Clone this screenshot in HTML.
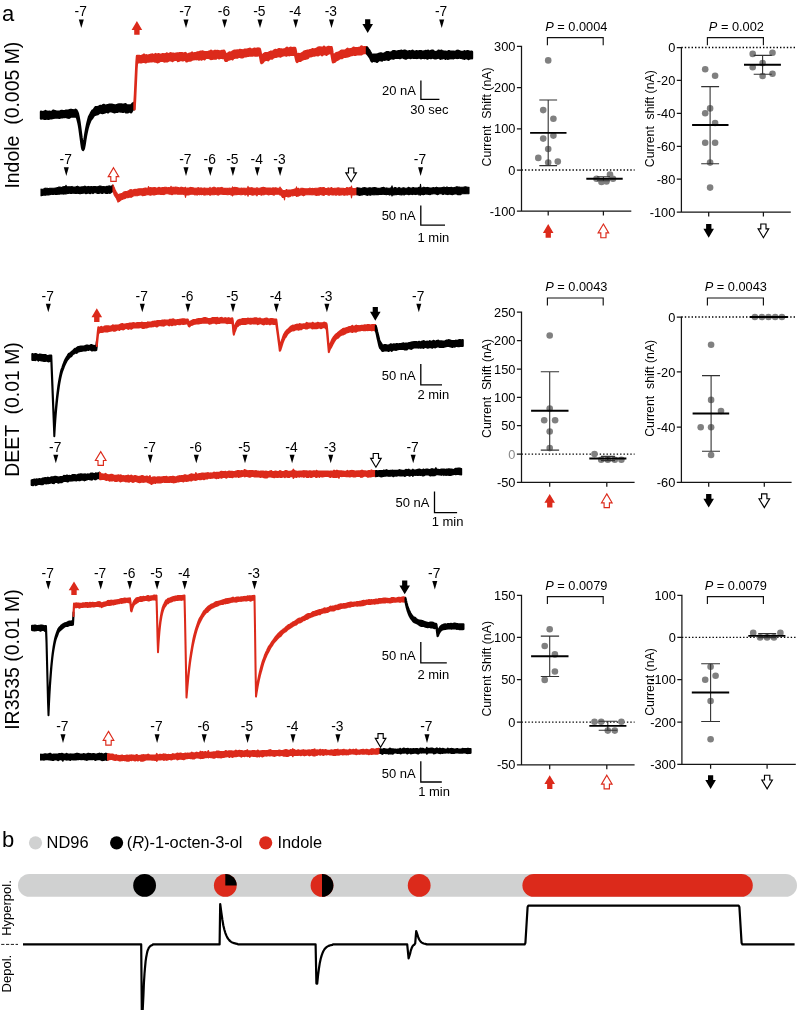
<!DOCTYPE html>
<html lang="en">
<head>
<meta charset="utf-8">
<title>Figure</title>
<style>
html,body{margin:0;padding:0;background:#fff;}
body{width:797px;height:1010px;overflow:hidden;}
svg{display:block;}
</style>
</head>
<body>
<svg width="797" height="1010" viewBox="0 0 797 1010" font-family="'Liberation Sans', Arial, Helvetica, sans-serif" fill="#000">
<rect width="797" height="1010" fill="#fff"/>
<text transform="translate(2.1 21.1) scale(1 1)" font-size="22" text-anchor="start">a</text>
<text transform="translate(1.9 846.9) scale(1 1)" font-size="22" text-anchor="start">b</text>
<text transform="translate(19 188.6) rotate(-90) scale(1 1.04)" font-size="19.45" text-anchor="start" xml:space="preserve">Indole  (0.005 M)</text>
<text transform="translate(19.3 476.8) rotate(-90) scale(1 1.04)" font-size="19.45" text-anchor="start" xml:space="preserve">DEET  (0.01 M)</text>
<text transform="translate(19.3 729.8) rotate(-90) scale(1 1.04)" font-size="19.45" text-anchor="start" xml:space="preserve">IR3535 (0.01 M)</text>
<polygon points="41,111.8 41.5,111.9 42,112 42.5,112.1 43,112.1 43.5,112 44,111.8 44.5,111.5 45,111.3 45.5,111 46,111.3 46.5,111.5 47,111.8 47.5,112.1 48,112 48.5,111.9 49,111.8 49.5,111.8 50,111.9 50.5,112 51,112 51.5,112 52,112 52.5,111.4 53,110.7 53.5,110.8 54,110.9 54.5,111.1 55,111.2 55.5,111.4 56,111.6 56.5,111.8 57,111.8 57.5,111.8 58,111.9 58.5,111.8 59,111.7 59.5,111.6 60,111.5 60.5,111.3 61,111 61.5,111.1 62,111 62.5,111 63,111.2 63.5,111.3 64,111.5 64.5,111.3 65,111.1 65.5,110.9 66,110.7 66.5,110.6 67,110.6 67.5,110.6 68,110.7 68.5,110.6 69,110.4 69.5,110.3 70,110.1 70.5,109.9 71,109.9 71.5,110 72,110.1 72.5,110.2 73,110.3 73.5,110.4 74,110.5 74.5,110.3 75,110.1 75.5,109.8 76,110.1 76.5,110.5 77,111.5 77.5,112.5 78,114.2 78.5,116.4 79,119.1 79.5,122.3 80,126 80.5,129.8 81,133.6 81.5,137.5 82,140.6 82.5,142.6 83,143.5 83.5,143.1 84,141.8 84.5,139.5 85,136.4 85.5,133 86,130.2 86.5,127.6 87,125.1 87.5,122.8 88,120.7 88.5,118.8 89,117.1 89.5,116 90,115 90.5,114.1 91,113 91.5,112.1 92,111.3 92.5,110.5 93,110.3 93.5,110.1 94,109.4 94.5,108.6 95,107.9 95.5,107.3 96,107.2 96.5,107.2 97,107.1 97.5,107.1 98,107.2 98.5,106.8 99,106.5 99.5,106.3 100,106 100.5,106 101,106 101.5,106.1 102,106 102.5,105.7 103,105.3 103.5,104.9 104,105 104.5,105.3 105,105.6 105.5,105.8 106,105.7 106.5,105.5 107,105.4 107.5,105.2 108,105.1 108.5,105 109,104.9 109.5,104.7 110,104.7 110.5,104.7 111,104.7 111.5,104.7 112,104.8 112.5,104.9 113,105 113.5,105.2 114,105.3 114.5,105.4 115,105.4 115.5,105.5 116,105.4 116.5,105.3 117,105.1 117.5,104.9 118,104.7 118.5,104.6 119,104.4 119.5,104.4 120,104.4 120.5,104.4 121,104.5 121.5,104.5 122,104.6 122.5,104.6 123,104.6 123.5,104.7 124,104.7 124.5,104.5 125,104.3 125.5,104.2 126,104.6 126.5,105.1 127,105.6 127.5,105.6 128,105.5 128.5,105.4 129,105.4 129.5,105.5 130,105.5 130.5,105.5 131,105.5 131.5,104.9 132,104.4 132.5,103.8 133,103.4 133.5,103.2 134,102.9 134,109.3 133.5,109.3 133,109.2 132.5,109.8 132,110.8 131.5,111.8 131,112.2 130.5,111.9 130,111.6 129.5,111.6 129,111.5 128.5,111.8 128,112.1 127.5,112.4 127,112.4 126.5,112.4 126,112.4 125.5,111.9 125,111.4 124.5,110.9 124,111.3 123.5,111.6 123,111.9 122.5,111.6 122,111.3 121.5,111.4 121,111.5 120.5,111.5 120,111.3 119.5,111.2 119,111.1 118.5,111.3 118,111.5 117.5,111.8 117,111.7 116.5,111.6 116,111.8 115.5,112 115,112.2 114.5,112.4 114,112.2 113.5,112 113,111.7 112.5,111.6 112,111.4 111.5,111.2 111,111.2 110.5,111.1 110,111.1 109.5,111.2 109,111.2 108.5,111.8 108,112.3 107.5,112.1 107,111.9 106.5,111.7 106,111.4 105.5,111.8 105,112.3 104.5,112.5 104,112.6 103.5,112.8 103,113 102.5,113 102,113 101.5,112.8 101,112.6 100.5,112.4 100,112.2 99.5,112.6 99,113.1 98.5,113.5 98,114 97.5,114.1 97,114.2 96.5,114.4 96,114.5 95.5,114.7 95,114.8 94.5,115 94,115.3 93.5,116 93,116.7 92.5,117.5 92,118.4 91.5,118.8 91,119.3 90.5,120.3 90,121.3 89.5,122.6 89,123.8 88.5,125.2 88,126.9 87.5,128.7 87,130.9 86.5,133.2 86,135.8 85.5,138.7 85,142.1 84.5,145.2 84,147.8 83.5,149.3 83,149.9 82.5,149.1 82,147.1 81.5,143.9 81,140.1 80.5,136.4 80,132.7 79.5,128.9 79,125.8 78.5,123.3 78,121.2 77.5,119.1 77,117.7 76.5,116.8 76,116.4 75.5,116.5 75,116.6 74.5,116.6 74,116.6 73.5,116.6 73,116.6 72.5,116.5 72,116.5 71.5,116.6 71,116.6 70.5,116.7 70,117.1 69.5,117.4 69,117.7 68.5,117.6 68,117.6 67.5,117.4 67,117.2 66.5,117.1 66,117 65.5,116.9 65,116.9 64.5,117 64,117 63.5,117.1 63,117.1 62.5,117.2 62,117.2 61.5,117.3 61,117.3 60.5,117.5 60,117.6 59.5,117.7 59,117.7 58.5,117.6 58,117.6 57.5,117.5 57,117.5 56.5,117.5 56,117.5 55.5,117.5 55,117.4 54.5,117.6 54,117.7 53.5,117.8 53,118 52.5,118 52,118.1 51.5,118.3 51,118.2 50.5,118.2 50,118.1 49.5,118.3 49,118.6 48.5,118.9 48,118.7 47.5,118.6 47,118.5 46.5,118.4 46,118.7 45.5,118.9 45,118.8 44.5,118.7 44,118.6 43.5,118.5 43,118.4 42.5,118.3 42,118.1 41.5,118.4 41,118.6" fill="#000000" stroke="#000000" stroke-width="2.4" stroke-linejoin="round"/>
<polygon points="134.5,102.6 135,93.7 135.5,83.1 136,72.7 136.5,62.2 137,56 137.5,56 138,55.9 138.5,56 139,55.9 139.5,56 140,56.1 140.5,56.1 141,56.1 141.5,56 142,56.1 142.5,55.6 143,55.3 143.5,55 144,54.6 144.5,55 145,55.5 145.5,55.9 146,55.6 146.5,55.3 147,55.6 147.5,55.8 148,55.9 148.5,55.7 149,55.4 149.5,55.2 150,55.1 150.5,54.9 151,54.8 151.5,54.7 152,54.6 152.5,54.4 153,54.8 153.5,55 154,55.4 154.5,55 155,54.5 155.5,54.1 156,54.5 156.5,54.9 157,54.8 157.5,54.6 158,54.4 158.5,54.1 159,54.4 159.5,54.6 160,54.7 160.5,54.9 161,55 161.5,54.7 162,54.5 162.5,54.1 163,54.2 163.5,54.4 164,54.5 164.5,54.4 165,54.3 165.5,54.2 166,54 166.5,53.7 167,53.4 167.5,54 168,54.6 168.5,54.3 169,54 169.5,53.7 170,53.5 170.5,53.3 171,53.4 171.5,53.6 172,53.7 172.5,53.7 173,53.7 173.5,53.8 174,53.9 174.5,53.9 175,54 175.5,53.9 176,53.7 176.5,53.6 177,53.5 177.5,53.5 178,53.5 178.5,53.4 179,53.4 179.5,53.3 180,53.1 180.5,53.1 181,53.1 181.5,53.1 182,53.2 182.5,53.4 183,53.6 183.5,53.8 184,53.6 184.5,53.5 185,53.2 185.5,53 186,53.5 186.5,54.8 187,55 187.5,54.9 188,54.6 188.5,54.2 189,53.9 189.5,53.8 190,53.8 190.5,53.8 191,53.4 191.5,53 192,52.6 192.5,53.2 193,53.7 193.5,53.6 194,53.5 194.5,53.3 195,53.2 195.5,53.2 196,53 196.5,53 197,52.7 197.5,52.4 198,52.4 198.5,52.4 199,52.4 199.5,52.1 200,51.9 200.5,51.8 201,51.7 201.5,51.7 202,51.6 202.5,51.5 203,51.6 203.5,51.8 204,52.1 204.5,52.1 205,52.1 205.5,52.1 206,52.1 206.5,52.2 207,52.3 207.5,52.3 208,52.1 208.5,51.9 209,51.7 209.5,51.6 210,51.4 210.5,51.1 211,50.8 211.5,51.2 212,51.4 212.5,51.7 213,52 213.5,51.6 214,51.3 214.5,50.9 215,50.9 215.5,51 216,51 216.5,51.1 217,51.1 217.5,51 218,51 218.5,51.2 219,51.4 219.5,51.6 220,51.5 220.5,51.6 221,51.4 221.5,51.1 222,50.9 222.5,50.9 223,51 223.5,50.9 224,50.7 224.5,51.6 225,52.7 225.5,54.2 226,54.3 226.5,54.4 227,54.2 227.5,53.9 228,53.6 228.5,53.2 229,52.9 229.5,52.5 230,52.5 230.5,52.6 231,52.6 231.5,52.6 232,52 232.5,51.5 233,51.3 233.5,51 234,50.9 234.5,50.8 235,50.8 235.5,50.7 236,50.7 236.5,50.6 237,50.5 237.5,50.5 238,50.6 238.5,50.7 239,50.4 239.5,50.2 240,49.9 240.5,50.1 241,50.2 241.5,50.3 242,50.3 242.5,50.4 243,50.4 243.5,50.5 244,50.2 244.5,49.8 245,49.8 245.5,49.8 246,49.8 246.5,49.7 247,49.6 247.5,49.5 248,49.4 248.5,49.3 249,49.1 249.5,48.9 250,48.8 250.5,49.1 251,49.4 251.5,49.6 252,49.7 252.5,49.7 253,49.4 253.5,49.1 254,48.9 254.5,48.7 255,48.9 255.5,48.9 256,49 256.5,48.9 257,48.8 257.5,48.6 258,48.5 258.5,48.6 259,48.6 259.5,48.6 260,49.7 260.5,52.1 261,54.7 261.5,56 262,55.6 262.5,55.2 263,54.9 263.5,54.4 264,54 264.5,53.5 265,53.4 265.5,53.2 266,53.1 266.5,53.1 267,53.1 267.5,53.1 268,53.1 268.5,52.9 269,52.7 269.5,52.4 270,52.1 270.5,51.9 271,51.6 271.5,51.8 272,51.9 272.5,51.9 273,51.5 273.5,51.1 274,50.5 274.5,50.3 275,50.1 275.5,49.9 276,50.2 276.5,50.4 277,50.7 277.5,50.2 278,49.8 278.5,49.2 279,49.2 279.5,49.3 280,49.4 280.5,49.4 281,49.5 281.5,49.5 282,49.6 282.5,49.6 283,49.6 283.5,49.6 284,49.4 284.5,49.4 285,49.3 285.5,48.9 286,48.5 286.5,48.1 287,47.8 287.5,48.1 288,48.3 288.5,48.6 289,48.4 289.5,48.4 290,48.1 290.5,47.8 291,47.9 291.5,47.9 292,48 292.5,48.2 293,48.1 293.5,48 294,47.9 294.5,48 295,48 295.5,49.5 296,52 296.5,54.9 297,55.9 297.5,55.8 298,54.8 298.5,53.9 299,54 299.5,54.2 300,54.4 300.5,54.1 301,53.9 301.5,53.6 302,53.3 302.5,53 303,52.7 303.5,52.3 304,51.8 304.5,51.4 305,51.4 305.5,51.3 306,51.2 306.5,51.3 307,50.9 307.5,50.6 308,50.6 308.5,50.6 309,50.6 309.5,50.4 310,50.2 310.5,50.1 311,50.1 311.5,49.8 312,49.5 312.5,49.1 313,49.3 313.5,49.5 314,49.6 314.5,49.5 315,49.4 315.5,49.2 316,49 316.5,48.7 317,48.5 317.5,48.2 318,47.9 318.5,47.6 319,47.5 319.5,47.5 320,47.4 320.5,47.6 321,47.8 321.5,47.8 322,47.9 322.5,47.9 323,47.5 323.5,47.2 324,46.8 324.5,47.2 325,47.5 325.5,47.8 326,47.7 326.5,47.7 327,47.7 327.5,47.4 328,47.2 328.5,46.9 329,47 329.5,47.1 330,47.2 330.5,47.2 331,47.2 331.5,47.1 332,49.5 332.5,52.9 333,55.6 333.5,55.8 334,55.3 334.5,54.9 335,54.4 335.5,53.8 336,53.3 336.5,53.1 337,53 337.5,52.9 338,52.9 338.5,52.6 339,52.4 339.5,52.1 340,51.9 340.5,51.4 341,51 341.5,50.7 342,50.6 342.5,50.6 343,50.7 343.5,50.7 344,50.7 344.5,50.7 345,50.6 345.5,50.4 346,50.2 346.5,49.7 347,49.3 347.5,48.8 348,49.1 348.5,49.5 349,49.8 349.5,49.6 350,49.2 350.5,49.1 351,49.1 351.5,49 352,49.1 352.5,48.6 353,48.2 353.5,47.8 354,47.9 354.5,48 355,48.1 355.5,48.3 356,48.3 356.5,48.4 357,48.3 357.5,48.2 358,48.1 358.5,48 359,48 359.5,48 360,47.9 360.5,47.4 361,46.9 361.5,46.4 362,46.8 362.5,47.2 363,47.4 363.5,47.4 364,47.3 364.5,47.3 365,47.2 365.5,47.2 366,47.3 366.5,47.3 367,47.5 367,53.4 366.5,53.1 366,53 365.5,53 365,52.9 364.5,53 364,53 363.5,53.2 363,53.3 362.5,53.5 362,53.9 361.5,54.2 361,54.3 360.5,54.3 360,54.4 359.5,54.4 359,54.3 358.5,54.3 358,54.3 357.5,54.1 357,54.3 356.5,54.5 356,54.7 355.5,54.9 355,54.8 354.5,54.7 354,54.6 353.5,54.5 353,54.7 352.5,54.9 352,55 351.5,55 351,55.1 350.5,55.3 350,55.5 349.5,55.8 349,55.9 348.5,56.1 348,56.2 347.5,56.4 347,56.5 346.5,56.6 346,56.6 345.5,56.8 345,56.8 344.5,56.7 344,56.7 343.5,57 343,57.4 342.5,57.6 342,58 341.5,58 341,57.9 340.5,57.9 340,58.2 339.5,58.4 339,58.8 338.5,59.1 338,59.4 337.5,59.6 337,59.9 336.5,60.1 336,60.5 335.5,60.8 335,61.3 334.5,61.8 334,61.9 333.5,62.1 333,62.2 332.5,60 332,57.1 331.5,54.1 331,53.3 330.5,53.2 330,52.9 329.5,53.1 329,53.2 328.5,53.3 328,53.7 327.5,54 327,54.3 326.5,54.7 326,54.4 325.5,54.3 325,54.1 324.5,53.8 324,53.9 323.5,54 323,54.4 322.5,54.9 322,55.2 321.5,54.6 321,54.1 320.5,54.2 320,54.3 319.5,54.3 319,54.7 318.5,55 318,55.4 317.5,55.2 317,54.9 316.5,54.7 316,55 315.5,55.2 315,55.4 314.5,55.5 314,55.5 313.5,55.4 313,55.3 312.5,55.6 312,55.9 311.5,56.1 311,56.2 310.5,56.3 310,56.3 309.5,56.4 309,56.4 308.5,57.1 308,57.9 307.5,58.1 307,58.2 306.5,58.4 306,58.5 305.5,58.6 305,58.8 304.5,58.9 304,58.9 303.5,59.1 303,59.2 302.5,59.3 302,59.7 301.5,60 301,60.4 300.5,60.7 300,60.8 299.5,60.8 299,60.8 298.5,61 298,61.2 297.5,61.6 297,61.9 296.5,61.1 296,58.9 295.5,56.7 295,55 294.5,54.8 294,54.6 293.5,54.7 293,54.7 292.5,54.7 292,54.7 291.5,54.7 291,54.8 290.5,54.8 290,54.9 289.5,55.1 289,55.2 288.5,55 288,54.8 287.5,54.6 287,55.1 286.5,55.6 286,55.4 285.5,55.3 285,55.1 284.5,55 284,55.1 283.5,55.2 283,55.4 282.5,55.5 282,55.7 281.5,56 281,56.2 280.5,56.6 280,56.3 279.5,56.1 279,55.8 278.5,56 278,56.2 277.5,56.3 277,56.4 276.5,56.6 276,56.8 275.5,56.9 275,56.9 274.5,57 274,57.1 273.5,57.2 273,57.7 272.5,58.1 272,58.6 271.5,58.5 271,58.3 270.5,58.5 270,58.7 269.5,58.9 269,59.4 268.5,59.8 268,60.2 267.5,60 267,59.8 266.5,59.6 266,59.8 265.5,60 265,60.2 264.5,60.4 264,60.6 263.5,61.3 263,61.9 262.5,62.5 262,62.8 261.5,63.1 261,61.8 260.5,58.9 260,56.1 259.5,54.7 259,55 258.5,55.2 258,55.3 257.5,55.5 257,55.6 256.5,55.6 256,55.5 255.5,55.5 255,55.5 254.5,55.4 254,55.3 253.5,55.3 253,55.4 252.5,55.5 252,55.5 251.5,55.5 251,55.5 250.5,55.5 250,55.5 249.5,55.5 249,55.6 248.5,55.7 248,55.8 247.5,55.8 247,56 246.5,56.1 246,56.2 245.5,56.1 245,56.2 244.5,56.2 244,56.5 243.5,56.8 243,57.1 242.5,57.2 242,57.3 241.5,57.3 241,57.2 240.5,56.9 240,56.8 239.5,56.8 239,56.8 238.5,57 238,57.2 237.5,57.5 237,57.5 236.5,57.5 236,57.6 235.5,57.5 235,57.6 234.5,57.7 234,57.8 233.5,57.9 233,58.5 232.5,59.2 232,58.8 231.5,58.4 231,58.7 230.5,58.9 230,59.1 229.5,59.4 229,59.5 228.5,59.5 228,59.6 227.5,60.1 227,60.7 226.5,60.7 226,60.8 225.5,60.9 225,59.7 224.5,58.4 224,57.1 223.5,57.1 223,57.6 222.5,58 222,57.9 221.5,57.9 221,57.8 220.5,57.7 220,57.8 219.5,58.1 219,58.3 218.5,57.9 218,57.5 217.5,57.2 217,57.7 216.5,58.1 216,58.5 215.5,58.5 215,58.5 214.5,58.5 214,58.5 213.5,58.4 213,58.5 212.5,58.7 212,58.8 211.5,58.9 211,59 210.5,58.7 210,58.4 209.5,58.2 209,57.8 208.5,57.8 208,57.8 207.5,57.8 207,57.9 206.5,57.9 206,57.9 205.5,58 205,58.7 204.5,59.3 204,58.9 203.5,58.6 203,58.3 202.5,58.7 202,59.2 201.5,59.6 201,59.1 200.5,58.6 200,59 199.5,59.2 199,59.6 198.5,59.3 198,59 197.5,58.7 197,59 196.5,59.2 196,59 195.5,58.9 195,59 194.5,59.1 194,59.2 193.5,59.2 193,59.3 192.5,59.3 192,59.6 191.5,59.9 191,60.3 190.5,60.5 190,60.5 189.5,60.4 189,60.5 188.5,60.5 188,60.7 187.5,61 187,61.3 186.5,61.4 186,60.4 185.5,59.6 185,59.4 184.5,59.6 184,59.9 183.5,60.2 183,60.4 182.5,60.3 182,60.1 181.5,60 181,59.8 180.5,60 180,60.1 179.5,60.3 179,60.6 178.5,60.8 178,61 177.5,60.3 177,59.6 176.5,59.7 176,59.7 175.5,59.8 175,59.8 174.5,59.9 174,60.1 173.5,60.2 173,60.6 172.5,61 172,60.7 171.5,60.4 171,60.1 170.5,60.1 170,60.2 169.5,60.2 169,60.2 168.5,60.6 168,60.8 167.5,61.1 167,61.4 166.5,61.3 166,61.2 165.5,61.1 165,61.4 164.5,61.5 164,61.3 163.5,60.9 163,60.5 162.5,60.7 162,60.8 161.5,60.8 161,60.9 160.5,60.8 160,60.8 159.5,61.3 159,61.6 158.5,61.9 158,62.1 157.5,62.2 157,61.9 156.5,61.6 156,61.3 155.5,61.4 155,61.5 154.5,61.4 154,61.2 153.5,61 153,61.1 152.5,61.1 152,61.2 151.5,61.3 151,61.3 150.5,61.3 150,61.3 149.5,61.4 149,61.5 148.5,61.6 148,61.6 147.5,61.6 147,61.6 146.5,61.8 146,62.1 145.5,62.4 145,62 144.5,61.6 144,61.7 143.5,61.7 143,61.7 142.5,61.9 142,62.1 141.5,62.2 141,62.4 140.5,62.3 140,62.2 139.5,62 139,61.9 138.5,62.3 138,62.5 137.5,62.4 137,62.2 136.5,68.3 136,79.2 135.5,90 135,101 134.5,109.4" fill="#dc2a1b" stroke="#dc2a1b" stroke-width="2.4" stroke-linejoin="round"/>
<polygon points="367,47.5 367.5,48.2 368,49 368.5,49.5 369,50.1 369.5,50.8 370,51.8 370.5,52.7 371,53.6 371.5,54.4 372,55.2 372.5,55.1 373,54.9 373.5,54.8 374,54.7 374.5,54.7 375,54.7 375.5,54.8 376,54.8 376.5,54.8 377,54.9 377.5,54.6 378,54.3 378.5,54 379,53.8 379.5,53.6 380,53.6 380.5,53.5 381,53.4 381.5,53.7 382,53.8 382.5,54 383,53.9 383.5,53.9 384,53.8 384.5,53.7 385,53.3 385.5,52.9 386,52.6 386.5,52.4 387,52.1 387.5,52.1 388,52.1 388.5,52.1 389,52.5 389.5,53 390,52.9 390.5,52.7 391,52.7 391.5,52.3 392,52 392.5,51.6 393,51.2 393.5,51.2 394,51.3 394.5,51.3 395,51.4 395.5,51.5 396,51.6 396.5,51.7 397,51.7 397.5,51.7 398,51.4 398.5,51.1 399,51.2 399.5,51.2 400,51 400.5,51 401,50.9 401.5,50.8 402,51.2 402.5,51.5 403,51.3 403.5,51 404,50.7 404.5,50.8 405,50.8 405.5,50.9 406,51.1 406.5,51.3 407,51.5 407.5,51.7 408,51.6 408.5,51.5 409,51.4 409.5,51.3 410,51.4 410.5,51.5 411,51.7 411.5,51.4 412,51.1 412.5,50.8 413,51.1 413.5,51.5 414,51.8 414.5,51.8 415,51.7 415.5,51.6 416,51.4 416.5,51.3 417,51.2 417.5,51.5 418,51.8 418.5,51.5 419,51.3 419.5,51.2 420,51.2 420.5,51.2 421,51.1 421.5,51.3 422,51.5 422.5,51.7 423,51.7 423.5,51.6 424,51.5 424.5,51.5 425,51.3 425.5,51.1 426,50.9 426.5,51.3 427,51.7 427.5,51.1 428,50.7 428.5,51.2 429,51.8 429.5,51.5 430,51.4 430.5,51.3 431,51 431.5,50.9 432,50.7 432.5,50.7 433,50.7 433.5,51.1 434,51.6 434.5,52 435,52.1 435.5,52.1 436,52 436.5,52 437,52 437.5,51.5 438,51.2 438.5,50.7 439,50.9 439.5,51 440,51.3 440.5,51.1 441,50.9 441.5,50.7 442,51.1 442.5,51.3 443,51.6 443.5,51.9 444,51.8 444.5,51.8 445,51.7 445.5,51.8 446,51.9 446.5,52 447,52 447.5,51.8 448,51.6 448.5,51.3 449,51.2 449.5,51.4 450,51.6 450.5,51.7 451,51.7 451.5,51.7 452,51.7 452.5,51.6 453,51.6 453.5,51.7 454,51.8 454.5,51.9 455,52 455.5,52 456,51.5 456.5,51 457,51 457.5,50.9 458,50.8 458.5,51 459,51.1 459.5,51.3 460,51.6 460.5,52 461,51.9 461.5,51.9 462,51.9 462.5,52 463,52 463.5,52 464,51.7 464.5,51.3 465,51.6 465.5,52 466,51.7 466.5,51.5 467,51.2 467.5,51.3 468,51.3 468.5,51.4 469,51.6 469.5,51.7 470,52 470.5,51.9 471,51.8 471.5,51.7 472,51.9 472,58.2 471.5,57.9 471,58.1 470.5,58.2 470,58.3 469.5,58.4 469,58.7 468.5,59 468,58.7 467.5,58.5 467,58.3 466.5,58 466,58 465.5,58.2 465,58.4 464.5,58.7 464,58.6 463.5,58.4 463,58.3 462.5,58.2 462,58 461.5,57.9 461,57.7 460.5,57.7 460,57.6 459.5,57.6 459,57.6 458.5,57.7 458,57.7 457.5,57.9 457,58 456.5,57.8 456,57.7 455.5,57.5 455,57.7 454.5,57.7 454,57.9 453.5,58.2 453,58.1 452.5,58.1 452,58.2 451.5,58.1 451,58.1 450.5,58.1 450,58.2 449.5,58.2 449,58.3 448.5,58.5 448,58.8 447.5,58.3 447,57.9 446.5,58.1 446,58.4 445.5,58.7 445,58.3 444.5,58 444,57.5 443.5,57.8 443,58.1 442.5,58.2 442,58.4 441.5,58.4 441,58.5 440.5,58.7 440,58.3 439.5,57.9 439,57.5 438.5,57.6 438,57.7 437.5,57.7 437,57.9 436.5,58.1 436,58.2 435.5,58.2 435,58.2 434.5,58.2 434,58 433.5,57.9 433,57.7 432.5,57.5 432,57.7 431.5,57.9 431,58.1 430.5,58 430,57.7 429.5,57.5 429,57.7 428.5,57.9 428,58.2 427.5,58.6 427,58.4 426.5,58 426,57.7 425.5,57.9 425,57.9 424.5,58.1 424,57.9 423.5,57.8 423,57.7 422.5,57.5 422,57.7 421.5,58 421,58.3 420.5,58 420,57.6 419.5,57.5 419,57.5 418.5,57.5 418,57.7 417.5,57.8 417,58 416.5,57.9 416,57.7 415.5,57.7 415,57.7 414.5,57.6 414,57.8 413.5,57.9 413,57.7 412.5,57.5 412,57.4 411.5,57.7 411,57.9 410.5,58.1 410,57.9 409.5,57.7 409,57.4 408.5,57.6 408,57.7 407.5,57.9 407,57.9 406.5,58.2 406,58.6 405.5,58.5 405,58.3 404.5,58.1 404,58 403.5,57.8 403,57.5 402.5,57.2 402,57.3 401.5,57.3 401,57.6 400.5,57.8 400,58.1 399.5,58 399,57.9 398.5,57.8 398,57.6 397.5,57.7 397,57.8 396.5,57.8 396,57.8 395.5,57.9 395,57.9 394.5,58 394,58.3 393.5,58.6 393,58.5 392.5,58.4 392,58.3 391.5,58.3 391,58.3 390.5,58.3 390,58.7 389.5,59.1 389,59.5 388.5,59.9 388,59.6 387.5,59.4 387,59.2 386.5,59 386,59.2 385.5,59.5 385,59.7 384.5,59.7 384,59.5 383.5,59.4 383,59.7 382.5,60.1 382,60.5 381.5,60.4 381,60.2 380.5,60.1 380,60.1 379.5,60.1 379,60.1 378.5,60.5 378,61 377.5,61.3 377,61.8 376.5,61.1 376,60.5 375.5,60.9 375,61.2 374.5,61 374,60.7 373.5,60.5 373,60.8 372.5,61.1 372,61.4 371.5,60.9 371,59.7 370.5,58.4 370,57.6 369.5,56.8 369,56 368.5,55.4 368,54.8 367.5,54.2 367,53.4" fill="#000000" stroke="#000000" stroke-width="2.4" stroke-linejoin="round"/>
<text transform="translate(80.7 16.3) scale(1 1)" font-size="13.8" text-anchor="middle">-7</text>
<polygon points="78.8,19.4 83.8,19.4 81.3,28" fill="#000"/>
<text transform="translate(185.4 16.3) scale(1 1)" font-size="13.8" text-anchor="middle">-7</text>
<polygon points="183.5,19.4 188.5,19.4 186,28" fill="#000"/>
<text transform="translate(224 16.3) scale(1 1)" font-size="13.8" text-anchor="middle">-6</text>
<polygon points="222.1,19.4 227.1,19.4 224.6,28" fill="#000"/>
<text transform="translate(259.4 16.3) scale(1 1)" font-size="13.8" text-anchor="middle">-5</text>
<polygon points="257.5,19.4 262.5,19.4 260,28" fill="#000"/>
<text transform="translate(295.1 16.3) scale(1 1)" font-size="13.8" text-anchor="middle">-4</text>
<polygon points="293.2,19.4 298.2,19.4 295.7,28" fill="#000"/>
<text transform="translate(330.9 16.3) scale(1 1)" font-size="13.8" text-anchor="middle">-3</text>
<polygon points="329,19.4 334,19.4 331.5,28" fill="#000"/>
<text transform="translate(441.1 16.3) scale(1 1)" font-size="13.8" text-anchor="middle">-7</text>
<polygon points="439.2,19.4 444.2,19.4 441.7,28" fill="#000"/>
<polygon points="136.9,21.1 142.2,30 139.6,30 139.6,34.8 134.2,34.8 134.2,30 131.6,30" fill="#dc2a1b"/>
<polygon points="367.7,33 373,24.1 370.3,24.1 370.3,19.3 365.1,19.3 365.1,24.1 362.4,24.1" fill="#000000"/>
<path d="M420.9 80.5V99.3H439.4" fill="none" stroke="#000" stroke-width="1.3"/>
<text transform="translate(415.9 94.7) scale(1 1.04)" font-size="13" text-anchor="end">20 nA</text>
<text transform="translate(410.2 114.3) scale(1 1.04)" font-size="13" text-anchor="start">30 sec</text>
<polygon points="41,189.1 41.5,189.2 42,189.3 42.5,189.4 43,189.3 43.5,189.2 44,188.8 44.5,188.4 45,188.1 45.5,188.2 46,188.4 46.5,188.3 47,188.3 47.5,188.3 48,188.5 48.5,188.7 49,188.5 49.5,188.3 50,188.3 50.5,188.3 51,188.4 51.5,188.2 52,188.2 52.5,188.2 53,188.2 53.5,188.2 54,188.3 54.5,188.2 55,188.1 55.5,188.1 56,188 56.5,187.9 57,187.8 57.5,187.6 58,187.4 58.5,187.1 59,187 59.5,187 60,187.1 60.5,187.3 61,187.4 61.5,187.5 62,187.3 62.5,187 63,186.8 63.5,186.7 64,186.6 64.5,186.5 65,186.6 65.5,186.7 66,185.2 66.5,186.7 67,186.8 67.5,186.8 68,186.8 68.5,186.8 69,186.8 69.5,186.8 70,186.7 70.5,186.7 71,186.7 71.5,186.6 72,186.4 72.5,186.7 73,186.9 73.5,187.1 74,187.1 74.5,187.1 75,187.2 75.5,187.1 76,186.8 76.5,186.6 77,186.4 77.5,186.1 78,186.4 78.5,186.8 79,187.1 79.5,187 80,187 80.5,187 81,187 81.5,186.9 82,186.9 82.5,186.8 83,186.7 83.5,186.7 84,186.4 84.5,186.2 85,186.1 85.5,186.5 86,186.9 86.5,186.9 87,186.9 87.5,186.8 88,186.6 88.5,186.4 89,186.6 89.5,186.7 90,186.7 90.5,186.7 91,186.6 91.5,186.6 92,186.7 92.5,186.8 93,186.7 93.5,186.6 94,186.5 94.5,186.5 95,186.5 95.5,186.6 96,186.7 96.5,186.7 97,186.8 97.5,186.7 98,186.6 98.5,186.4 99,186.2 99.5,186 100,186.1 100.5,186.1 101,186.2 101.5,186.2 102,186.4 102.5,186.6 103,186.7 103.5,186.6 104,186.5 104.5,186.7 105,186.9 105.5,186.7 106,186.6 106.5,186.4 107,186.4 107.5,186.4 108,186.5 108.5,186.2 109,185.8 109.5,186 110,186.1 110.5,186.2 111,186.4 111.5,186.2 112,185.7 112.5,185.2 112.5,191.8 112,192 111.5,192.4 111,192.7 110.5,193.1 110,193.4 109.5,193.2 109,192.9 108.5,193.1 108,193.2 107.5,193.4 107,193.4 106.5,193.5 106,193.5 105.5,193.3 105,193.1 104.5,192.9 104,192.6 103.5,192.9 103,193.2 102.5,193.5 102,193.4 101.5,193.2 101,193.1 100.5,192.9 100,192.7 99.5,193 99,193.5 98.5,193.5 98,193.5 97.5,193.4 97,193.3 96.5,193 96,192.8 95.5,192.7 95,192.6 94.5,192.6 94,192.9 93.5,193.2 93,193.6 92.5,193.2 92,192.8 91.5,193.1 91,193.3 90.5,193.6 90,193.6 89.5,193.5 89,193.4 88.5,193.1 88,192.9 87.5,193.2 87,193.4 86.5,193.6 86,193.6 85.5,193.6 85,193.2 84.5,192.8 84,193 83.5,193.1 83,193.2 82.5,193.3 82,193.4 81.5,193.4 81,193.5 80.5,193.7 80,193.8 79.5,193.6 79,193.5 78.5,193.4 78,193.4 77.5,193.3 77,193.3 76.5,193.4 76,193.5 75.5,193.5 75,193.4 74.5,193.3 74,193.3 73.5,193.3 73,193.2 72.5,193.1 72,193.2 71.5,193.5 71,193.5 70.5,193.4 70,193.3 69.5,193.3 69,193.3 68.5,193.4 68,193.5 67.5,193.5 67,193.6 66.5,193.7 66,193.9 65.5,194 65,193.9 64.5,193.9 64,194 63.5,194.1 63,194 62.5,194 62,194 61.5,193.9 61,193.9 60.5,194 60,194 59.5,194.2 59,194.3 58.5,194.2 58,194.3 57.5,194.2 57,194.4 56.5,194.4 56,194.5 55.5,194.4 55,194.2 54.5,194.1 54,194.3 53.5,194.4 53,194.6 52.5,194.4 52,194.3 51.5,194.3 51,194.4 50.5,194.5 50,194.6 49.5,194.8 49,194.9 48.5,194.9 48,194.9 47.5,194.9 47,194.8 46.5,194.9 46,195.1 45.5,195.2 45,195.2 44.5,195.1 44,195.1 43.5,195 43,195.2 42.5,195.4 42,195.5 41.5,195.7 41,195.8" fill="#000000" stroke="#000000" stroke-width="1.1" stroke-linejoin="round"/>
<polygon points="113,184.7 113.5,185.6 114,187.3 114.5,188.3 115,189.4 115.5,190.4 116,191.5 116.5,192.3 117,193.1 117.5,194 118,194.8 118.5,194.5 119,194.2 119.5,194.1 120,194 120.5,193.9 121,193.8 121.5,193.6 122,193.5 122.5,193.1 123,192.7 123.5,192.3 124,191.9 124.5,191.8 125,191.7 125.5,191.6 126,191.6 126.5,191.5 127,191.5 127.5,191.3 128,191.1 128.5,190.9 129,190.5 129.5,190.1 130,189.8 130.5,189.7 131,189.6 131.5,189.8 132,190 132.5,190.3 133,190 133.5,189.8 134,189.6 134.5,189.4 135,189.4 135.5,189.4 136,189.5 136.5,189.4 137,189.2 137.5,189.1 138,189 138.5,188.9 139,188.9 139.5,188.8 140,188.7 140.5,188.7 141,188.8 141.5,188.7 142,188.8 142.5,188.8 143,188.8 143.5,188.6 144,188.3 144.5,188.2 145,188.1 145.5,188 146,188.1 146.5,188.3 147,188.4 147.5,188.3 148,188.2 148.5,186.5 149,188 149.5,187.9 150,187.7 150.5,187.6 151,187.7 151.5,187.7 152,187.8 152.5,187.9 153,187.8 153.5,187.7 154,187.5 154.5,187.6 155,187.6 155.5,187.7 156,187.9 156.5,188.2 157,188.1 157.5,188 158,187.7 158.5,187.5 159,187.3 159.5,187.6 160,187.8 160.5,188 161,187.9 161.5,187.8 162,187.7 162.5,187.5 163,187.5 163.5,187.5 164,187.5 164.5,187.4 165,187.3 165.5,187.2 166,187.3 166.5,187.4 167,187.6 167.5,187.7 168,187.7 168.5,187.6 169,187.5 169.5,187.7 170,187.8 170.5,187.6 171,186.2 171.5,187.4 172,187.3 172.5,187.3 173,187.4 173.5,187.4 174,187.4 174.5,187.3 175,187.3 175.5,187.1 176,187.1 176.5,187.3 177,187.3 177.5,187.4 178,187.5 178.5,187.6 179,187.8 179.5,187.9 180,187.7 180.5,187.4 181,187.1 181.5,187.2 182,187.4 182.5,187.5 183,187.7 183.5,187.7 184,187.7 184.5,187.7 185,187.9 185.5,187.2 186,188.2 186.5,188.2 187,188.1 187.5,188.1 188,188.1 188.5,188.1 189,187.9 189.5,187.7 190,187.6 190.5,187.4 191,187.5 191.5,187.5 192,187.6 192.5,187.7 193,187.8 193.5,187.9 194,188.1 194.5,188.3 195,188.3 195.5,188.2 196,188.1 196.5,188.3 197,188.4 197.5,188 198,187.6 198.5,187.8 199,188 199.5,188.1 200,188.2 200.5,188 201,187.9 201.5,188 202,188.2 202.5,188.3 203,188.4 203.5,188.2 204,187.9 204.5,188 205,188.1 205.5,188.2 206,188.2 206.5,188.3 207,188.3 207.5,188.3 208,188.4 208.5,188.4 209,188.3 209.5,188.3 210,187.3 210.5,188.2 211,188.2 211.5,188.1 212,187.9 212.5,187.7 213,187.4 213.5,187.2 214,187.3 214.5,187.2 215,187.5 215.5,187.7 216,188 216.5,188.2 217,188 217.5,187.8 218,187.7 218.5,187.8 219,187.9 219.5,187.9 220,188 220.5,187.8 221,187.6 221.5,187.5 222,187.4 222.5,187.8 223,188.1 223.5,188.3 224,188.4 224.5,188.4 225,188.4 225.5,188.4 226,188.3 226.5,188.2 227,188.2 227.5,188.4 228,188.4 228.5,188.3 229,188.2 229.5,188.1 230,188.2 230.5,188.3 231,188.4 231.5,188.4 232,188.4 232.5,186.8 233,188 233.5,187.8 234,187.6 234.5,187.4 235,187.4 235.5,187.5 236,187.5 236.5,187.6 237,187.7 237.5,187.8 238,187.9 238.5,188.1 239,188.2 239.5,188.3 240,188.3 240.5,188.2 241,188.2 241.5,188.1 242,188.3 242.5,188.4 243,188.3 243.5,188.2 244,188.1 244.5,188.2 245,188.2 245.5,188.2 246,188.2 246.5,188.3 247,188.4 247.5,188.2 248,186.3 248.5,187.9 249,187.9 249.5,187.9 250,187.9 250.5,188 251,187.8 251.5,187.7 252,187.6 252.5,187.9 253,188.1 253.5,188.4 254,188.3 254.5,188.3 255,188.3 255.5,188.2 256,188.2 256.5,188.2 257,187.6 257.5,188.2 258,188.2 258.5,188.3 259,188.3 259.5,188.2 260,188.2 260.5,188 261,187.9 261.5,187.7 262,187.5 262.5,187.5 263,187.4 263.5,187.4 264,187.5 264.5,187.6 265,187.8 265.5,187.9 266,188 266.5,188 267,188 267.5,188 268,188 268.5,188.1 269,188.1 269.5,188 270,188 270.5,188 271,188.2 271.5,188.4 272,188.1 272.5,187.9 273,187.9 273.5,187.9 274,188 274.5,188 275,187.9 275.5,187.8 276,187.7 276.5,188 277,188.2 277.5,188.4 278,188.3 278.5,188.3 279,188.3 279.5,188.2 280,187.1 280.5,187.9 281,188.4 281.5,189 282,189.7 282.5,190.3 283,190.5 283.5,190.6 284,190.6 284.5,190.6 285,190.6 285.5,190.2 286,189.9 286.5,189.5 287,189.8 287.5,190 288,190.2 288.5,190.1 289,190.1 289.5,190.1 290,190 290.5,190 291,190 291.5,189.9 292,189.7 292.5,189.7 293,189.6 293.5,189.5 294,189.3 294.5,189.1 295,188.9 295.5,188.7 296,188.7 296.5,186.9 297,188.7 297.5,188.6 298,188.5 298.5,188.3 299,188.7 299.5,188.9 300,189.3 300.5,188.8 301,188.2 301.5,188.3 302,188.4 302.5,188.4 303,188.4 303.5,188.5 304,188.6 304.5,188.7 305,188.8 305.5,188.7 306,188.7 306.5,188.8 307,188.9 307.5,188.8 308,188.7 308.5,188.7 309,188.4 309.5,188.1 310,188.2 310.5,188.3 311,188.5 311.5,188.5 312,188.5 312.5,188.4 313,188.5 313.5,188.7 314,188.6 314.5,188.5 315,188.3 315.5,188.3 316,188.3 316.5,188.3 317,188.3 317.5,188.3 318,188.3 318.5,188.1 319,187.9 319.5,187.8 320,187.7 320.5,187.6 321,187.7 321.5,187.7 322,187.8 322.5,187.7 323,187.6 323.5,187.6 324,187.5 324.5,187.9 325,188.3 325.5,188.6 326,188.6 326.5,188.5 327,188.5 327.5,188.2 328,187.9 328.5,187.9 329,188.1 329.5,188.2 330,188.3 330.5,188 331,187.8 331.5,187.5 332,188 332.5,188.5 333,188.5 333.5,188.5 334,188.4 334.5,188.3 335,188.3 335.5,188.3 336,188.2 336.5,188.2 337,188.1 337.5,188 338,187.8 338.5,187.9 339,188 339.5,188.1 340,188.2 340.5,188.2 341,188.2 341.5,188.2 342,188.2 342.5,188.2 343,188.3 343.5,188.4 344,188.5 344.5,188.5 345,188.5 345.5,188.5 346,188.2 346.5,187.8 347,187.5 347.5,187.7 348,187.9 348.5,188.1 349,187.8 349.5,187.7 350,187.4 350.5,187.7 351,187.9 351.5,186 352,188.4 352.5,188.4 353,188.5 353.5,188.6 354,188.5 354.5,188.6 355,188.5 355.5,188.5 356,188.3 356.5,188.1 357,187.9 357,194.7 356.5,194.6 356,194.7 355.5,194.6 355,194.7 354.5,194.9 354,195 353.5,195 353,194.9 352.5,194.8 352,194.9 351.5,197.9 351,194.9 350.5,194.8 350,194.6 349.5,194.6 349,194.4 348.5,194.7 348,194.8 347.5,195.1 347,195 346.5,194.9 346,194.8 345.5,194.9 345,195.1 344.5,195.2 344,195.3 343.5,195 343,194.7 342.5,194.5 342,194.7 341.5,194.9 341,195 340.5,195 340,195.1 339.5,195.1 339,195.2 338.5,194.9 338,194.7 337.5,194.5 337,194.8 336.5,195.1 336,195.4 335.5,195.1 335,194.8 334.5,194.8 334,194.9 333.5,194.9 333,195 332.5,195 332,195 331.5,194.8 331,194.6 330.5,194.4 330,194.8 329.5,195.1 329,195.4 328.5,195.1 328,194.9 327.5,194.7 327,194.4 326.5,194.4 326,194.5 325.5,194.4 325,194.4 324.5,194.9 324,195.5 323.5,195.3 323,195.2 322.5,195 322,195 321.5,194.8 321,194.6 320.5,194.4 320,194.7 319.5,195 319,195.3 318.5,195.1 318,195 317.5,195.2 317,195.3 316.5,195.5 316,195.3 315.5,195.1 315,195 314.5,194.8 314,194.7 313.5,194.6 313,194.6 312.5,194.7 312,194.9 311.5,194.8 311,194.7 310.5,194.6 310,194.6 309.5,194.6 309,194.7 308.5,194.7 308,194.7 307.5,194.7 307,194.8 306.5,194.8 306,194.8 305.5,194.7 305,195 304.5,195.3 304,195.6 303.5,195.9 303,195.5 302.5,195.3 302,195 301.5,195 301,195 300.5,195 300,195.3 299.5,195.5 299,195.7 298.5,196 298,196.1 297.5,196.1 297,196.1 296.5,196.5 296,195.7 295.5,195.5 295,195.4 294.5,195.4 294,195.5 293.5,195.7 293,195.8 292.5,195.9 292,195.8 291.5,195.8 291,195.8 290.5,196.2 290,196.7 289.5,196.7 289,196.8 288.5,197 288,196.9 287.5,196.7 287,196.5 286.5,196.4 286,196.4 285.5,196.4 285,196.7 284.5,200 284,197.4 283.5,197.4 283,197.4 282.5,197.5 282,196.7 281.5,195.9 281,195.1 280.5,194.3 280,195.2 279.5,194.3 279,194.3 278.5,194.3 278,194.3 277.5,194.3 277,194.3 276.5,194.3 276,194.3 275.5,194.3 275,194.3 274.5,194.8 274,195.3 273.5,195 273,194.8 272.5,194.6 272,194.5 271.5,194.4 271,194.4 270.5,194.3 270,194.5 269.5,194.6 269,194.7 268.5,194.9 268,194.7 267.5,194.5 267,194.3 266.5,194.3 266,194.3 265.5,194.3 265,194.3 264.5,194.6 264,194.9 263.5,194.7 263,194.5 262.5,194.8 262,194.9 261.5,195.2 261,194.9 260.5,194.7 260,194.6 259.5,194.4 259,194.4 258.5,194.5 258,194.5 257.5,194.7 257,195.9 256.5,194.8 256,194.9 255.5,194.8 255,194.7 254.5,194.6 254,194.7 253.5,195 253,195.1 252.5,195.1 252,195 251.5,194.9 251,194.7 250.5,194.5 250,194.3 249.5,194.4 249,194.5 248.5,194.6 248,196.3 247.5,194.3 247,194.2 246.5,194.5 246,194.8 245.5,195.1 245,194.9 244.5,194.7 244,194.4 243.5,194.3 243,194.2 242.5,194.5 242,194.6 241.5,194.7 241,194.7 240.5,194.7 240,194.6 239.5,194.4 239,194.3 238.5,194.4 238,194.6 237.5,194.5 237,194.5 236.5,194.6 236,194.6 235.5,194.7 235,194.8 234.5,194.8 234,194.9 233.5,194.9 233,195 232.5,195.9 232,195.1 231.5,195.1 231,194.9 230.5,194.7 230,194.5 229.5,194.3 229,194.4 228.5,194.6 228,194.7 227.5,194.7 227,194.6 226.5,194.5 226,194.5 225.5,194.5 225,194.4 224.5,194.5 224,194.5 223.5,194.5 223,194.4 222.5,194.2 222,194.2 221.5,194.1 221,194.1 220.5,194.1 220,194.1 219.5,194.4 219,194.8 218.5,195.1 218,195 217.5,195 217,194.9 216.5,194.6 216,194.2 215.5,194.4 215,194.5 214.5,194.7 214,194.8 213.5,194.7 213,194.7 212.5,194.7 212,194.6 211.5,194.7 211,194.8 210.5,194.9 210,195.5 209.5,194.3 209,194.4 208.5,194.5 208,194.6 207.5,194.7 207,194.7 206.5,194.8 206,194.8 205.5,194.9 205,195 204.5,195 204,195.1 203.5,194.7 203,194.3 202.5,194.4 202,194.6 201.5,194.8 201,194.5 200.5,194.3 200,194.6 199.5,194.9 199,194.6 198.5,194.3 198,194.6 197.5,194.9 197,195.2 196.5,194.7 196,194.2 195.5,194.7 195,195 194.5,194.7 194,194.4 193.5,194.3 193,194.3 192.5,194.2 192,194.2 191.5,194.2 191,194.2 190.5,194.2 190,194.4 189.5,194.7 189,194.8 188.5,194.9 188,194.9 187.5,194.9 187,194.9 186.5,194.9 186,194.9 185.5,197.5 185,194.8 184.5,194.7 184,194.6 183.5,194.4 183,194.1 182.5,194.2 182,194.2 181.5,194.2 181,194.3 180.5,194.3 180,194.3 179.5,194.3 179,194.3 178.5,194.3 178,194.3 177.5,194.3 177,194.1 176.5,193.9 176,193.9 175.5,194 175,194.1 174.5,194 174,194 173.5,193.9 173,194.2 172.5,194.5 172,194.8 171.5,194.5 171,194.3 170.5,194.3 170,194.2 169.5,194.1 169,194 168.5,193.9 168,193.8 167.5,193.8 167,193.8 166.5,193.8 166,193.8 165.5,193.9 165,194.1 164.5,194.3 164,194.6 163.5,194.5 163,194.4 162.5,194.3 162,194.4 161.5,194.4 161,194.5 160.5,194.4 160,194.3 159.5,194.2 159,194.1 158.5,194.2 158,194.2 157.5,194.2 157,194.3 156.5,194.5 156,194.5 155.5,194.6 155,194.8 154.5,195 154,195 153.5,195 153,194.8 152.5,194.6 152,194.8 151.5,194.9 151,195.1 150.5,195.1 150,195.1 149.5,195 149,194.8 148.5,194.6 148,194.5 147.5,194.6 147,194.7 146.5,194.8 146,195.1 145.5,195.2 145,195.3 144.5,195.4 144,195.4 143.5,195.5 143,195.6 142.5,195.7 142,195.4 141.5,195 141,195 140.5,194.9 140,194.9 139.5,195.1 139,195.2 138.5,195.3 138,195.5 137.5,195.7 137,195.8 136.5,195.8 136,195.7 135.5,195.6 135,195.7 134.5,195.8 134,195.8 133.5,195.8 133,196.2 132.5,196.5 132,196.9 131.5,197.3 131,197.2 130.5,197.2 130,197.1 129.5,197.2 129,197.3 128.5,197.5 128,197.7 127.5,197.7 127,197.6 126.5,197.6 126,197.9 125.5,198.2 125,198.5 124.5,198.6 124,198.7 123.5,198.9 123,199.1 122.5,199.4 122,199.6 121.5,199.8 121,200 120.5,200.4 120,200.8 119.5,201.2 119,201.5 118.5,201.8 118,202.1 117.5,200.9 117,199.8 116.5,198.5 116,197.7 115.5,196.9 115,196.3 114.5,195.5 114,194.4 113.5,192.4 113,191.4" fill="#dc2a1b" stroke="#dc2a1b" stroke-width="1.1" stroke-linejoin="round"/>
<polygon points="357,187.9 357.5,187.9 358,187.9 358.5,188 359,188 359.5,188.1 360,188.2 360.5,188.3 361,188.4 361.5,188.5 362,188.3 362.5,188 363,187.8 363.5,187.8 364,187.7 364.5,187.5 365,187.7 365.5,187.8 366,188 366.5,188.1 367,188.3 367.5,188.2 368,188.1 368.5,188 369,187.9 369.5,187.8 370,187.8 370.5,187.9 371,188 371.5,188 372,188 372.5,187.9 373,187.8 373.5,187.7 374,187.6 374.5,187.6 375,187.6 375.5,187.7 376,187.8 376.5,188 377,188.1 377.5,188.2 378,188.3 378.5,188.4 379,188.4 379.5,188.3 380,188.2 380.5,188.1 381,187.9 381.5,187.8 382,187.8 382.5,187.6 383,187.5 383.5,187.3 384,187.5 384.5,187.8 385,188 385.5,188.2 386,188.1 386.5,188 387,187.9 387.5,188.2 388,188.3 388.5,188.3 389,188.3 389.5,188.3 390,188.3 390.5,188.1 391,187.8 391.5,187.5 392,185.8 392.5,187.7 393,188 393.5,188.4 394,188.1 394.5,187.7 395,187.4 395.5,187.6 396,187.8 396.5,188.1 397,188.4 397.5,188.2 398,187.9 398.5,187.7 399,187.4 399.5,187.7 400,188 400.5,188.3 401,188.3 401.5,188.3 402,188.2 402.5,188 403,187.7 403.5,187.7 404,187.7 404.5,188 405,188.2 405.5,188.3 406,188.2 406.5,188.3 407,188.2 407.5,187.9 408,187.6 408.5,187.3 409,187.6 409.5,187.8 410,188 410.5,188 411,188.1 411.5,188.2 412,187.9 412.5,187.7 413,187.4 413.5,187.6 414,187.8 414.5,188 415,188 415.5,188 416,187.9 416.5,188 417,188 417.5,188.1 418,187.8 418.5,187.6 419,187.3 419.5,187.7 420,188 420.5,184.4 421,188 421.5,188 422,188 422.5,187.7 423,187.5 423.5,187.2 424,187.3 424.5,187.5 425,187.6 425.5,187.7 426,187.7 426.5,187.6 427,187.4 427.5,187.5 428,187.5 428.5,187.7 429,187.8 429.5,188 430,188 430.5,188 431,188.1 431.5,188.1 432,187.9 432.5,187.8 433,187.7 433.5,187.5 434,187.7 434.5,188 435,187.9 435.5,187.6 436,187.4 436.5,187.1 437,187.4 437.5,187.6 438,187.9 438.5,187.9 439,187.9 439.5,187.9 440,187.8 440.5,187.8 441,187.9 441.5,187.7 442,187.6 442.5,187.5 443,187.4 443.5,187.2 444,187 444.5,187.3 445,187.5 445.5,187.6 446,187.4 446.5,187.1 447,186.9 447.5,187.3 448,187.6 448.5,187.6 449,187.6 449.5,187.6 450,187.6 450.5,187.5 451,187.4 451.5,187.4 452,187.5 452.5,187.7 453,187.8 453.5,187.7 454,187.6 454.5,187.5 455,187.4 455.5,187.2 456,187 456.5,186.8 457,186.8 457.5,186.9 458,187 458.5,187.1 459,187.1 459.5,187.1 460,187.2 460.5,187.2 461,187.3 461.5,187.3 462,187.3 462.5,187.3 463,187.3 463.5,187.3 464,187.1 464.5,187 465,186.8 465.5,186.7 466,186.9 466.5,187 467,187.1 467.5,187.2 468,187.3 468.5,187.5 469,187.3 469,193.6 468.5,193.7 468,193.8 467.5,193.7 467,193.7 466.5,193.7 466,193.6 465.5,193.6 465,193.5 464.5,193.6 464,193.6 463.5,193.7 463,193.8 462.5,193.7 462,193.6 461.5,194 461,194.3 460.5,194.7 460,194.7 459.5,194.6 459,194.6 458.5,194.6 458,194.6 457.5,194.6 457,194.3 456.5,194.1 456,193.9 455.5,193.9 455,194 454.5,194 454,194.2 453.5,194.3 453,194.5 452.5,194.7 452,194.6 451.5,194.5 451,194.4 450.5,194.3 450,194.2 449.5,194.1 449,194 448.5,194.3 448,194.6 447.5,194.5 447,194.4 446.5,194.3 446,194.2 445.5,194.1 445,194 444.5,193.8 444,194.1 443.5,194.4 443,194.6 442.5,194.3 442,194 441.5,193.7 441,193.7 440.5,193.7 440,193.7 439.5,193.8 439,194 438.5,194.3 438,194.5 437.5,194.7 437,194.4 436.5,194.2 436,194 435.5,193.9 435,193.9 434.5,193.8 434,193.8 433.5,193.8 433,193.9 432.5,193.9 432,193.9 431.5,193.9 431,194.2 430.5,194.4 430,194.7 429.5,194.6 429,194.4 428.5,194.4 428,194.3 427.5,194.2 427,194.1 426.5,194.1 426,194 425.5,193.9 425,194.2 424.5,194.4 424,194.6 423.5,194.6 423,194.6 422.5,194.5 422,194.4 421.5,194.3 421,194.2 420.5,195.3 420,194.6 419.5,194.9 419,195 418.5,194.6 418,194.1 417.5,194.1 417,194.2 416.5,194.2 416,194.4 415.5,194.6 415,194.4 414.5,194.2 414,194 413.5,194.1 413,194.4 412.5,194.6 412,194.5 411.5,194.3 411,194.2 410.5,194 410,194.4 409.5,194.6 409,194.8 408.5,194.6 408,194.5 407.5,194.3 407,194.2 406.5,194.2 406,194.2 405.5,194.2 405,194.5 404.5,194.9 404,194.9 403.5,194.8 403,194.7 402.5,194.8 402,194.8 401.5,194.9 401,194.9 400.5,194.8 400,194.7 399.5,194.6 399,194.5 398.5,194.4 398,194.3 397.5,194.4 397,194.5 396.5,194.6 396,194.6 395.5,194.7 395,194.6 394.5,194.7 394,194.9 393.5,195 393,195 392.5,194.8 392,196 391.5,194.3 391,194.5 390.5,194.7 390,194.8 389.5,195.1 389,194.7 388.5,194.4 388,194.2 387.5,194.4 387,194.5 386.5,194.7 386,194.6 385.5,194.5 385,194.5 384.5,194.4 384,194.4 383.5,194.3 383,194.3 382.5,194.2 382,194.4 381.5,194.4 381,194.4 380.5,194.5 380,194.5 379.5,194.5 379,194.5 378.5,194.6 378,194.6 377.5,194.5 377,194.6 376.5,194.6 376,194.6 375.5,194.7 375,194.7 374.5,194.8 374,194.9 373.5,194.8 373,194.7 372.5,194.6 372,194.5 371.5,194.8 371,195 370.5,195.2 370,195.1 369.5,195 369,194.9 368.5,194.8 368,195.1 367.5,195.4 367,195.2 366.5,195.1 366,194.9 365.5,194.8 365,194.6 364.5,194.5 364,194.4 363.5,194.6 363,194.8 362.5,195 362,195 361.5,195 361,195.1 360.5,195.2 360,195.3 359.5,195.4 359,195.2 358.5,195.1 358,194.9 357.5,194.7 357,194.7" fill="#000000" stroke="#000000" stroke-width="1.1" stroke-linejoin="round"/>
<text transform="translate(65.7 164.2) scale(1 1)" font-size="13.8" text-anchor="middle">-7</text>
<polygon points="63.8,167.3 68.8,167.3 66.3,175.9" fill="#000"/>
<text transform="translate(185.4 164.2) scale(1 1)" font-size="13.8" text-anchor="middle">-7</text>
<polygon points="183.5,167.3 188.5,167.3 186,175.9" fill="#000"/>
<text transform="translate(209.7 164.2) scale(1 1)" font-size="13.8" text-anchor="middle">-6</text>
<polygon points="207.8,167.3 212.8,167.3 210.3,175.9" fill="#000"/>
<text transform="translate(232.3 164.2) scale(1 1)" font-size="13.8" text-anchor="middle">-5</text>
<polygon points="230.4,167.3 235.4,167.3 232.9,175.9" fill="#000"/>
<text transform="translate(256.7 164.2) scale(1 1)" font-size="13.8" text-anchor="middle">-4</text>
<polygon points="254.8,167.3 259.8,167.3 257.3,175.9" fill="#000"/>
<text transform="translate(279.5 164.2) scale(1 1)" font-size="13.8" text-anchor="middle">-3</text>
<polygon points="277.6,167.3 282.6,167.3 280.1,175.9" fill="#000"/>
<text transform="translate(420 164.2) scale(1 1)" font-size="13.8" text-anchor="middle">-7</text>
<polygon points="418.1,167.3 423.1,167.3 420.6,175.9" fill="#000"/>
<polygon points="113.5,167.7 118.8,176.6 116.2,176.6 116.2,181.4 110.8,181.4 110.8,176.6 108.2,176.6" fill="#fff" stroke="#dc2a1b" stroke-width="1.15" stroke-linejoin="miter"/>
<polygon points="351.1,181.7 356.4,172.8 353.8,172.8 353.8,168 348.5,168 348.5,172.8 345.8,172.8" fill="#fff" stroke="#000000" stroke-width="1.15" stroke-linejoin="miter"/>
<path d="M420.8 205.4V225.2H445" fill="none" stroke="#000" stroke-width="1.3"/>
<text transform="translate(415.6 219.5) scale(1 1.04)" font-size="13" text-anchor="end">50 nA</text>
<text transform="translate(417.5 241.5) scale(1 1.04)" font-size="13" text-anchor="start">1 min</text>
<path d="M521.5 170H634.6" stroke="#000" stroke-width="1.3" stroke-dasharray="1.4 2" fill="none"/>
<circle cx="548.2" cy="60.4" r="3.3" fill="#808080"/>
<circle cx="543.2" cy="110.1" r="3.3" fill="#808080"/>
<circle cx="553.4" cy="118.8" r="3.3" fill="#808080"/>
<circle cx="543.2" cy="138.6" r="3.3" fill="#808080"/>
<circle cx="553.4" cy="135.6" r="3.3" fill="#808080"/>
<circle cx="548.2" cy="149" r="3.3" fill="#808080"/>
<circle cx="538.3" cy="157.9" r="3.3" fill="#808080"/>
<circle cx="548.2" cy="162.6" r="3.3" fill="#808080"/>
<circle cx="557.8" cy="161.6" r="3.3" fill="#808080"/>
<circle cx="596.5" cy="178.7" r="3.3" fill="#808080"/>
<circle cx="601.5" cy="181.9" r="3.3" fill="#808080"/>
<circle cx="606.5" cy="181.4" r="3.3" fill="#808080"/>
<circle cx="610" cy="174.5" r="3.3" fill="#808080"/>
<circle cx="613" cy="178.7" r="3.3" fill="#808080"/>
<path d="M539.3 100H557.1M539.3 165.6H557.1M548.2 100V165.6" stroke="#333" stroke-width="1.1" fill="none"/>
<path d="M530.1 132.9H566.5" stroke="#000" stroke-width="1.9" fill="none"/>
<path d="M597 176.8H610M597 180.7H610M603.4 176.8V180.7" stroke="#333" stroke-width="1.1" fill="none"/>
<path d="M586.3 178.7H622.7" stroke="#000" stroke-width="1.9" fill="none"/>
<path d="M521.5 45.8V211.1H631.3M516.9 46.3H521.5M516.9 87.6H521.5M516.9 128.8H521.5M516.9 170H521.5M516.9 211.1H521.5M548.2 211.1V215.5M603.4 211.1V215.5" stroke="#151515" stroke-width="1.25" fill="none"/>
<text transform="translate(515.4 50.9) scale(1 1.04)" font-size="12.8" text-anchor="end">300</text>
<text transform="translate(515.4 92.2) scale(1 1.04)" font-size="12.8" text-anchor="end">200</text>
<text transform="translate(515.4 133.4) scale(1 1.04)" font-size="12.8" text-anchor="end">100</text>
<text transform="translate(515.4 174.6) scale(1 1.04)" font-size="12.8" text-anchor="end">0</text>
<text transform="translate(515.4 215.7) scale(1 1.04)" font-size="12.8" text-anchor="end">-100</text>
<text transform="translate(490.6 117) rotate(-90) scale(1 1.04)" font-size="12.3" text-anchor="middle" xml:space="preserve">Current  Shift (nA)</text>
<text transform="translate(545.2 31.1) scale(1 1.04)" font-size="12.8"><tspan font-style="italic">P</tspan> = 0.0004</text>
<path d="M547.4 45.2V37.6H603.2V45.2" stroke="#111" stroke-width="1.15" fill="none"/>
<polygon points="548.2,224 553.5,232.9 550.9,232.9 550.9,237.7 545.6,237.7 545.6,232.9 542.9,232.9" fill="#dc2a1b"/>
<polygon points="603.4,224 608.7,232.9 606,232.9 606,237.7 600.8,237.7 600.8,232.9 598.1,232.9" fill="#fff" stroke="#dc2a1b" stroke-width="1.15" stroke-linejoin="miter"/>
<path d="M681.4 47.5H797" stroke="#000" stroke-width="1.3" stroke-dasharray="1.4 2" fill="none"/>
<circle cx="705.2" cy="69.3" r="3.3" fill="#808080"/>
<circle cx="715.1" cy="75.7" r="3.3" fill="#808080"/>
<circle cx="710.1" cy="108.4" r="3.3" fill="#808080"/>
<circle cx="705.2" cy="113.3" r="3.3" fill="#808080"/>
<circle cx="715.1" cy="123" r="3.3" fill="#808080"/>
<circle cx="705.2" cy="142.8" r="3.3" fill="#808080"/>
<circle cx="715.1" cy="142.8" r="3.3" fill="#808080"/>
<circle cx="710.1" cy="162.6" r="3.3" fill="#808080"/>
<circle cx="710.1" cy="187.6" r="3.3" fill="#808080"/>
<circle cx="752.7" cy="53.9" r="3.3" fill="#808080"/>
<circle cx="772.5" cy="52.7" r="3.3" fill="#808080"/>
<circle cx="762.6" cy="63.1" r="3.3" fill="#808080"/>
<circle cx="752.7" cy="67.3" r="3.3" fill="#808080"/>
<circle cx="772.5" cy="73.7" r="3.3" fill="#808080"/>
<circle cx="762.6" cy="76" r="3.3" fill="#808080"/>
<path d="M701.2 86.6H719.1M701.2 163.8H719.1M710.1 86.6V163.8" stroke="#333" stroke-width="1.1" fill="none"/>
<path d="M692.1 125H728.5" stroke="#000" stroke-width="1.9" fill="none"/>
<path d="M753.7 55.4H771.8M753.7 74.2H771.8M762.6 55.4V74.2" stroke="#333" stroke-width="1.1" fill="none"/>
<path d="M744 64.8H780.9" stroke="#000" stroke-width="1.9" fill="none"/>
<path d="M681.4 47V212.1H790.8M676.8 47.5H681.4M676.8 80.4H681.4M676.8 113.3H681.4M676.8 146.3H681.4M676.8 179.2H681.4M676.8 212.1H681.4M708.7 212.1V216.5M763.4 212.1V216.5" stroke="#151515" stroke-width="1.25" fill="none"/>
<text transform="translate(675.3 52.1) scale(1 1.04)" font-size="12.8" text-anchor="end">0</text>
<text transform="translate(675.3 85) scale(1 1.04)" font-size="12.8" text-anchor="end">-20</text>
<text transform="translate(675.3 117.9) scale(1 1.04)" font-size="12.8" text-anchor="end">-40</text>
<text transform="translate(675.3 150.9) scale(1 1.04)" font-size="12.8" text-anchor="end">-60</text>
<text transform="translate(675.3 183.8) scale(1 1.04)" font-size="12.8" text-anchor="end">-80</text>
<text transform="translate(675.3 216.7) scale(1 1.04)" font-size="12.8" text-anchor="end">-100</text>
<text transform="translate(654.2 118.7) rotate(-90) scale(1 1.04)" font-size="12.3" text-anchor="middle" xml:space="preserve">Current  shift (nA)</text>
<text transform="translate(708.8 31.1) scale(1 1.04)" font-size="12.8"><tspan font-style="italic">P</tspan> = 0.002</text>
<path d="M707.4 45.2V37.6H763.4V45.2" stroke="#111" stroke-width="1.15" fill="none"/>
<polygon points="708.7,237.7 714,228.8 711.4,228.8 711.4,224 706.1,224 706.1,228.8 703.4,228.8" fill="#000000"/>
<polygon points="763.4,237.7 768.7,228.8 766,228.8 766,224 760.8,224 760.8,228.8 758.1,228.8" fill="#fff" stroke="#000000" stroke-width="1.15" stroke-linejoin="miter"/>
<polygon points="32.3,354 32.8,354.1 33.3,354.3 33.8,354.4 34.3,354.5 34.8,354.2 35.3,353.9 35.8,354 36.3,354.2 36.8,354.4 37.3,354.7 37.8,354.9 38.3,354.9 38.8,354.8 39.3,354.6 39.8,354.5 40.3,354.6 40.8,354.7 41.3,354.8 41.8,354.8 42.3,354.9 42.8,355 43.3,355 43.8,355 44.3,355 44.8,355.1 45.3,355.1 45.8,355.1 46.3,355.5 46.8,355.8 47.3,355.9 47.8,356 48.3,356 48.8,355.8 49.3,355.7 49.8,355.5 50.3,355.5 50.8,355.5 51.3,355.5 51.8,368.4 52.3,380.8 52.8,393.6 53.3,406.3 53.8,418.6 54.3,430.9 54.8,422.6 55.3,415.6 55.8,409.3 56.3,403.7 56.8,398.6 57.3,394.1 57.8,390 58.3,386.2 58.8,382.9 59.3,379.9 59.8,377.2 60.3,374.7 60.8,372.3 61.3,370.2 61.8,368.9 62.3,367.6 62.8,366.1 63.3,364.6 63.8,363.3 64.3,362 64.8,360.8 65.3,359.8 65.8,358.8 66.3,357.9 66.8,357.1 67.3,356.3 67.8,355.4 68.3,354.6 68.8,353.9 69.3,353.6 69.8,353.3 70.3,353 70.8,352.6 71.3,352.2 71.8,351.8 72.3,351.4 72.8,351 73.3,350.6 73.8,350 74.3,349.4 74.8,348.8 75.3,348.9 75.8,349 76.3,348.4 76.8,347.8 77.3,347.5 77.8,347.2 78.3,347 78.8,346.9 79.3,346.8 79.8,346.8 80.3,346.7 80.8,346.5 81.3,346.5 81.8,346.5 82.3,346.5 82.8,346.6 83.3,346.6 83.8,346.5 84.3,346.4 84.8,346.2 85.3,346 85.8,345.8 86.3,345.6 86.8,345.5 87.3,345.5 87.8,345.6 88.3,345.8 88.8,345.8 89.3,345.8 89.8,345.8 90.3,345.5 90.8,345.2 91.3,344.9 91.8,345.2 92.3,345.5 92.8,345.7 93.3,345.8 93.8,345.8 94.3,345.9 94.8,345.9 95.3,345.8 95.8,345.7 96.3,345.7 96.8,341.7 96.8,346.1 96.3,350.1 95.8,350.2 95.3,350.3 94.8,350.4 94.3,350.2 93.8,350.2 93.3,350.1 92.8,350.3 92.3,350.4 91.8,350.5 91.3,350.1 90.8,349.8 90.3,349.4 89.8,349.2 89.3,349.2 88.8,349.7 88.3,350.1 87.8,349.8 87.3,349.6 86.8,349.4 86.3,350 85.8,350.6 85.3,350.6 84.8,350.4 84.3,350.3 83.8,350.4 83.3,350.5 82.8,350.6 82.3,350.8 81.8,350.8 81.3,350.9 80.8,350.9 80.3,351.1 79.8,351.2 79.3,351.3 78.8,351.4 78.3,351.4 77.8,351.9 77.3,352.4 76.8,352.9 76.3,352.8 75.8,352.7 75.3,352.6 74.8,352.9 74.3,353.3 73.8,353.6 73.3,353.9 72.8,354.2 72.3,354.6 71.8,355.4 71.3,356.3 70.8,356.4 70.3,356.7 69.8,356.9 69.3,357.5 68.8,358.2 68.3,358.8 67.8,359.3 67.3,359.8 66.8,360.6 66.3,361.5 65.8,362.6 65.3,363.5 64.8,364.5 64.3,365.7 63.8,367 63.3,368.3 62.8,369.6 62.3,371 61.8,372.5 61.3,374.3 60.8,376.3 60.3,378.5 59.8,381.1 59.3,383.9 58.8,387.1 58.3,390.5 57.8,394.3 57.3,398.5 56.8,403.1 56.3,408.2 55.8,413.9 55.3,420.4 54.8,427.7 54.3,436.2 53.8,423.7 53.3,411.2 52.8,398.7 52.3,386 51.8,373.4 51.3,360.7 50.8,360.8 50.3,361 49.8,361.1 49.3,361.2 48.8,361.3 48.3,361.4 47.8,361.1 47.3,360.8 46.8,360.5 46.3,360.7 45.8,360.8 45.3,360.9 44.8,361.1 44.3,360.9 43.8,360.9 43.3,360.8 42.8,360.7 42.3,360.6 41.8,360.5 41.3,360.5 40.8,360.3 40.3,360 39.8,359.9 39.3,359.8 38.8,360.2 38.3,360.6 37.8,360.1 37.3,359.6 36.8,359.6 36.3,359.6 35.8,359.9 35.3,360.2 34.8,360.1 34.3,360 33.8,360 33.3,360 32.8,360 32.3,360" fill="#000000" stroke="#000000" stroke-width="2.0" stroke-linejoin="round"/>
<polygon points="96.8,341.7 97.3,336.6 97.8,331.5 98.3,327.3 98.8,327.5 99.3,327.7 99.8,327.8 100.3,327.9 100.8,327.3 101.3,326.8 101.8,327.1 102.3,327.4 102.8,327.6 103.3,327.4 103.8,327.1 104.3,326.7 104.8,326.4 105.3,326.4 105.8,326.3 106.3,326.2 106.8,326.2 107.3,326.2 107.8,326.3 108.3,326.3 108.8,326.5 109.3,326.7 109.8,326.6 110.3,326.5 110.8,326.5 111.3,326.5 111.8,326.1 112.3,325.7 112.8,325.3 113.3,325.4 113.8,325.6 114.3,325.7 114.8,325.7 115.3,325.6 115.8,325.4 116.3,325.4 116.8,325.4 117.3,325.4 117.8,325.4 118.3,325.4 118.8,325.3 119.3,325.1 119.8,324.9 120.3,324.7 120.8,324.5 121.3,324.3 121.8,324 122.3,323.9 122.8,324.2 123.3,324.4 123.8,324.5 124.3,324.5 124.8,324.5 125.3,324.4 125.8,324.3 126.3,324.2 126.8,324.1 127.3,324.1 127.8,324.1 128.3,324.1 128.8,323.8 129.3,323.6 129.8,323.6 130.3,323.6 130.8,323.5 131.3,323.6 131.8,323.4 132.3,323.3 132.8,323.2 133.3,323.1 133.8,323.2 134.3,323.3 134.8,323.5 135.3,323.6 135.8,323.4 136.3,323.3 136.8,323.1 137.3,323.1 137.8,323 138.3,323 138.8,323 139.3,323.2 139.8,323.1 140.3,323 140.8,322.9 141.3,322.8 141.8,322.6 142.3,322.7 142.8,323.1 143.3,323.1 143.8,323 144.3,323 144.8,322.9 145.3,322.9 145.8,323 146.3,323 146.8,323.1 147.3,322.7 147.8,322.3 148.3,322.4 148.8,322.4 149.3,322.5 149.8,322.5 150.3,322.5 150.8,322.5 151.3,322.4 151.8,322.2 152.3,322 152.8,321.8 153.3,321.8 153.8,321.7 154.3,321.6 154.8,321.4 155.3,321.4 155.8,321.4 156.3,321.4 156.8,321.2 157.3,321 157.8,320.9 158.3,320.9 158.8,320.9 159.3,320.9 159.8,321 160.3,321 160.8,321.1 161.3,320.9 161.8,320.7 162.3,320.5 162.8,320.6 163.3,320.5 163.8,320.5 164.3,320.4 164.8,320.3 165.3,320.4 165.8,320.4 166.3,320.5 166.8,320.5 167.3,320.5 167.8,320.5 168.3,320.6 168.8,320.3 169.3,320 169.8,319.7 170.3,319.7 170.8,319.7 171.3,319.8 171.8,319.7 172.3,319.6 172.8,319.5 173.3,319.3 173.8,319.6 174.3,320 174.8,320.3 175.3,320.3 175.8,320.3 176.3,320.2 176.8,320.2 177.3,320.1 177.8,320.1 178.3,320 178.8,319.9 179.3,319.8 179.8,319.8 180.3,319.7 180.8,319.6 181.3,319.5 181.8,319.4 182.3,319.2 182.8,319.2 183.3,319.3 183.8,319.3 184.3,319.3 184.8,319.4 185.3,319.6 185.8,319.7 186.3,319.7 186.8,319.6 187.3,319.6 187.8,319.6 188.3,320.8 188.8,321.9 189.3,322.1 189.8,321.8 190.3,321.5 190.8,321.4 191.3,321.1 191.8,320.8 192.3,320.5 192.8,320.3 193.3,320 193.8,320.1 194.3,320.1 194.8,320 195.3,320 195.8,319.9 196.3,319.7 196.8,319.5 197.3,319.3 197.8,319.2 198.3,319.1 198.8,319.1 199.3,319 199.8,318.9 200.3,319 200.8,319.1 201.3,319.2 201.8,319 202.3,318.8 202.8,318.6 203.3,318.3 203.8,318.1 204.3,317.9 204.8,318 205.3,318 205.8,318.1 206.3,318.3 206.8,318.6 207.3,318.6 207.8,318.8 208.3,318.9 208.8,319 209.3,318.9 209.8,318.9 210.3,318.9 210.8,318.9 211.3,318.6 211.8,318.4 212.3,318 212.8,318 213.3,318 213.8,317.9 214.3,317.9 214.8,317.9 215.3,318 215.8,317.9 216.3,317.9 216.8,317.9 217.3,317.8 217.8,318.1 218.3,318.4 218.8,318.6 219.3,318.9 219.8,318.4 220.3,317.9 220.8,317.9 221.3,317.9 221.8,317.8 222.3,318.2 222.8,318.6 223.3,319 223.8,318.8 224.3,318.5 224.8,318.3 225.3,318.1 225.8,318.3 226.3,318.5 226.8,318.8 227.3,319 227.8,318.6 228.3,318.1 228.8,318.3 229.3,318.5 229.8,318.6 230.3,318.8 230.8,318.7 231.3,318.6 231.8,318.5 232.3,318.3 232.8,320.7 233.3,326.9 233.8,329.9 234.3,328.1 234.8,326.6 235.3,325.2 235.8,324 236.3,323 236.8,322.1 237.3,321.4 237.8,320.7 238.3,320.4 238.8,320.1 239.3,319.9 239.8,319.8 240.3,319.7 240.8,319.7 241.3,319.7 241.8,319.4 242.3,319.1 242.8,319 243.3,319 243.8,319 244.3,318.9 244.8,318.9 245.3,318.9 245.8,319 246.3,319.1 246.8,319.2 247.3,318.9 247.8,318.5 248.3,318.7 248.8,318.8 249.3,319 249.8,318.9 250.3,318.8 250.8,318.7 251.3,318.8 251.8,318.9 252.3,319 252.8,318.8 253.3,318.7 253.8,318.6 254.3,318.4 254.8,318.2 255.3,318.3 255.8,318.3 256.3,318.3 256.8,318.5 257.3,318.7 257.8,318.9 258.3,319 258.8,318.8 259.3,318.6 259.8,318.4 260.3,318.7 260.8,319 261.3,319.3 261.8,319.4 262.3,319.3 262.8,319.4 263.3,319.4 263.8,319.2 264.3,319.1 264.8,319 265.3,318.8 265.8,318.7 266.3,318.5 266.8,318.6 267.3,318.7 267.8,319 268.3,319.4 268.8,319.7 269.3,319.5 269.8,319.3 270.3,319.1 270.8,318.9 271.3,319 271.8,319 272.3,319.1 272.8,319.2 273.3,319.2 273.8,319.3 274.3,319.4 274.8,319.5 275.3,319.5 275.8,319.5 276.3,319.6 276.8,323.5 277.3,327.5 277.8,331.4 278.3,335.2 278.8,339 279.3,342.9 279.8,346.7 280.3,345.8 280.8,343.8 281.3,342 281.8,340.7 282.3,339.5 282.8,337.9 283.3,336.4 283.8,335 284.3,334.1 284.8,333.2 285.3,332.4 285.8,331.7 286.3,331.1 286.8,330.5 287.3,330 287.8,329.6 288.3,329.2 288.8,328.6 289.3,328.1 289.8,327.6 290.3,327.1 290.8,326.7 291.3,326.4 291.8,326.1 292.3,325.8 292.8,325.5 293.3,325.7 293.8,326 294.3,325.7 294.8,325.4 295.3,325.2 295.8,325 296.3,324.9 296.8,324.7 297.3,324.5 297.8,324.8 298.3,325.1 298.8,324.6 299.3,324.1 299.8,324.2 300.3,324.2 300.8,324.4 301.3,324.5 301.8,324.6 302.3,324.5 302.8,324.4 303.3,324.3 303.8,324.3 304.3,324.4 304.8,324.2 305.3,324.2 305.8,323.8 306.3,323.3 306.8,322.9 307.3,323.3 307.8,323.6 308.3,323.5 308.8,323.4 309.3,323.4 309.8,323.5 310.3,323.5 310.8,323.5 311.3,323.6 311.8,323.3 312.3,323 312.8,322.8 313.3,323.3 313.8,323.7 314.3,323.7 314.8,323.6 315.3,323.5 315.8,323.4 316.3,323.5 316.8,323.3 317.3,323 317.8,322.8 318.3,323 318.8,323.2 319.3,323.4 319.8,323.3 320.3,323.3 320.8,323.3 321.3,323.3 321.8,323.3 322.3,323.4 322.8,323.2 323.3,322.9 323.8,322.7 324.3,322.6 324.8,322.8 325.3,323.1 325.8,323.2 326.3,323.2 326.8,325.1 327.3,330.3 327.8,336.2 328.3,342.1 328.8,347.9 329.3,346.6 329.8,345.3 330.3,344.2 330.8,343 331.3,341.7 331.8,340.5 332.3,339.3 332.8,338.5 333.3,337.7 333.8,337 334.3,336.4 334.8,335.8 335.3,335.2 335.8,334.6 336.3,334.2 336.8,333.8 337.3,333.5 337.8,333 338.3,332.5 338.8,332.2 339.3,331.8 339.8,331.4 340.3,331 340.8,330.6 341.3,330.2 341.8,329.8 342.3,329.5 342.8,329.1 343.3,328.7 343.8,328.8 344.3,328.8 344.8,328.6 345.3,328.4 345.8,328.3 346.3,328.1 346.8,327.9 347.3,327.8 347.8,327.6 348.3,327.4 348.8,327.1 349.3,326.9 349.8,326.9 350.3,327 350.8,327 351.3,326.6 351.8,326.2 352.3,325.8 352.8,326.3 353.3,326.7 353.8,326.7 354.3,326.6 354.8,326.6 355.3,326.3 355.8,325.9 356.3,325.6 356.8,325.8 357.3,325.9 357.8,326.1 358.3,326.1 358.8,326.2 359.3,326.2 359.8,326.1 360.3,326.1 360.8,325.9 361.3,325.8 361.8,325.7 362.3,325.7 362.8,325.7 363.3,325.8 363.8,325.6 364.3,325.5 364.8,325.3 365.3,325.3 365.8,325.4 366.3,325.5 366.8,325.3 367.3,325.1 367.8,325 368.3,324.9 368.8,325 369.3,325.1 369.8,325.3 370.3,325.5 370.8,325.4 371.3,325.2 371.8,325.1 372.3,324.9 372.8,325 373.3,325.1 373.8,325.2 374.3,325 374.8,324.9 375.3,325 375.3,330.5 374.8,330.3 374.3,330.2 373.8,330.1 373.3,330 372.8,330.1 372.3,330.2 371.8,330.4 371.3,330.1 370.8,329.9 370.3,329.9 369.8,329.9 369.3,329.9 368.8,330 368.3,330.1 367.8,330.2 367.3,330.1 366.8,330.1 366.3,330.1 365.8,330.2 365.3,330.2 364.8,330.2 364.3,330.3 363.8,330.2 363.3,330.2 362.8,330.1 362.3,330.1 361.8,330 361.3,330.1 360.8,330.2 360.3,330.4 359.8,330.4 359.3,330.5 358.8,330.5 358.3,330.5 357.8,330.7 357.3,330.9 356.8,331.2 356.3,331.5 355.8,331.7 355.3,331.6 354.8,331.5 354.3,331.3 353.8,331.2 353.3,331.4 352.8,331.8 352.3,332.1 351.8,331.9 351.3,331.6 350.8,331.4 350.3,331.3 349.8,331.3 349.3,331.7 348.8,332 348.3,332.1 347.8,332.2 347.3,332.3 346.8,332.4 346.3,332.5 345.8,332.9 345.3,333.3 344.8,333.7 344.3,333.9 343.8,334.1 343.3,334.3 342.8,334.6 342.3,334.6 341.8,334.7 341.3,334.8 340.8,335.1 340.3,335.5 339.8,335.8 339.3,336.1 338.8,336.8 338.3,337.5 337.8,337.7 337.3,337.9 336.8,338.3 336.3,338.6 335.8,339.1 335.3,339.6 334.8,340.4 334.3,341.2 333.8,342 333.3,342.9 332.8,343.8 332.3,344.8 331.8,345.8 331.3,346.9 330.8,347.6 330.3,348.4 329.8,349.3 329.3,350.6 328.8,352.1 328.3,346.6 327.8,341.1 327.3,335.7 326.8,330.2 326.3,328.1 325.8,328.3 325.3,327.7 324.8,327.2 324.3,327.3 323.8,327.2 323.3,327.2 322.8,327.4 322.3,327.6 321.8,327.8 321.3,328 320.8,328.2 320.3,327.9 319.8,327.6 319.3,327.4 318.8,327.5 318.3,327.7 317.8,327.8 317.3,328 316.8,328.2 316.3,328.3 315.8,328.2 315.3,328.2 314.8,328.2 314.3,328.2 313.8,328.1 313.3,328.2 312.8,328.3 312.3,328.4 311.8,328 311.3,327.5 310.8,327.5 310.3,327.5 309.8,327.5 309.3,327.5 308.8,327.7 308.3,327.9 307.8,328.2 307.3,328.5 306.8,328.6 306.3,328.6 305.8,328.5 305.3,328.3 304.8,328.1 304.3,328.1 303.8,328.1 303.3,328.1 302.8,328.1 302.3,328.5 301.8,328.8 301.3,329.2 300.8,329.3 300.3,329.3 299.8,329.3 299.3,329.4 298.8,329.6 298.3,329.8 297.8,329.4 297.3,329.1 296.8,329.2 296.3,329.4 295.8,329.5 295.3,329.6 294.8,329.8 294.3,330.1 293.8,330.4 293.3,330.3 292.8,330.3 292.3,330.4 291.8,330.6 291.3,330.9 290.8,331.2 290.3,331.5 289.8,331.9 289.3,332.2 288.8,332.6 288.3,333.1 287.8,333.6 287.3,334.1 286.8,334.9 286.3,335.8 285.8,336.7 285.3,337.2 284.8,337.8 284.3,338.8 283.8,339.9 283.3,341.1 282.8,342.3 282.3,343.9 281.8,345.5 281.3,347.2 280.8,348.6 280.3,350.2 279.8,350.8 279.3,346.7 278.8,342.8 278.3,339 277.8,335.2 277.3,331.6 276.8,328 276.3,324.4 275.8,324.2 275.3,324.1 274.8,324.1 274.3,324 273.8,324 273.3,323.9 272.8,323.8 272.3,323.6 271.8,323.5 271.3,323.7 270.8,323.9 270.3,324.1 269.8,324.4 269.3,323.9 268.8,323.3 268.3,323.5 267.8,323.7 267.3,323.9 266.8,324.1 266.3,323.9 265.8,323.7 265.3,323.5 264.8,323.9 264.3,324.1 263.8,324.4 263.3,324.3 262.8,324.1 262.3,324 261.8,323.7 261.3,323.2 260.8,323.2 260.3,323.3 259.8,323.3 259.3,323.6 258.8,323.7 258.3,323.9 257.8,324.2 257.3,323.8 256.8,323.6 256.3,323.2 255.8,323.3 255.3,323.4 254.8,323.4 254.3,323.4 253.8,323.4 253.3,323.4 252.8,323.3 252.3,323.3 251.8,323.4 251.3,323.6 250.8,323.8 250.3,323.7 249.8,323.5 249.3,323.3 248.8,323.1 248.3,323 247.8,323.2 247.3,323.4 246.8,323.5 246.3,323.7 245.8,323.8 245.3,324 244.8,323.9 244.3,323.9 243.8,323.9 243.3,323.9 242.8,323.9 242.3,323.9 241.8,323.9 241.3,324 240.8,324 240.3,324.3 239.8,324.8 239.3,324.7 238.8,324.8 238.3,325.4 237.8,326.1 237.3,326.2 236.8,326.4 236.3,327.6 235.8,328.8 235.3,330.4 234.8,331.5 234.3,332.9 233.8,334.7 233.3,331.7 232.8,325.3 232.3,322.8 231.8,322.9 231.3,323 230.8,322.9 230.3,322.9 229.8,322.9 229.3,323 228.8,323 228.3,323.1 227.8,323.1 227.3,323.2 226.8,323 226.3,322.8 225.8,322.7 225.3,322.6 224.8,322.6 224.3,322.6 223.8,322.6 223.3,322.6 222.8,322.6 222.3,322.6 221.8,322.6 221.3,322.6 220.8,322.6 220.3,322.5 219.8,322.8 219.3,323 218.8,323 218.3,323 217.8,322.9 217.3,323.1 216.8,323.3 216.3,323.5 215.8,323.2 215.3,323 214.8,322.7 214.3,322.5 213.8,322.6 213.3,322.7 212.8,322.8 212.3,322.8 211.8,323 211.3,323.2 210.8,323.3 210.3,323.5 209.8,323.5 209.3,323.7 208.8,323.3 208.3,322.8 207.8,322.8 207.3,322.8 206.8,322.8 206.3,322.8 205.8,322.8 205.3,322.8 204.8,322.8 204.3,322.7 203.8,322.7 203.3,322.7 202.8,322.7 202.3,322.7 201.8,322.8 201.3,322.9 200.8,323 200.3,323.1 199.8,323.2 199.3,323.3 198.8,323.4 198.3,323.4 197.8,323.5 197.3,323.5 196.8,323.6 196.3,323.6 195.8,323.6 195.3,323.7 194.8,323.7 194.3,323.9 193.8,324.1 193.3,324.2 192.8,324.5 192.3,324.7 191.8,324.8 191.3,324.9 190.8,325 190.3,325.4 189.8,326 189.3,326.5 188.8,326.2 188.3,324.9 187.8,323.7 187.3,323.5 186.8,323.6 186.3,323.6 185.8,323.6 185.3,323.7 184.8,323.7 184.3,323.8 183.8,324 183.3,324.1 182.8,323.9 182.3,323.8 181.8,323.7 181.3,323.5 180.8,323.9 180.3,324.2 179.8,324.2 179.3,324.1 178.8,324.2 178.3,324.1 177.8,324.1 177.3,324 176.8,324 176.3,324.3 175.8,324.5 175.3,324.7 174.8,324.7 174.3,324.6 173.8,324.6 173.3,324.7 172.8,324.9 172.3,325.1 171.8,325.3 171.3,324.9 170.8,324.6 170.3,324.2 169.8,324.8 169.3,325.4 168.8,325.2 168.3,324.9 167.8,324.6 167.3,324.6 166.8,324.6 166.3,324.6 165.8,324.6 165.3,324.9 164.8,325.1 164.3,325.4 163.8,325.7 163.3,325.6 162.8,325.5 162.3,325.4 161.8,325.4 161.3,325.3 160.8,325.2 160.3,325.2 159.8,325.3 159.3,325.2 158.8,325.2 158.3,325.6 157.8,325.9 157.3,326.2 156.8,326.6 156.3,326.4 155.8,326.1 155.3,325.9 154.8,325.7 154.3,325.9 153.8,326 153.3,326.2 152.8,326.3 152.3,326.3 151.8,326.4 151.3,326.4 150.8,326.5 150.3,326.5 149.8,326.6 149.3,326.6 148.8,326.7 148.3,326.8 147.8,327 147.3,327.2 146.8,327.5 146.3,327.5 145.8,327.6 145.3,327.6 144.8,327.6 144.3,327.8 143.8,328 143.3,328.1 142.8,328 142.3,327.5 141.8,327.3 141.3,327.4 140.8,327.2 140.3,326.9 139.8,327.1 139.3,327.3 138.8,327.6 138.3,327.5 137.8,327.5 137.3,327.5 136.8,327.4 136.3,327.4 135.8,327.5 135.3,327.6 134.8,327.5 134.3,327.5 133.8,327.5 133.3,327.5 132.8,327.8 132.3,328.2 131.8,328.5 131.3,328.8 130.8,328.5 130.3,328.3 129.8,328 129.3,328.3 128.8,328.7 128.3,329 127.8,328.7 127.3,328.4 126.8,328.1 126.3,328.1 125.8,328.1 125.3,328.2 124.8,328.5 124.3,328.8 123.8,329.1 123.3,329.4 122.8,329.3 122.3,329.2 121.8,329 121.3,329 120.8,329.1 120.3,329.2 119.8,329.5 119.3,330 118.8,329.6 118.3,329.2 117.8,329.4 117.3,329.6 116.8,329.8 116.3,330 115.8,330.3 115.3,330.5 114.8,330.7 114.3,330.7 113.8,330.8 113.3,330.5 112.8,330.3 112.3,330.1 111.8,330.2 111.3,330.5 110.8,330.7 110.3,330.7 109.8,330.8 109.3,330.9 108.8,331.1 108.3,331.2 107.8,331.4 107.3,331.5 106.8,331.5 106.3,331.6 105.8,331.5 105.3,331.3 104.8,331.1 104.3,331.3 103.8,331.6 103.3,331.7 102.8,331.8 102.3,331.9 101.8,332 101.3,331.9 100.8,331.8 100.3,331.8 99.8,332.1 99.3,332.5 98.8,332.9 98.3,332.7 97.8,336.6 97.3,341.3 96.8,346.1" fill="#dc2a1b" stroke="#dc2a1b" stroke-width="2.0" stroke-linejoin="round"/>
<polygon points="375.8,325.7 376.3,327.2 376.8,329.5 377.3,331.8 377.8,333.8 378.3,335.8 378.8,337.8 379.3,339.7 379.8,341.2 380.3,342 380.8,342.8 381.3,343.6 381.8,344.5 382.3,345.4 382.8,345.6 383.3,345.5 383.8,345.3 384.3,345.1 384.8,345.1 385.3,345.1 385.8,345.1 386.3,345.2 386.8,345.3 387.3,345.4 387.8,345.4 388.3,345.4 388.8,345.3 389.3,345.2 389.8,344.9 390.3,344.5 390.8,344.2 391.3,344.4 391.8,344.7 392.3,344.8 392.8,344.9 393.3,344.5 393.8,344.2 394.3,344.3 394.8,344.6 395.3,344.7 395.8,344.4 396.3,344.1 396.8,344.1 397.3,344.1 397.8,344.2 398.3,344.2 398.8,344.2 399.3,344.1 399.8,344.2 400.3,344.1 400.8,344.1 401.3,344 401.8,343.8 402.3,343.7 402.8,343.4 403.3,343.3 403.8,343.5 404.3,343.7 404.8,343.8 405.3,343.6 405.8,343.4 406.3,343.4 406.8,343.4 407.3,343.4 407.8,343.4 408.3,343.3 408.8,343.1 409.3,343 409.8,342.9 410.3,342.8 410.8,342.7 411.3,342.6 411.8,342.5 412.3,342.3 412.8,342.3 413.3,342.2 413.8,342.1 414.3,342.1 414.8,342 415.3,342 415.8,341.9 416.3,341.9 416.8,342.1 417.3,342.4 417.8,342.6 418.3,342.1 418.8,341.7 419.3,341.8 419.8,341.9 420.3,342.1 420.8,342.3 421.3,342 421.8,341.7 422.3,341.5 422.8,341.4 423.3,341.2 423.8,341.1 424.3,341.4 424.8,341.7 425.3,342.1 425.8,341.9 426.3,341.8 426.8,341.7 427.3,341.5 427.8,341.9 428.3,342.1 428.8,341.7 429.3,341.4 429.8,341 430.3,341.3 430.8,341.6 431.3,342 431.8,341.7 432.3,341.4 432.8,341.2 433.3,341 433.8,340.8 434.3,341.1 434.8,341.4 435.3,341.7 435.8,341.4 436.3,341.2 436.8,340.9 437.3,340.8 437.8,340.8 438.3,340.6 438.8,340.9 439.3,341.1 439.8,341.3 440.3,341.2 440.8,341.2 441.3,341.3 441.8,341.3 442.3,341.5 442.8,341.6 443.3,341.6 443.8,341.6 444.3,341.5 444.8,341.5 445.3,341.2 445.8,340.9 446.3,340.6 446.8,340.5 447.3,340.5 447.8,340.4 448.3,340.2 448.8,340.1 449.3,340.2 449.8,340.4 450.3,340.5 450.8,340.7 451.3,340.9 451.8,341.1 452.3,341.1 452.8,341.1 453.3,341 453.8,341.1 454.3,341.1 454.8,341.2 455.3,340.9 455.8,340.6 456.3,340.7 456.8,340.8 457.3,340.9 457.8,340.7 458.3,340.4 458.8,340.2 459.3,340.1 459.8,340.1 460.3,340.1 460.8,340.2 461.3,340.2 461.8,340.2 462.3,340.1 462.8,340.1 462.8,346 462.3,345.9 461.8,345.9 461.3,345.8 460.8,345.9 460.3,346 459.8,346.1 459.3,346.2 458.8,346.2 458.3,346.2 457.8,346.2 457.3,346.1 456.8,346.1 456.3,346.1 455.8,346.1 455.3,346.4 454.8,346.7 454.3,346.6 453.8,346.3 453.3,346.5 452.8,346.8 452.3,347 451.8,346.8 451.3,346.6 450.8,346.5 450.3,346.4 449.8,346.3 449.3,346.1 448.8,346.1 448.3,346 447.8,346.1 447.3,346.1 446.8,346.1 446.3,346.2 445.8,346.3 445.3,346.4 444.8,346.6 444.3,346.7 443.8,346.9 443.3,347 442.8,347.1 442.3,347 441.8,346.8 441.3,346.9 440.8,346.9 440.3,346.9 439.8,347 439.3,346.8 438.8,346.6 438.3,346.4 437.8,346.5 437.3,346.5 436.8,346.5 436.3,346.9 435.8,347.2 435.3,347.5 434.8,347.3 434.3,347.1 433.8,346.9 433.3,347.2 432.8,347.5 432.3,347.8 431.8,347.6 431.3,347.4 430.8,347.2 430.3,347.1 429.8,347 429.3,347.2 428.8,347.3 428.3,347.6 427.8,347.8 427.3,347.5 426.8,347.4 426.3,347.2 425.8,347 425.3,347.1 424.8,347 424.3,347.3 423.8,347.6 423.3,348 422.8,347.7 422.3,347.4 421.8,347.5 421.3,347.6 420.8,347.8 420.3,347.7 419.8,347.6 419.3,347.5 418.8,347.6 418.3,347.7 417.8,347.6 417.3,347.6 416.8,347.5 416.3,347.4 415.8,347.4 415.3,347.5 414.8,347.5 414.3,347.5 413.8,347.6 413.3,347.8 412.8,347.9 412.3,348.2 411.8,348.6 411.3,348.9 410.8,348.8 410.3,348.6 409.8,348.4 409.3,348.3 408.8,348.2 408.3,348.1 407.8,348.5 407.3,349 406.8,349.4 406.3,349.5 405.8,349.5 405.3,349.6 404.8,349.6 404.3,349.3 403.8,348.9 403.3,349 402.8,349.1 402.3,349.1 401.8,349 401.3,349 400.8,348.9 400.3,348.9 399.8,349 399.3,348.9 398.8,349.1 398.3,349.2 397.8,349.3 397.3,349.4 396.8,349.6 396.3,349.9 395.8,349.9 395.3,349.8 394.8,349.8 394.3,349.6 393.8,349.7 393.3,349.7 392.8,349.6 392.3,350.3 391.8,350.9 391.3,350.5 390.8,350.2 390.3,349.9 389.8,350.3 389.3,350.7 388.8,351 388.3,350.9 387.8,350.7 387.3,350.6 386.8,350.5 386.3,350.5 385.8,350.5 385.3,350.5 384.8,350.5 384.3,350.6 383.8,350.7 383.3,350.8 382.8,351 382.3,350.8 381.8,350.1 381.3,349.4 380.8,348.9 380.3,348.4 379.8,347.5 379.3,346 378.8,343.7 378.3,341.5 377.8,339.4 377.3,337.2 376.8,334.9 376.3,332.6 375.8,331" fill="#000000" stroke="#000000" stroke-width="2.0" stroke-linejoin="round"/>
<text transform="translate(47.7 300.6) scale(1 1)" font-size="13.8" text-anchor="middle">-7</text>
<polygon points="45.8,303.7 50.8,303.7 48.3,312.3" fill="#000"/>
<text transform="translate(141.7 300.6) scale(1 1)" font-size="13.8" text-anchor="middle">-7</text>
<polygon points="139.8,303.7 144.8,303.7 142.3,312.3" fill="#000"/>
<text transform="translate(187.3 300.6) scale(1 1)" font-size="13.8" text-anchor="middle">-6</text>
<polygon points="185.4,303.7 190.4,303.7 187.9,312.3" fill="#000"/>
<text transform="translate(232.4 300.6) scale(1 1)" font-size="13.8" text-anchor="middle">-5</text>
<polygon points="230.5,303.7 235.5,303.7 233,312.3" fill="#000"/>
<text transform="translate(275.8 300.6) scale(1 1)" font-size="13.8" text-anchor="middle">-4</text>
<polygon points="273.9,303.7 278.9,303.7 276.4,312.3" fill="#000"/>
<text transform="translate(326.3 300.6) scale(1 1)" font-size="13.8" text-anchor="middle">-3</text>
<polygon points="324.4,303.7 329.4,303.7 326.9,312.3" fill="#000"/>
<text transform="translate(418.2 300.6) scale(1 1)" font-size="13.8" text-anchor="middle">-7</text>
<polygon points="416.3,303.7 421.3,303.7 418.8,312.3" fill="#000"/>
<polygon points="96.8,308.3 102.1,317.2 99.5,317.2 99.5,322 94.1,322 94.1,317.2 91.5,317.2" fill="#dc2a1b"/>
<polygon points="375.3,320.7 380.6,311.8 377.9,311.8 377.9,307 372.7,307 372.7,311.8 370,311.8" fill="#000000"/>
<path d="M420.8 364.1V384.8H442" fill="none" stroke="#000" stroke-width="1.3"/>
<text transform="translate(415.7 380) scale(1 1.04)" font-size="13" text-anchor="end">50 nA</text>
<text transform="translate(417.4 398.8) scale(1 1.04)" font-size="13" text-anchor="start">2 min</text>
<polygon points="31.4,480.3 31.9,480.1 32.4,479.8 32.9,479.7 33.4,479.6 33.9,479.5 34.4,479.3 34.9,479.3 35.4,479.5 35.9,479.6 36.4,479.3 36.9,479 37.4,479.3 37.9,479.5 38.4,479.3 38.9,479 39.4,478.7 39.9,478.9 40.4,479.1 40.9,479.4 41.4,479 41.9,478.7 42.4,478.3 42.9,478.2 43.4,478.2 43.9,478.1 44.4,478 44.9,477.9 45.4,477.9 45.9,477.9 46.4,478 46.9,478 47.4,477.7 47.9,477.4 48.4,477.6 48.9,477.7 49.4,477.9 49.9,478.1 50.4,477.7 50.9,477.3 51.4,477 51.9,477 52.4,477.1 52.9,477.1 53.4,477 53.9,476.9 54.4,476.8 54.9,476.6 55.4,476.5 55.9,476.6 56.4,476.7 56.9,476.9 57.4,477 57.9,477.1 58.4,477.3 58.9,477.2 59.4,477.1 59.9,477 60.4,476.9 60.9,476.8 61.4,476.7 61.9,476.7 62.4,476.7 62.9,476.7 63.4,476.1 63.9,475.6 64.4,475.8 64.9,476 65.4,475.8 65.9,475.7 66.4,475.5 66.9,475.3 67.4,475.4 67.9,475.6 68.4,475.7 68.9,475.7 69.4,475.6 69.9,475.7 70.4,475.8 70.9,475.9 71.4,475.6 71.9,475.2 72.4,474.9 72.9,474.9 73.4,474.8 73.9,474.7 74.4,474.7 74.9,474.8 75.4,475 75.9,475.3 76.4,475.6 76.9,475.2 77.4,474.9 77.9,474.6 78.4,474.5 78.9,474.3 79.4,474.2 79.9,474.2 80.4,474.1 80.9,474 81.4,474.1 81.9,474.2 82.4,474.3 82.9,474.3 83.4,474.3 83.9,474.2 84.4,474.2 84.9,474.1 85.4,474.3 85.9,474.4 86.4,474.6 86.9,474.4 87.4,474.3 87.9,474.1 88.4,474.2 88.9,474.3 89.4,474.4 89.9,474 90.4,473.6 90.9,473.3 91.4,473.4 91.9,473.5 92.4,473.4 92.9,473.4 93.4,473.6 93.9,473.7 94.4,473.9 94.9,473.7 95.4,473.3 95.9,473.1 96.4,473.2 96.9,473.3 97.4,473.4 97.9,473.1 98.4,472.9 98.9,472.7 99.4,472.4 99.4,478.8 98.9,478.5 98.4,478.1 97.9,478.3 97.4,478.5 96.9,478.7 96.4,479 95.9,479.4 95.4,479.6 94.9,479.4 94.4,479.2 93.9,478.9 93.4,478.6 92.9,479 92.4,479.4 91.9,479.9 91.4,479.8 90.9,479.7 90.4,479.5 89.9,479.5 89.4,479.4 88.9,479.3 88.4,479.2 87.9,479.3 87.4,479.5 86.9,479.6 86.4,479.8 85.9,480 85.4,480.2 84.9,480.3 84.4,480.6 83.9,480.3 83.4,480.1 82.9,479.9 82.4,480 81.9,480 81.4,480 80.9,479.9 80.4,480.2 79.9,480.4 79.4,480.6 78.9,480.4 78.4,480.2 77.9,480 77.4,480.2 76.9,480.4 76.4,480.7 75.9,480.6 75.4,480.5 74.9,480.5 74.4,480.4 73.9,480.4 73.4,480.5 72.9,480.6 72.4,480.6 71.9,480.7 71.4,480.8 70.9,480.9 70.4,480.8 69.9,480.7 69.4,480.7 68.9,481.1 68.4,481.4 67.9,481.7 67.4,481.6 66.9,481.5 66.4,481.3 65.9,481.3 65.4,481.2 64.9,481.1 64.4,481.2 63.9,481.3 63.4,481.3 62.9,481.7 62.4,482 61.9,482.4 61.4,482.4 60.9,482.4 60.4,482.4 59.9,482.3 59.4,482.5 58.9,482.8 58.4,483 57.9,482.7 57.4,482.4 56.9,482.1 56.4,482.1 55.9,482.2 55.4,482.3 54.9,482.4 54.4,482.9 53.9,483.5 53.4,483.3 52.9,483.2 52.4,483.1 51.9,482.8 51.4,482.6 50.9,482.7 50.4,482.9 49.9,483 49.4,483.2 48.9,483.3 48.4,483.5 47.9,483.5 47.4,483.5 46.9,483.5 46.4,483.6 45.9,483.6 45.4,483.5 44.9,483.5 44.4,483.5 43.9,483.5 43.4,483.9 42.9,484.5 42.4,484.5 41.9,484.5 41.4,484.5 40.9,484.4 40.4,484.3 39.9,484.2 39.4,484.1 38.9,484.2 38.4,484.3 37.9,484.4 37.4,484.5 36.9,484.9 36.4,485.1 35.9,485.4 35.4,484.9 34.9,484.5 34.4,484.7 33.9,484.9 33.4,485.2 32.9,485.5 32.4,485.3 31.9,485.2 31.4,485.1" fill="#000000" stroke="#000000" stroke-width="1.6" stroke-linejoin="round"/>
<polygon points="99.9,472.6 100.4,473 100.9,473.5 101.4,473.9 101.9,474.1 102.4,474.1 102.9,474.2 103.4,474.3 103.9,474.4 104.4,474.6 104.9,474.1 105.4,473.6 105.9,474 106.4,474.2 106.9,474.6 107.4,474.9 107.9,474.9 108.4,475 108.9,475 109.4,475 109.9,474.9 110.4,474.7 110.9,474.6 111.4,474.5 111.9,474.5 112.4,474.7 112.9,475 113.4,475.1 113.9,475.4 114.4,475.6 114.9,475.5 115.4,475.6 115.9,475.5 116.4,475.6 116.9,475.4 117.4,475.3 117.9,475.2 118.4,475.1 118.9,475.3 119.4,475.4 119.9,475.6 120.4,475.3 120.9,475.1 121.4,475.4 121.9,475.7 122.4,476 122.9,476 123.4,475.9 123.9,476 124.4,476 124.9,476.1 125.4,476 125.9,475.9 126.4,475.8 126.9,475.7 127.4,475.6 127.9,475.5 128.4,475.4 128.9,475.8 129.4,476.2 129.9,476 130.4,475.7 130.9,475.5 131.4,475.4 131.9,475.7 132.4,476 132.9,476.2 133.4,476.6 133.9,476.3 134.4,476 134.9,475.7 135.4,475.8 135.9,475.9 136.4,476.1 136.9,476.2 137.4,476.4 137.9,476.6 138.4,476.8 138.9,476.7 139.4,476.6 139.9,476.5 140.4,476.4 140.9,476.2 141.4,476 141.9,475.8 142.4,475.9 142.9,476 143.4,476.1 143.9,476.4 144.4,476.8 144.9,476.7 145.4,476.7 145.9,476.5 146.4,476.4 146.9,476.2 147.4,476.4 147.9,476.8 148.4,477.1 148.9,477.1 149.4,477.1 149.9,475.7 150.4,477.8 150.9,478.3 151.4,478.1 151.9,477.6 152.4,477.4 152.9,477.3 153.4,477.2 153.9,477.1 154.4,477.1 154.9,477.2 155.4,477.3 155.9,477.4 156.4,477.5 156.9,477.6 157.4,477.3 157.9,477 158.4,477 158.9,477.2 159.4,477.1 159.9,477.1 160.4,477.2 160.9,477.2 161.4,477.2 161.9,477.1 162.4,477 162.9,477 163.4,476.9 163.9,476.8 164.4,476.9 164.9,476.9 165.4,476.9 165.9,476.7 166.4,476.5 166.9,476.8 167.4,477.1 167.9,477.2 168.4,477.2 168.9,477.1 169.4,477 169.9,476.9 170.4,476.9 170.9,476.9 171.4,476.8 171.9,476.7 172.4,476.6 172.9,476.5 173.4,476.6 173.9,476.7 174.4,476.9 174.9,477 175.4,477.2 175.9,477.1 176.4,476.9 176.9,476.7 177.4,476.5 177.9,476.3 178.4,476.2 178.9,476.1 179.4,476 179.9,475.9 180.4,476 180.9,476 181.4,475.9 181.9,475.8 182.4,475.8 182.9,475.7 183.4,475.6 183.9,475.4 184.4,475.1 184.9,475 185.4,475.1 185.9,475.3 186.4,475.4 186.9,475.6 187.4,475.5 187.9,475.5 188.4,475.4 188.9,475.4 189.4,475 189.9,474.7 190.4,474.4 190.9,474.2 191.4,474 191.9,474.2 192.4,474.3 192.9,474.4 193.4,474.5 193.9,474.7 194.4,474.8 194.9,474.5 195.4,474.2 195.9,472.9 196.4,474 196.9,474.2 197.4,474.4 197.9,474.2 198.4,474.1 198.9,473.9 199.4,473.8 199.9,473.7 200.4,473.7 200.9,473.6 201.4,473.5 201.9,473.3 202.4,473.3 202.9,473.3 203.4,473.4 203.9,473.5 204.4,473.5 204.9,473.4 205.4,473.3 205.9,473.2 206.4,473.2 206.9,473.1 207.4,473 207.9,472.9 208.4,473 208.9,473.2 209.4,473.2 209.9,473.2 210.4,473.2 210.9,473.1 211.4,473.2 211.9,473.2 212.4,473.2 212.9,472.9 213.4,472.7 213.9,472.4 214.4,472.5 214.9,472.6 215.4,472.7 215.9,472.7 216.4,472.6 216.9,472.6 217.4,472.6 217.9,472.5 218.4,472.5 218.9,472.5 219.4,472.5 219.9,472.2 220.4,471.9 220.9,471.5 221.4,471.5 221.9,471.6 222.4,471.7 222.9,471.8 223.4,471.8 223.9,471.8 224.4,471.9 224.9,471.8 225.4,471.6 225.9,471.8 226.4,472 226.9,472.2 227.4,472 227.9,471.7 228.4,471.5 228.9,471.4 229.4,471.4 229.9,471.5 230.4,471.5 230.9,471.5 231.4,471.5 231.9,471.5 232.4,471.6 232.9,471.7 233.4,471.7 233.9,471.7 234.4,471.7 234.9,471.7 235.4,471.5 235.9,471.3 236.4,471.2 236.9,471 237.4,470.9 237.9,470.8 238.4,470.7 238.9,470.8 239.4,471.1 239.9,471.3 240.4,471.1 240.9,471 241.4,470.8 241.9,470.9 242.4,470.9 242.9,471.1 243.4,471 243.9,470.9 244.4,469.8 244.9,469.7 245.4,470.6 245.9,470.5 246.4,470.6 246.9,470.6 247.4,471 247.9,471.2 248.4,471.1 248.9,470.8 249.4,470.9 249.9,470.8 250.4,470.9 250.9,470.9 251.4,470.9 251.9,470.9 252.4,470.9 252.9,470.9 253.4,471 253.9,471.1 254.4,471.1 254.9,471.1 255.4,471 255.9,470.8 256.4,471 256.9,471.3 257.4,471.3 257.9,471.4 258.4,471.4 258.9,471.5 259.4,471.6 259.9,471.5 260.4,471.4 260.9,471.2 261.4,471.2 261.9,471.3 262.4,471.3 262.9,471.3 263.4,471.4 263.9,471.5 264.4,471.6 264.9,471.5 265.4,471.5 265.9,471.3 266.4,471.5 266.9,471.6 267.4,471.8 267.9,471.9 268.4,471.8 268.9,471.7 269.4,471.5 269.9,471.3 270.4,471.1 270.9,471 271.4,470.9 271.9,471.4 272.4,471.8 272.9,471.8 273.4,471.8 273.9,471.7 274.4,471.6 274.9,471.5 275.4,471.3 275.9,471.4 276.4,471.5 276.9,471.6 277.4,471.7 277.9,471.7 278.4,471.9 278.9,471.5 279.4,471.2 279.9,470.8 280.4,471 280.9,471.2 281.4,471.4 281.9,471.7 282.4,471.7 282.9,471.8 283.4,471.7 283.9,471.7 284.4,471.4 284.9,471.1 285.4,470.8 285.9,470.8 286.4,470.9 286.9,471 287.4,471.3 287.9,471.6 288.4,471.6 288.9,471.6 289.4,471.5 289.9,471.5 290.4,471.5 290.9,471.4 291.4,471.2 291.9,471 292.4,470.7 292.9,470.6 293.4,469.4 293.9,470.7 294.4,470.7 294.9,470.9 295.4,471.1 295.9,471.2 296.4,471.4 296.9,471.5 297.4,471.5 297.9,471.5 298.4,471.5 298.9,471.4 299.4,471.5 299.9,471.4 300.4,471.4 300.9,471.3 301.4,471.3 301.9,471.2 302.4,471.2 302.9,471 303.4,471 303.9,470.9 304.4,471 304.9,471.1 305.4,471.1 305.9,471.1 306.4,471.1 306.9,471.1 307.4,471.2 307.9,471.3 308.4,471.3 308.9,471.2 309.4,471.1 309.9,471.1 310.4,471.1 310.9,471.2 311.4,471.2 311.9,471.3 312.4,471.3 312.9,471.4 313.4,471.1 313.9,471 314.4,471.1 314.9,471.3 315.4,471.4 315.9,471 316.4,470.5 316.9,470.8 317.4,471.1 317.9,471.4 318.4,471.4 318.9,471.4 319.4,471.4 319.9,471.4 320.4,471.3 320.9,471.3 321.4,471.3 321.9,471.3 322.4,471.3 322.9,471.3 323.4,471.3 323.9,471.3 324.4,471.3 324.9,471.3 325.4,471.3 325.9,471.2 326.4,471.2 326.9,471.2 327.4,471.3 327.9,471.3 328.4,471.4 328.9,471.5 329.4,471.5 329.9,471.4 330.4,471.4 330.9,471.3 331.4,471.2 331.9,471.3 332.4,471.4 332.9,471.5 333.4,471 333.9,470.4 334.4,470.6 334.9,470.8 335.4,471.1 335.9,470.9 336.4,470.7 336.9,470.4 337.4,470.7 337.9,471 338.4,471.2 338.9,470.9 339.4,471.1 339.9,471.1 340.4,471 340.9,471.1 341.4,471.1 341.9,471.1 342.4,471.2 342.9,471.3 343.4,471.4 343.9,471.4 344.4,471.5 344.9,471.5 345.4,471.5 345.9,471.6 346.4,471.3 346.9,470.9 347.4,470.6 347.9,471 348.4,471.4 348.9,471.2 349.4,471.1 349.9,471 350.4,470.8 350.9,470.8 351.4,470.7 351.9,470.6 352.4,470.7 352.9,470.8 353.4,470.9 353.9,471 354.4,471.1 354.9,471.2 355.4,471.3 355.9,471.4 356.4,471.3 356.9,471.1 357.4,471.2 357.9,471.1 358.4,471.1 358.9,471.1 359.4,471.1 359.9,471.1 360.4,471 360.9,470.8 361.4,470.7 361.9,470.4 362.4,470.6 362.9,470.8 363.4,471 363.9,471 364.4,471.1 364.9,471.1 365.4,471.1 365.9,471.2 366.4,471.2 366.9,471.2 367.4,471.3 367.9,471.1 368.4,470.9 368.9,470.8 369.4,470.7 369.9,470.9 370.4,471.2 370.9,470.7 371.4,470.1 371.9,470.5 372.4,470.8 372.9,470.8 373.4,470.7 373.9,470.8 374.4,470.8 374.9,470.8 375.4,470.8 375.9,470.9 375.9,476.4 375.4,476.5 374.9,476.2 374.4,475.9 373.9,476 373.4,476.1 372.9,476.2 372.4,476.3 371.9,476.4 371.4,476.5 370.9,476.6 370.4,476.6 369.9,476.7 369.4,476.8 368.9,476.8 368.4,476.9 367.9,477 367.4,476.7 366.9,476.4 366.4,476.1 365.9,476 365.4,475.9 364.9,475.9 364.4,475.9 363.9,475.9 363.4,476.3 362.9,476.6 362.4,477 361.9,476.9 361.4,477 360.9,477.1 360.4,476.7 359.9,476.3 359.4,476 358.9,476.2 358.4,476.3 357.9,476.3 357.4,476.2 356.9,476.2 356.4,476.3 355.9,476.5 355.4,476.6 354.9,476.6 354.4,476.6 353.9,476.7 353.4,476.8 352.9,476.5 352.4,476.3 351.9,476 351.4,476.2 350.9,476.4 350.4,476.6 349.9,476.7 349.4,476.6 348.9,476.5 348.4,476.4 347.9,476.4 347.4,476.5 346.9,476.4 346.4,476.4 345.9,476.4 345.4,476.3 344.9,476.3 344.4,476.2 343.9,476.1 343.4,476.2 342.9,476.3 342.4,476.3 341.9,476.4 341.4,476.2 340.9,476 340.4,476.1 339.9,476.3 339.4,476.4 338.9,478.1 338.4,476.6 337.9,476.8 337.4,477 336.9,477.1 336.4,477.1 335.9,477.2 335.4,477.2 334.9,477.1 334.4,477.1 333.9,477.2 333.4,477.3 332.9,477 332.4,476.7 331.9,476.4 331.4,476.6 330.9,476.9 330.4,477.2 329.9,477 329.4,476.7 328.9,476.5 328.4,476.3 327.9,476.2 327.4,476.1 326.9,476 326.4,476.1 325.9,476.1 325.4,476.1 324.9,476.1 324.4,476.3 323.9,476.5 323.4,476.5 322.9,476.6 322.4,476.6 321.9,476.7 321.4,476.4 320.9,476.2 320.4,476 319.9,476.6 319.4,477.1 318.9,476.8 318.4,476.6 317.9,476.3 317.4,476.7 316.9,477.1 316.4,477.1 315.9,477.1 315.4,476.7 314.9,476.4 314.4,476.1 313.9,476.3 313.4,476.4 312.9,476.6 312.4,476.8 311.9,477 311.4,477.1 310.9,477.2 310.4,477 309.9,476.8 309.4,476.6 308.9,476.9 308.4,477.2 307.9,477.2 307.4,477.3 306.9,477.3 306.4,476.9 305.9,476.4 305.4,476.1 304.9,476.5 304.4,476.8 303.9,477.1 303.4,476.8 302.9,476.4 302.4,476.5 301.9,476.6 301.4,476.6 300.9,476.4 300.4,476.2 299.9,476.6 299.4,477 298.9,476.7 298.4,476.5 297.9,476.3 297.4,476.6 296.9,477 296.4,477.3 295.9,477.1 295.4,476.9 294.9,476.7 294.4,476.9 293.9,477.2 293.4,478.2 292.9,476.8 292.4,476.6 291.9,476.4 291.4,476.4 290.9,476.4 290.4,476.4 289.9,476.7 289.4,477.2 288.9,477.2 288.4,477.2 287.9,477.2 287.4,477 286.9,476.9 286.4,476.6 285.9,476.4 285.4,477 284.9,477.5 284.4,477.1 283.9,476.8 283.4,476.4 282.9,476.7 282.4,476.9 281.9,477.1 281.4,477.3 280.9,477.2 280.4,477.1 279.9,477 279.4,476.9 278.9,476.9 278.4,477.1 277.9,477.1 277.4,477.3 276.9,477.2 276.4,477 275.9,476.9 275.4,477.1 274.9,477.3 274.4,477.5 273.9,477.4 273.4,477.3 272.9,477.2 272.4,477 271.9,477 271.4,476.9 270.9,476.8 270.4,476.6 269.9,476.5 269.4,476.6 268.9,476.8 268.4,476.8 267.9,477.1 267.4,477.5 266.9,477.8 266.4,477.8 265.9,477.8 265.4,477.8 264.9,477.7 264.4,477.5 263.9,477.4 263.4,477.2 262.9,477 262.4,476.9 261.9,476.8 261.4,476.9 260.9,477.1 260.4,477.3 259.9,477.1 259.4,476.7 258.9,476.8 258.4,476.8 257.9,476.8 257.4,476.7 256.9,476.6 256.4,476.5 255.9,476.6 255.4,476.7 254.9,476.7 254.4,476.7 253.9,476.5 253.4,476.3 252.9,476.2 252.4,476.1 251.9,476 251.4,476.3 250.9,476.6 250.4,476.7 249.9,477 249.4,476.9 248.9,476.7 248.4,476.6 247.9,476.4 247.4,476.2 246.9,476 246.4,476.1 245.9,476.3 245.4,476.2 244.9,476.6 244.4,476.5 243.9,475.8 243.4,475.9 242.9,476 242.4,476.2 241.9,476.3 241.4,476.5 240.9,476.6 240.4,476.7 239.9,476.8 239.4,476.9 238.9,477 238.4,477.2 237.9,476.7 237.4,476.2 236.9,476.5 236.4,476.7 235.9,476.9 235.4,476.8 234.9,476.7 234.4,476.7 233.9,476.6 233.4,476.9 232.9,477.2 232.4,477.5 231.9,477.2 231.4,477 230.9,477.1 230.4,477.2 229.9,477.2 229.4,477.3 228.9,477.1 228.4,476.9 227.9,476.7 227.4,477.2 226.9,477.6 226.4,478 225.9,477.7 225.4,477.3 224.9,477.1 224.4,477.1 223.9,477.2 223.4,477.2 222.9,477.3 222.4,477.5 221.9,477.7 221.4,477.9 220.9,477.7 220.4,477.5 219.9,477.3 219.4,477.6 218.9,478 218.4,478.3 217.9,478.1 217.4,477.9 216.9,478.2 216.4,478.5 215.9,478.3 215.4,478.1 214.9,477.9 214.4,477.6 213.9,477.6 213.4,477.6 212.9,477.7 212.4,477.9 211.9,478 211.4,478 210.9,478.1 210.4,478.3 209.9,478.1 209.4,478 208.9,477.9 208.4,478.1 207.9,478.4 207.4,478.7 206.9,478.6 206.4,478.6 205.9,478.7 205.4,478.8 204.9,479 204.4,479.2 203.9,479.4 203.4,479.2 202.9,479.1 202.4,478.9 201.9,479.1 201.4,479.3 200.9,479.5 200.4,479.4 199.9,479.4 199.4,479.4 198.9,479.3 198.4,479.3 197.9,479.2 197.4,479.5 196.9,479.6 196.4,479.8 195.9,480.3 195.4,480 194.9,480 194.4,479.9 193.9,479.7 193.4,479.8 192.9,479.9 192.4,480 191.9,480.4 191.4,480.8 190.9,480.6 190.4,480.5 189.9,480.4 189.4,480.3 188.9,480.6 188.4,480.7 187.9,481 187.4,481 186.9,481.1 186.4,481.2 185.9,481.1 185.4,480.9 184.9,480.9 184.4,481.1 183.9,481.4 183.4,481.7 182.9,481.5 182.4,481.2 181.9,481 181.4,481.2 180.9,481.2 180.4,481.2 179.9,481.2 179.4,481.4 178.9,481.6 178.4,481.6 177.9,481.6 177.4,481.7 176.9,481.7 176.4,481.9 175.9,482.2 175.4,482.3 174.9,482.4 174.4,482.5 173.9,482.5 173.4,482.6 172.9,482.4 172.4,482.1 171.9,482.1 171.4,482.1 170.9,482 170.4,482 169.9,482.1 169.4,482.2 168.9,482.2 168.4,482.1 167.9,482 167.4,482.1 166.9,482.1 166.4,482.1 165.9,482.1 165.4,482.1 164.9,482.2 164.4,482.1 163.9,482 163.4,482 162.9,482 162.4,482.2 161.9,482.3 161.4,482.5 160.9,482.6 160.4,482.7 159.9,482.7 159.4,482.7 158.9,482.7 158.4,482.6 157.9,482.6 157.4,482.6 156.9,482.5 156.4,482.5 155.9,482.9 155.4,483.2 154.9,483 154.4,482.8 153.9,482.7 153.4,483 152.9,483.5 152.4,483.6 151.9,483.9 151.4,484.2 150.9,483.8 150.4,482.6 149.9,483.2 149.4,482.5 148.9,482.8 148.4,482.6 147.9,482.4 147.4,482.1 146.9,481.8 146.4,481.8 145.9,481.8 145.4,481.8 144.9,481.8 144.4,481.9 143.9,481.9 143.4,482.1 142.9,482.1 142.4,481.9 141.9,481.6 141.4,481.9 140.9,482.2 140.4,482.3 139.9,482.4 139.4,482.5 138.9,482.3 138.4,482.1 137.9,482 137.4,481.7 136.9,481.6 136.4,481.4 135.9,481.3 135.4,481.3 134.9,481.2 134.4,481.5 133.9,481.8 133.4,482 132.9,482.2 132.4,481.9 131.9,481.6 131.4,481.5 130.9,481.3 130.4,481.1 129.9,481.4 129.4,481.7 128.9,482 128.4,481.8 127.9,481.7 127.4,481.5 126.9,481.5 126.4,481.5 125.9,481.6 125.4,481.4 124.9,481.2 124.4,481 123.9,480.9 123.4,480.9 122.9,480.9 122.4,481 121.9,481.1 121.4,481.3 120.9,481.5 120.4,481.7 119.9,481.4 119.4,481 118.9,480.5 118.4,480.7 117.9,480.8 117.4,481 116.9,481.1 116.4,481.1 115.9,481.1 115.4,481.1 114.9,481.1 114.4,480.6 113.9,480.2 113.4,480.3 112.9,480.5 112.4,480.6 111.9,480.6 111.4,480.6 110.9,480.6 110.4,480.6 109.9,480.8 109.4,480.9 108.9,480.5 108.4,480.1 107.9,479.7 107.4,479.9 106.9,480.1 106.4,480.2 105.9,480 105.4,479.7 104.9,479.5 104.4,479.2 103.9,479.2 103.4,479.2 102.9,479.1 102.4,479 101.9,479 101.4,479.3 100.9,479.5 100.4,479.4 99.9,479.4" fill="#dc2a1b" stroke="#dc2a1b" stroke-width="1.6" stroke-linejoin="round"/>
<polygon points="375.9,470.9 376.4,470.9 376.9,470.9 377.4,471 377.9,471.1 378.4,471 378.9,470.9 379.4,470.9 379.9,470.9 380.4,470.8 380.9,470.8 381.4,470.8 381.9,470.9 382.4,471 382.9,470.7 383.4,470.5 383.9,470.2 384.4,470.5 384.9,470.9 385.4,470.6 385.9,470.2 386.4,469.9 386.9,470.1 387.4,470.4 387.9,470.6 388.4,470.8 388.9,470.8 389.4,470.7 389.9,470.6 390.4,470.6 390.9,470.6 391.4,470.5 391.9,470.5 392.4,470.4 392.9,470.5 393.4,470.5 393.9,470.6 394.4,470.5 394.9,470.5 395.4,470.5 395.9,470.5 396.4,470.5 396.9,470.6 397.4,470.6 397.9,470.7 398.4,470.4 398.9,470.1 399.4,469.9 399.9,470 400.4,470.2 400.9,470.3 401.4,470.4 401.9,470.6 402.4,470.6 402.9,470.6 403.4,470.6 403.9,470.7 404.4,470.7 404.9,470.3 405.4,470 405.9,469.6 406.4,469.8 406.9,469.9 407.4,470.1 407.9,469.8 408.4,469.6 408.9,469.4 409.4,470 409.9,470.5 410.4,470.4 410.9,470.3 411.4,470.3 411.9,470.3 412.4,470.4 412.9,469.4 413.4,470.1 413.9,470.1 414.4,470.2 414.9,470.3 415.4,470.4 415.9,470.2 416.4,470 416.9,469.9 417.4,469.8 417.9,469.6 418.4,469.5 418.9,469.4 419.4,469.4 419.9,469.4 420.4,469.6 420.9,469.7 421.4,469.9 421.9,470.1 422.4,469.9 422.9,469.6 423.4,469.3 423.9,469.6 424.4,469.8 424.9,470.1 425.4,469.7 425.9,469.3 426.4,469.2 426.9,469.2 427.4,469.3 427.9,469.4 428.4,469.6 428.9,469.8 429.4,470.1 429.9,469.8 430.4,469.5 430.9,469.4 431.4,469.1 431.9,468.9 432.4,469 432.9,469.2 433.4,469.2 433.9,469.3 434.4,469.4 434.9,469.5 435.4,469.5 435.9,467.9 436.4,469.3 436.9,469.4 437.4,469.5 437.9,469.6 438.4,469.6 438.9,469.7 439.4,469.8 439.9,469.8 440.4,469.6 440.9,469.4 441.4,469.2 441.9,469.2 442.4,469.3 442.9,469.2 443.4,469.3 443.9,469.3 444.4,469.4 444.9,469.5 445.4,469.5 445.9,469.5 446.4,469.4 446.9,469.4 447.4,469.3 447.9,469.2 448.4,469.1 448.9,469 449.4,469.1 449.9,469.2 450.4,469.4 450.9,469.3 451.4,469.2 451.9,469.2 452.4,469.5 452.9,469.7 453.4,469.7 453.9,469.6 454.4,469.3 454.9,468.9 455.4,468.6 455.9,468.6 456.4,468.6 456.9,468.5 457.4,468.5 457.9,468.4 458.4,468.4 458.9,468.4 459.4,468.4 459.9,468.4 460.4,468.5 460.9,468.7 461.4,468.8 461.4,474.8 460.9,474.6 460.4,474.5 459.9,474.5 459.4,474.5 458.9,474.3 458.4,474.3 457.9,474.1 457.4,474.1 456.9,474.2 456.4,474.3 455.9,474.5 455.4,474.4 454.9,474.3 454.4,474.3 453.9,474.3 453.4,474.4 452.9,474.5 452.4,474.6 451.9,474.8 451.4,475 450.9,475.1 450.4,475.2 449.9,475.2 449.4,475.1 448.9,475.1 448.4,475 447.9,475 447.4,474.8 446.9,474.7 446.4,475 445.9,475.3 445.4,474.8 444.9,474.3 444.4,474.8 443.9,475.3 443.4,474.7 442.9,474.2 442.4,474.5 441.9,474.8 441.4,475.1 440.9,474.9 440.4,474.8 439.9,474.7 439.4,474.6 438.9,474.6 438.4,474.5 437.9,474.5 437.4,474.5 436.9,474.5 436.4,474.4 435.9,474.8 435.4,475 434.9,475.5 434.4,475.5 433.9,475.5 433.4,475.5 432.9,475.6 432.4,475.4 431.9,475.3 431.4,475.4 430.9,475.6 430.4,475.7 429.9,475.5 429.4,475.2 428.9,474.9 428.4,474.6 427.9,474.7 427.4,474.6 426.9,474.6 426.4,474.6 425.9,474.7 425.4,474.7 424.9,474.9 424.4,475.2 423.9,475.5 423.4,475.6 422.9,475.8 422.4,475.5 421.9,475.2 421.4,474.8 420.9,475 420.4,475.2 419.9,475.1 419.4,475 418.9,475 418.4,475.1 417.9,475.1 417.4,475.2 416.9,475.1 416.4,475 415.9,475 415.4,475.1 414.9,475 414.4,475 413.9,475.2 413.4,475.4 412.9,476.2 412.4,475.4 411.9,475.3 411.4,475.2 410.9,475.1 410.4,475.5 409.9,475.9 409.4,475.7 408.9,475.5 408.4,475.4 407.9,475.1 407.4,475.2 406.9,475.2 406.4,475.2 405.9,475.6 405.4,475.9 404.9,476.2 404.4,476 403.9,475.7 403.4,475.4 402.9,475.5 402.4,475.6 401.9,475.8 401.4,475.8 400.9,475.8 400.4,475.8 399.9,475.7 399.4,475.5 398.9,475.5 398.4,475.4 397.9,475.5 397.4,475.7 396.9,475.8 396.4,475.9 395.9,475.9 395.4,475.8 394.9,475.6 394.4,475.9 393.9,476.2 393.4,476.5 392.9,476.2 392.4,475.9 391.9,475.6 391.4,475.8 390.9,475.9 390.4,476 389.9,476 389.4,476 388.9,476.1 388.4,475.9 387.9,475.9 387.4,475.8 386.9,475.7 386.4,475.8 385.9,475.9 385.4,475.9 384.9,476 384.4,476 383.9,476.1 383.4,476.1 382.9,476.2 382.4,476.4 381.9,476.5 381.4,476.6 380.9,476.6 380.4,476.4 379.9,476.2 379.4,476 378.9,475.8 378.4,475.9 377.9,476.1 377.4,476.1 376.9,476.2 376.4,476.3 375.9,476.4" fill="#000000" stroke="#000000" stroke-width="1.6" stroke-linejoin="round"/>
<text transform="translate(55.2 451.6) scale(1 1)" font-size="13.8" text-anchor="middle">-7</text>
<polygon points="53.3,454.7 58.3,454.7 55.8,463.3" fill="#000"/>
<text transform="translate(149.7 451.6) scale(1 1)" font-size="13.8" text-anchor="middle">-7</text>
<polygon points="147.8,454.7 152.8,454.7 150.3,463.3" fill="#000"/>
<text transform="translate(195.7 451.6) scale(1 1)" font-size="13.8" text-anchor="middle">-6</text>
<polygon points="193.8,454.7 198.8,454.7 196.3,463.3" fill="#000"/>
<text transform="translate(244.4 451.6) scale(1 1)" font-size="13.8" text-anchor="middle">-5</text>
<polygon points="242.5,454.7 247.5,454.7 245,463.3" fill="#000"/>
<text transform="translate(291.5 451.6) scale(1 1)" font-size="13.8" text-anchor="middle">-4</text>
<polygon points="289.6,454.7 294.6,454.7 292.1,463.3" fill="#000"/>
<text transform="translate(330.1 451.6) scale(1 1)" font-size="13.8" text-anchor="middle">-3</text>
<polygon points="328.2,454.7 333.2,454.7 330.7,463.3" fill="#000"/>
<text transform="translate(412.6 451.6) scale(1 1)" font-size="13.8" text-anchor="middle">-7</text>
<polygon points="410.7,454.7 415.7,454.7 413.2,463.3" fill="#000"/>
<polygon points="100.7,451.6 106,460.5 103.4,460.5 103.4,465.3 98,465.3 98,460.5 95.4,460.5" fill="#fff" stroke="#dc2a1b" stroke-width="1.15" stroke-linejoin="miter"/>
<polygon points="375.9,467.2 381.2,458.3 378.5,458.3 378.5,453.5 373.2,453.5 373.2,458.3 370.6,458.3" fill="#fff" stroke="#000000" stroke-width="1.15" stroke-linejoin="miter"/>
<path d="M434.5 491.6V512.6H457.1" fill="none" stroke="#000" stroke-width="1.3"/>
<text transform="translate(429.4 506.9) scale(1 1.04)" font-size="13" text-anchor="end">50 nA</text>
<text transform="translate(431.7 526) scale(1 1.04)" font-size="13" text-anchor="start">1 min</text>
<path d="M521.5 454.1H634.6" stroke="#000" stroke-width="1.3" stroke-dasharray="1.4 2" fill="none"/>
<circle cx="549.7" cy="335.5" r="3.3" fill="#808080"/>
<circle cx="549.7" cy="408.5" r="3.3" fill="#808080"/>
<circle cx="544.2" cy="420.2" r="3.3" fill="#808080"/>
<circle cx="555.1" cy="420.2" r="3.3" fill="#808080"/>
<circle cx="549.7" cy="431.5" r="3.3" fill="#808080"/>
<circle cx="549.7" cy="448.1" r="3.3" fill="#808080"/>
<circle cx="594.5" cy="454.1" r="3.3" fill="#808080"/>
<circle cx="601.2" cy="459.8" r="3.3" fill="#808080"/>
<circle cx="607.8" cy="459.8" r="3.3" fill="#808080"/>
<circle cx="614.8" cy="459.8" r="3.3" fill="#808080"/>
<circle cx="621.4" cy="459.8" r="3.3" fill="#808080"/>
<path d="M540.8 371.7H559.1M540.8 450.1H559.1M549.7 371.7V450.1" stroke="#333" stroke-width="1.1" fill="none"/>
<path d="M531.1 410.8H568.5" stroke="#000" stroke-width="1.9" fill="none"/>
<path d="M601 456.4H615M601 460.6H615M607.8 456.4V460.6" stroke="#333" stroke-width="1.1" fill="none"/>
<path d="M589.3 458.5H626.4" stroke="#000" stroke-width="1.9" fill="none"/>
<path d="M521.5 311.5V482.3H634.6M516.9 312H521.5M516.9 340.7H521.5M516.9 369.2H521.5M516.9 397.4H521.5M516.9 425.6H521.5M516.9 454.1H521.5M516.9 482.3H521.5M549.7 482.3V486.7M606.8 482.3V486.7" stroke="#151515" stroke-width="1.25" fill="none"/>
<text transform="translate(515.4 316.6) scale(1 1.04)" font-size="12.8" text-anchor="end">250</text>
<text transform="translate(515.4 345.3) scale(1 1.04)" font-size="12.8" text-anchor="end">200</text>
<text transform="translate(515.4 373.8) scale(1 1.04)" font-size="12.8" text-anchor="end">150</text>
<text transform="translate(515.4 402) scale(1 1.04)" font-size="12.8" text-anchor="end">100</text>
<text transform="translate(515.4 430.2) scale(1 1.04)" font-size="12.8" text-anchor="end">50</text>
<text transform="translate(515.4 458.7) scale(1 1.04)" font-size="12.8" text-anchor="end" fill="#8a8a8a">0</text>
<text transform="translate(515.4 486.9) scale(1 1.04)" font-size="12.8" text-anchor="end">-50</text>
<text transform="translate(490.6 388.4) rotate(-90) scale(1 1.04)" font-size="12.3" text-anchor="middle" xml:space="preserve">Current  Shift (nA)</text>
<text transform="translate(545.2 291.2) scale(1 1.04)" font-size="12.8"><tspan font-style="italic">P</tspan> = 0.0043</text>
<path d="M547.4 305.4V298H603.2V305.4" stroke="#111" stroke-width="1.15" fill="none"/>
<polygon points="549.7,493.9 555,502.8 552.4,502.8 552.4,507.6 547.1,507.6 547.1,502.8 544.4,502.8" fill="#dc2a1b"/>
<polygon points="606.8,493.9 612.1,502.8 609.4,502.8 609.4,507.6 604.1,507.6 604.1,502.8 601.5,502.8" fill="#fff" stroke="#dc2a1b" stroke-width="1.15" stroke-linejoin="miter"/>
<path d="M681.4 317H797" stroke="#000" stroke-width="1.3" stroke-dasharray="1.4 2" fill="none"/>
<circle cx="711.1" cy="344.7" r="3.3" fill="#808080"/>
<circle cx="711.1" cy="399.9" r="3.3" fill="#808080"/>
<circle cx="721" cy="411" r="3.3" fill="#808080"/>
<circle cx="700.7" cy="427.3" r="3.3" fill="#808080"/>
<circle cx="711.1" cy="427.3" r="3.3" fill="#808080"/>
<circle cx="711.1" cy="455" r="3.3" fill="#808080"/>
<circle cx="754.9" cy="317" r="3.3" fill="#808080"/>
<circle cx="761.9" cy="317" r="3.3" fill="#808080"/>
<circle cx="768.5" cy="317" r="3.3" fill="#808080"/>
<circle cx="775.2" cy="317" r="3.3" fill="#808080"/>
<circle cx="781.9" cy="317" r="3.3" fill="#808080"/>
<path d="M702 375.6H720M702 451.3H720M711.1 375.6V451.3" stroke="#333" stroke-width="1.1" fill="none"/>
<path d="M692.6 413.5H729.2" stroke="#000" stroke-width="1.9" fill="none"/>
<path d="M750 317H787.9" stroke="#000" stroke-width="1.9" fill="none"/>
<path d="M681.4 316.5V482.3H791.6M676.8 317H681.4M676.8 371.9H681.4M676.8 427.1H681.4M676.8 482.3H681.4M708.7 482.3V486.7M764.3 482.3V486.7" stroke="#151515" stroke-width="1.25" fill="none"/>
<text transform="translate(675.3 321.6) scale(1 1.04)" font-size="12.8" text-anchor="end">0</text>
<text transform="translate(675.3 376.5) scale(1 1.04)" font-size="12.8" text-anchor="end">-20</text>
<text transform="translate(675.3 431.7) scale(1 1.04)" font-size="12.8" text-anchor="end">-40</text>
<text transform="translate(675.3 486.9) scale(1 1.04)" font-size="12.8" text-anchor="end">-60</text>
<text transform="translate(654.2 388.3) rotate(-90) scale(1 1.04)" font-size="12.3" text-anchor="middle" xml:space="preserve">Current  shift (nA)</text>
<text transform="translate(704.7 291.2) scale(1 1.04)" font-size="12.8"><tspan font-style="italic">P</tspan> = 0.0043</text>
<path d="M707.4 305.4V298H763.4V305.4" stroke="#111" stroke-width="1.15" fill="none"/>
<polygon points="708.7,507.6 714,498.7 711.4,498.7 711.4,493.9 706.1,493.9 706.1,498.7 703.4,498.7" fill="#000000"/>
<polygon points="764.3,507.6 769.6,498.7 766.9,498.7 766.9,493.9 761.6,493.9 761.6,498.7 759,498.7" fill="#fff" stroke="#000000" stroke-width="1.15" stroke-linejoin="miter"/>
<polygon points="32,625.8 32.5,625.8 33,625.8 33.5,625.8 34,625.6 34.5,625.4 35,625.5 35.5,625.6 36,625.7 36.5,625.9 37,625.9 37.5,626.1 38,626.2 38.5,626 39,625.7 39.5,625.7 40,625.7 40.5,625.6 41,625.6 41.5,625.6 42,625.4 42.5,625.6 43,625.8 43.5,626 44,626 44.5,626.2 45,626.2 45.5,626.1 46,626.1 46.5,638.3 47,658.2 47.5,678.2 48,698.1 48.5,711.6 49,700.7 49.5,691.1 50,682.7 50.5,675.5 51,669.2 51.5,663.7 52,658.8 52.5,654.4 53,650.6 53.5,647.2 54,644.1 54.5,641.4 55,639 55.5,637 56,635.3 56.5,633.8 57,632.3 57.5,631 58,629.8 58.5,628.8 59,628.1 59.5,627.4 60,626.9 60.5,626.4 61,625.8 61.5,625.4 62,625 62.5,624.7 63,624.3 63.5,624.1 64,623.7 64.5,623.5 65,623.3 65.5,623.1 66,622.9 66.5,622.8 67,622.6 67.5,622.3 68,622 68.5,621.8 69,621.6 69.5,621.4 70,621.5 70.5,621.4 71,621.4 71.5,621.3 72,621.1 72.5,620.9 73,620.9 73.5,612.2 73.5,616.1 73,624.8 72.5,624.8 72,624.9 71.5,625.1 71,625 70.5,625.1 70,625.1 69.5,625.1 69,625.3 68.5,625.6 68,625.8 67.5,626 67,626 66.5,626 66,625.9 65.5,626 65,626.3 64.5,626.6 64,627 63.5,627.4 63,627.8 62.5,628.3 62,628.6 61.5,629 61,629.4 60.5,630 60,630.4 59.5,630.9 59,631.4 58.5,632 58,633.2 57.5,634.6 57,636 56.5,637.1 56,638.4 55.5,639.9 55,642 54.5,644.4 54,647.1 53.5,649.9 53,653.2 52.5,656.9 52,661.3 51.5,666.5 51,672.5 50.5,678.8 50,685.9 49.5,694.1 49,704 48.5,715.2 48,702 47.5,682.4 47,662.7 46.5,642.9 46,631 45.5,631 45,631 44.5,630.5 44,630.1 43.5,630.1 43,630.1 42.5,630 42,630.1 41.5,630.2 41,630.5 40.5,630.8 40,630.5 39.5,630.2 39,630 38.5,630 38,630.1 37.5,630.1 37,630.1 36.5,630.2 36,630.1 35.5,630.3 35,630.4 34.5,630.6 34,630.4 33.5,630.3 33,630.2 32.5,630.2 32,630.1" fill="#000000" stroke="#000000" stroke-width="2.0" stroke-linejoin="round"/>
<polygon points="73.5,612.2 74,603.6 74.5,603.8 75,604 75.5,603.6 76,603.3 76.5,603.5 77,603.7 77.5,603.6 78,603.5 78.5,603.4 79,603.6 79.5,603.7 80,603.8 80.5,603.7 81,603.7 81.5,603.7 82,603.7 82.5,603.5 83,603.3 83.5,603.5 84,603.7 84.5,603.4 85,603.2 85.5,603.1 86,603 86.5,603 87,602.9 87.5,603.1 88,603.2 88.5,603.3 89,603.1 89.5,602.9 90,602.7 90.5,602.9 91,603.2 91.5,603 92,602.9 92.5,602.7 93,602.8 93.5,602.9 94,603 94.5,603 95,603 95.5,602.9 96,602.9 96.5,602.8 97,602.6 97.5,602.2 98,602.2 98.5,602.2 99,602.1 99.5,602.2 100,602.3 100.5,602.6 101,603.3 101.5,603.8 102,603.5 102.5,603.2 103,602.9 103.5,602.7 104,602.6 104.5,602.5 105,602.5 105.5,602.3 106,602.2 106.5,602.1 107,601.6 107.5,601.1 108,601 108.5,600.9 109,600.8 109.5,601.1 110,601.3 110.5,600.9 111,600.6 111.5,600.7 112,600.8 112.5,600.9 113,600.8 113.5,600.8 114,600.7 114.5,600.5 115,600.5 115.5,600.4 116,600.3 116.5,600.2 117,600.2 117.5,600.2 118,600 118.5,600 119,599.9 119.5,599.7 120,599.5 120.5,599.3 121,599.1 121.5,599 122,598.9 122.5,599 123,599.3 123.5,599 124,598.7 124.5,598.4 125,598.5 125.5,598.7 126,598.9 126.5,598.8 127,598.7 127.5,598.7 128,598.6 128.5,598.5 129,598.4 129.5,598.4 130,598.3 130.5,601.7 131,607.2 131.5,608.1 132,606.3 132.5,604.8 133,603.7 133.5,602.5 134,601.5 134.5,600.6 135,600 135.5,599.4 136,598.8 136.5,598.3 137,598.2 137.5,598.1 138,598 138.5,597.9 139,597.8 139.5,597.9 140,597.4 140.5,597 141,597.1 141.5,597.2 142,597.4 142.5,597.2 143,597 143.5,596.8 144,596.9 144.5,597 145,597 145.5,597.1 146,596.9 146.5,596.6 147,596.3 147.5,596.2 148,595.9 148.5,596.2 149,596.4 149.5,596.6 150,596.5 150.5,596.4 151,596.3 151.5,596.3 152,596.3 152.5,596.3 153,596 153.5,595.7 154,595.6 154.5,595.6 155,595.6 155.5,595.8 156,596 156.5,595.6 157,612.2 157.5,633.4 158,648.5 158.5,640.2 159,633.3 159.5,627.7 160,622.9 160.5,619 161,615.6 161.5,612.8 162,610.4 162.5,608.4 163,606.8 163.5,605.5 164,604.4 164.5,603.5 165,602.4 165.5,601.4 166,600.5 166.5,600.3 167,600.2 167.5,599.5 168,598.8 168.5,598.8 169,598.7 169.5,598.7 170,598.4 170.5,598.2 171,598 171.5,597.7 172,597.6 172.5,597.3 173,597.2 173.5,597 174,597 174.5,596.8 175,596.7 175.5,596.6 176,596.6 176.5,596.4 177,596.3 177.5,596.1 178,596 178.5,596 179,596 179.5,596 180,596 180.5,596.1 181,596.1 181.5,596.1 182,596.1 182.5,596 183,595.8 183.5,595.7 184,595.6 184.5,595.5 185,616 185.5,641.8 186,667.6 186.5,693.7 187,688 187.5,682.6 188,677.5 188.5,672.8 189,668.2 189.5,663.9 190,659.9 190.5,656.3 191,653 191.5,649.9 192,647 192.5,643.9 193,641.1 193.5,638.4 194,636.3 194.5,634.3 195,632.4 195.5,630.6 196,628.8 196.5,627.2 197,625.7 197.5,624.3 198,622.8 198.5,621.4 199,620.2 199.5,619 200,618 200.5,617.2 201,616.3 201.5,615.6 202,614.7 202.5,613.8 203,612.9 203.5,612 204,611.1 204.5,610.7 205,610.1 205.5,609.6 206,609 206.5,608.5 207,607.9 207.5,607.4 208,606.9 208.5,606.5 209,606.2 209.5,605.8 210,605.5 210.5,605.1 211,604.8 211.5,604.6 212,604.3 212.5,604.2 213,604.1 213.5,603.9 214,603.5 214.5,603.1 215,602.7 215.5,602.3 216,602.2 216.5,602.1 217,602 217.5,601.9 218,601.8 218.5,601.7 219,601.6 219.5,601.4 220,601.3 220.5,601.2 221,601 221.5,600.8 222,600.7 222.5,600.5 223,600.3 223.5,600.1 224,600 224.5,599.9 225,599.6 225.5,599.3 226,599.2 226.5,599.2 227,599.1 227.5,599.1 228,599 228.5,598.9 229,598.8 229.5,598.8 230,598.7 230.5,598.7 231,598.5 231.5,598.3 232,598.2 232.5,597.9 233,597.6 233.5,598 234,598.3 234.5,598.3 235,598.2 235.5,598.1 236,597.8 236.5,597.6 237,597.4 237.5,597.4 238,597.4 238.5,597.6 239,597.6 239.5,597.8 240,597.6 240.5,597.4 241,597.3 241.5,597.2 242,597.2 242.5,597.3 243,597.2 243.5,597.1 244,597.1 244.5,596.9 245,596.8 245.5,596.9 246,596.9 246.5,597 247,596.7 247.5,596.3 248,596.5 248.5,596.7 249,596.5 249.5,596.3 250,596.1 250.5,596.3 251,596.4 251.5,596.3 252,596.1 252.5,596 253,596 253.5,595.9 254,595.8 254.5,596 255,626 255.5,663.5 256,692.8 256.5,689.7 257,686.6 257.5,683.8 258,681 258.5,678.4 259,676 259.5,673.7 260,671.6 260.5,669.5 261,667.5 261.5,665.5 262,663.8 262.5,662.1 263,660.5 263.5,659.3 264,658.3 264.5,656.6 265,654.9 265.5,653.8 266,652.7 266.5,651.6 267,650.6 267.5,649.4 268,648.4 268.5,647.4 269,646.6 269.5,645.9 270,645.2 270.5,644.5 271,643.7 271.5,642.9 272,642.1 272.5,641.3 273,640.7 273.5,640 274,639.3 274.5,638.6 275,637.9 275.5,637.2 276,636.6 276.5,636 277,635.4 277.5,634.8 278,634.3 278.5,633.7 279,633.1 279.5,632.7 280,632.2 280.5,631.8 281,631.4 281.5,631 282,630.6 282.5,630.2 283,629.8 283.5,629.3 284,629 284.5,628.6 285,628.3 285.5,627.8 286,627.3 286.5,626.8 287,626.4 287.5,626 288,625.5 288.5,625.2 289,624.9 289.5,624.8 290,624.6 290.5,624.2 291,623.8 291.5,623.4 292,623.1 292.5,622.8 293,622.4 293.5,622.1 294,621.9 294.5,621.7 295,621.4 295.5,621.1 296,620.7 296.5,620.4 297,619.9 297.5,619.4 298,619.2 298.5,619 299,618.7 299.5,618.5 300,618.5 300.5,618.4 301,618.4 301.5,618 302,617.7 302.5,617.3 303,617.1 303.5,616.9 304,616.6 304.5,616.4 305,616 305.5,615.6 306,615.1 306.5,614.8 307,614.6 307.5,614.3 308,614.1 308.5,614.1 309,614.1 309.5,614.1 310,614 310.5,613.9 311,613.7 311.5,613.3 312,612.9 312.5,612.5 313,612.1 313.5,612.1 314,612.2 314.5,612 315,611.7 315.5,611.4 316,611.2 316.5,611 317,610.9 317.5,610.8 318,610.5 318.5,610.4 319,610.2 319.5,610 320,610 320.5,609.9 321,609.9 321.5,609.7 322,609.5 322.5,609.4 323,609.2 323.5,608.9 324,608.6 324.5,608.3 325,608.4 325.5,608.5 326,608.6 326.5,608.5 327,608.4 327.5,608.2 328,608 328.5,607.9 329,607.6 329.5,607.3 330,606.9 330.5,606.6 331,606.7 331.5,606.7 332,606.7 332.5,606.6 333,606.6 333.5,606.6 334,606.5 334.5,606.3 335,606 335.5,605.7 336,605.8 336.5,605.8 337,605.7 337.5,605.5 338,605.3 338.5,605 339,604.8 339.5,604.6 340,604.4 340.5,604.3 341,604.4 341.5,604.3 342,604.5 342.5,604.7 343,604.4 343.5,604.1 344,604 344.5,604 345,604 345.5,604.1 346,603.8 346.5,603.6 347,603.4 347.5,603.3 348,603.2 348.5,603 349,602.9 349.5,602.8 350,602.7 350.5,602.6 351,602.5 351.5,602.6 352,602.7 352.5,602.8 353,602.8 353.5,602.7 354,602.6 354.5,602.5 355,602.4 355.5,602.4 356,602.4 356.5,602.2 357,602 357.5,602 358,602 358.5,601.9 359,601.9 359.5,601.8 360,601.7 360.5,601.7 361,601.6 361.5,601.4 362,601.2 362.5,601.1 363,600.9 363.5,600.8 364,600.8 364.5,600.9 365,601 365.5,600.9 366,600.7 366.5,600.5 367,600.5 367.5,600.5 368,600.5 368.5,600.2 369,600 369.5,600.2 370,600.5 370.5,600.3 371,600.2 371.5,600 372,600.2 372.5,600.2 373,600.2 373.5,600.1 374,600 374.5,599.9 375,599.8 375.5,599.7 376,599.5 376.5,599.6 377,599.7 377.5,599.8 378,599.5 378.5,599.2 379,599 379.5,599 380,599 380.5,599.1 381,599.1 381.5,599 382,598.9 382.5,598.8 383,598.8 383.5,598.6 384,598.5 384.5,598.4 385,598.5 385.5,598.6 386,598.6 386.5,598.7 387,598.7 387.5,598.8 388,598.8 388.5,598.9 389,598.9 389.5,598.9 390,598.8 390.5,598.6 391,598.4 391.5,598.1 392,598.1 392.5,598 393,597.9 393.5,597.9 394,598.1 394.5,598.3 395,598.5 395.5,598.5 396,598.5 396.5,598.5 397,598.2 397.5,598.1 398,597.9 398.5,597.7 399,597.8 399.5,597.8 400,597.9 400.5,597.9 401,597.8 401.5,597.7 402,597.6 402.5,597.4 403,597.3 403.5,597.3 404,597.4 404.5,597.4 405,597.5 405,601.6 404.5,601.6 404,601.7 403.5,601.6 403,601.6 402.5,601.6 402,601.5 401.5,601.3 401,601.2 400.5,601.5 400,601.9 399.5,601.6 399,601.2 398.5,601.3 398,601.4 397.5,601.4 397,601.5 396.5,601.6 396,601.7 395.5,601.7 395,601.7 394.5,601.7 394,601.8 393.5,601.8 393,601.8 392.5,601.9 392,602.1 391.5,602.2 391,602.3 390.5,602.4 390,602.4 389.5,602.4 389,602.3 388.5,602.2 388,602.2 387.5,602.2 387,602.1 386.5,602.1 386,602.2 385.5,602.4 385,602.5 384.5,602.5 384,602.4 383.5,602.5 383,602.5 382.5,602.5 382,602.5 381.5,602.6 381,602.7 380.5,602.8 380,602.7 379.5,602.7 379,602.8 378.5,603 378,603.2 377.5,603.2 377,603.1 376.5,603.1 376,603.3 375.5,603.4 375,603.6 374.5,603.7 374,603.6 373.5,603.6 373,603.6 372.5,603.6 372,603.7 371.5,603.7 371,603.8 370.5,603.9 370,604 369.5,604 369,604.1 368.5,604 368,603.8 367.5,603.7 367,603.9 366.5,604 366,604.1 365.5,604.4 365,604.5 364.5,604.7 364,604.9 363.5,605.1 363,605.2 362.5,605.2 362,605.2 361.5,605.3 361,605.4 360.5,605.4 360,605.5 359.5,605.6 359,605.6 358.5,605.5 358,605.6 357.5,605.7 357,605.8 356.5,605.6 356,605.5 355.5,605.5 355,605.4 354.5,605.5 354,605.7 353.5,605.9 353,606 352.5,606 352,606 351.5,606.1 351,606.3 350.5,606.5 350,606.7 349.5,606.7 349,606.8 348.5,606.7 348,606.7 347.5,606.9 347,607.2 346.5,607.4 346,607.6 345.5,607.6 345,607.7 344.5,607.8 344,607.8 343.5,607.8 343,607.7 342.5,607.7 342,607.9 341.5,608 341,608.1 340.5,608.3 340,608.5 339.5,608.7 339,608.9 338.5,609.1 338,609.2 337.5,609 337,608.8 336.5,609.1 336,609.3 335.5,609.4 335,609.8 334.5,610.1 334,610.4 333.5,610.5 333,610.5 332.5,610.5 332,610.5 331.5,610.6 331,610.6 330.5,610.6 330,610.6 329.5,610.7 329,611.1 328.5,611.4 328,611.8 327.5,612 327,612 326.5,612.1 326,612.2 325.5,612.3 325,612.4 324.5,612.5 324,612.6 323.5,612.6 323,612.6 322.5,612.8 322,612.9 321.5,613.1 321,613.2 320.5,613.7 320,614.3 319.5,614.3 319,614.3 318.5,614.2 318,614.2 317.5,614.5 317,614.7 316.5,615 316,615.1 315.5,615.2 315,615.3 314.5,615.4 314,615.6 313.5,615.8 313,616 312.5,616.3 312,616.4 311.5,616.6 311,616.8 310.5,617 310,617.2 309.5,617.4 309,617.7 308.5,618 308,618.3 307.5,618.7 307,618.8 306.5,618.9 306,618.9 305.5,619.3 305,619.7 304.5,620.1 304,620.2 303.5,620.2 303,620.2 302.5,620.7 302,621.2 301.5,621.6 301,621.9 300.5,622.2 300,622.4 299.5,622.4 299,622.4 298.5,622.6 298,622.9 297.5,623.4 297,623.9 296.5,624.4 296,624.5 295.5,624.7 295,624.8 294.5,625 294,625.3 293.5,625.6 293,625.9 292.5,626.3 292,626.6 291.5,626.9 291,627.2 290.5,627.6 290,627.9 289.5,628.3 289,628.5 288.5,628.8 288,629 287.5,629.6 287,630.1 286.5,630.6 286,631 285.5,631.5 285,631.6 284.5,631.7 284,632.2 283.5,632.6 283,633.1 282.5,633.6 282,634.2 281.5,634.7 281,635.4 280.5,636.1 280,636.4 279.5,636.7 279,637 278.5,637.6 278,638.1 277.5,638.6 277,639.1 276.5,639.7 276,640.2 275.5,640.7 275,641.3 274.5,641.9 274,642.4 273.5,643 273,643.8 272.5,644.7 272,645.6 271.5,646.2 271,646.9 270.5,647.5 270,648.5 269.5,649.5 269,650.5 268.5,651.5 268,652.4 267.5,653.2 267,654.2 266.5,655.3 266,656.5 265.5,657.7 265,658.9 264.5,660.1 264,661.4 263.5,662.8 263,664.5 262.5,666.2 262,668 261.5,670 261,671.6 260.5,673.4 260,675.3 259.5,677.4 259,679.6 258.5,682 258,684.6 257.5,687.4 257,690.2 256.5,693.3 256,696.5 255.5,667.3 255,629.8 254.5,599.8 254,599.7 253.5,599.7 253,599.8 252.5,599.8 252,600 251.5,600.2 251,600.5 250.5,600.7 250,600.4 249.5,600.3 249,600.1 248.5,600.1 248,600.1 247.5,600.2 247,600.3 246.5,600.5 246,600.4 245.5,600.4 245,600.3 244.5,600.3 244,600.4 243.5,600.4 243,600.5 242.5,600.6 242,600.7 241.5,600.8 241,600.9 240.5,600.8 240,600.8 239.5,600.8 239,600.9 238.5,601 238,601.1 237.5,601.2 237,601.4 236.5,601.5 236,601.7 235.5,601.6 235,601.6 234.5,601.6 234,601.5 233.5,601.6 233,601.6 232.5,601.7 232,601.8 231.5,601.8 231,601.9 230.5,602 230,602.2 229.5,602.4 229,602.5 228.5,602.7 228,602.9 227.5,602.9 227,602.8 226.5,602.8 226,603.1 225.5,603.4 225,603.2 224.5,603 224,603.3 223.5,603.6 223,604 222.5,604 222,604 221.5,604.1 221,604.1 220.5,604.3 220,604.3 219.5,604.4 219,604.6 218.5,605 218,605.4 217.5,605.6 217,605.7 216.5,605.9 216,606 215.5,606.2 215,606.4 214.5,606.6 214,606.9 213.5,607.2 213,607.5 212.5,607.6 212,607.8 211.5,608.1 211,608.4 210.5,608.8 210,609.2 209.5,609.7 209,610.1 208.5,610.6 208,611.2 207.5,611.8 207,612 206.5,612.2 206,612.4 205.5,613 205,613.7 204.5,614.4 204,614.9 203.5,615.6 203,616.3 202.5,617 202,617.9 201.5,618.9 201,619.8 200.5,620.9 200,621.9 199.5,622.9 199,623.9 198.5,625 198,626.3 197.5,627.7 197,629.2 196.5,630.8 196,632.5 195.5,634.3 195,636.2 194.5,638.2 194,640.4 193.5,642.5 193,644.8 192.5,647.3 192,650.3 191.5,653.4 191,656.4 190.5,659.7 190,663.1 189.5,667.1 189,671.3 188.5,675.9 188,680.8 187.5,686.1 187,691.8 186.5,697.6 186,671.7 185.5,645.8 185,619.9 184.5,599.3 184,599.3 183.5,599.3 183,599.4 182.5,599.6 182,599.7 181.5,599.9 181,599.8 180.5,599.8 180,599.8 179.5,599.8 179,599.8 178.5,599.8 178,599.9 177.5,599.9 177,599.9 176.5,599.9 176,600.1 175.5,600.2 175,600.4 174.5,600.6 174,600.5 173.5,600.5 173,600.5 172.5,600.9 172,601.3 171.5,601.4 171,601.5 170.5,601.7 170,601.8 169.5,602 169,602.2 168.5,602.7 168,603.3 167.5,603.3 167,603.4 166.5,604.1 166,604.8 165.5,605.7 165,606.3 164.5,607 164,607.8 163.5,609 163,610.5 162.5,612.1 162,614.1 161.5,616.4 161,619.2 160.5,622.4 160,626.4 159.5,631.1 159,636.8 158.5,643.8 158,652.2 157.5,637.3 157,616.4 156.5,599.6 156,599.9 155.5,599.7 155,599.4 154.5,599.5 154,599.5 153.5,599.6 153,599.6 152.5,599.6 152,599.6 151.5,599.7 151,599.8 150.5,600 150,600.1 149.5,600.3 149,600.5 148.5,600.6 148,600.4 147.5,600.1 147,599.8 146.5,599.9 146,600 145.5,600.1 145,600.1 144.5,600.2 144,600.2 143.5,600.3 143,600.5 142.5,600.7 142,601 141.5,600.9 141,600.8 140.5,600.9 140,600.9 139.5,601 139,601.1 138.5,601.2 138,601.7 137.5,602.2 137,602.4 136.5,602.7 136,603.1 135.5,603.5 135,603.7 134.5,603.9 134,604.6 133.5,605.6 133,606.6 132.5,607.9 132,609.5 131.5,611.4 131,610.5 130.5,604.9 130,601.6 129.5,601.8 129,602 128.5,602.2 128,602 127.5,601.9 127,601.7 126.5,601.9 126,602.1 125.5,602.2 125,602.3 124.5,602.3 124,602.4 123.5,602.5 123,602.6 122.5,602.7 122,602.8 121.5,602.9 121,602.8 120.5,602.8 120,602.8 119.5,603 119,603.2 118.5,603.3 118,603.3 117.5,603.4 117,603.5 116.5,603.6 116,603.8 115.5,603.9 115,603.9 114.5,603.8 114,604.2 113.5,604.6 113,604.4 112.5,604.2 112,604.4 111.5,604.5 111,604.7 110.5,604.8 110,604.9 109.5,604.9 109,604.9 108.5,605 108,605 107.5,605 107,605.1 106.5,605.2 106,605.4 105.5,605.5 105,605.7 104.5,605.8 104,606 103.5,606.2 103,606.4 102.5,606.6 102,606.8 101.5,607.1 101,606.6 100.5,606 100,606.2 99.5,606.4 99,606.1 98.5,605.8 98,605.8 97.5,605.9 97,605.9 96.5,605.9 96,606 95.5,606 95,606.2 94.5,606.4 94,606.6 93.5,606.5 93,606.4 92.5,606.3 92,606.2 91.5,606.4 91,606.5 90.5,606.7 90,606.8 89.5,606.8 89,606.8 88.5,606.8 88,606.9 87.5,606.9 87,606.8 86.5,606.7 86,606.7 85.5,606.7 85,606.7 84.5,606.7 84,606.8 83.5,606.8 83,606.9 82.5,607 82,607 81.5,607 81,607 80.5,607.2 80,607.4 79.5,607.7 79,607.5 78.5,607.2 78,607 77.5,607.1 77,607.1 76.5,607.2 76,607.2 75.5,607.1 75,607.1 74.5,607.3 74,607.4 73.5,616.1" fill="#dc2a1b" stroke="#dc2a1b" stroke-width="2.0" stroke-linejoin="round"/>
<polygon points="405.5,597.9 406,600.3 406.5,602.4 407,604.3 407.5,606.1 408,607.7 408.5,609 409,610.2 409.5,611.2 410,612.3 410.5,613.2 411,614 411.5,614.9 412,615.7 412.5,616.3 413,616.8 413.5,617.2 414,617.4 414.5,617.6 415,617.7 415.5,618.2 416,618.7 416.5,619.1 417,619.5 417.5,619.8 418,620.1 418.5,620.3 419,620.4 419.5,620.4 420,620.7 420.5,621 421,620.8 421.5,620.7 422,620.9 422.5,621 423,621.3 423.5,621.5 424,621.7 424.5,621.9 425,622.1 425.5,622.2 426,622.4 426.5,622.5 427,622.7 427.5,622.8 428,622.9 428.5,623 429,623 429.5,622.8 430,622.6 430.5,622.5 431,622.5 431.5,622.5 432,622.6 432.5,622.6 433,622.8 433.5,623 434,623.3 434.5,623.6 435,623.7 435.5,623.7 436,623.7 436.5,624.3 437,627.8 437.5,631.3 438,631 438.5,630 439,629.1 439.5,628.1 440,627.2 440.5,626.5 441,626.1 441.5,625.7 442,625.3 442.5,625.1 443,624.9 443.5,624.7 444,624.5 444.5,624.4 445,624.2 445.5,624.3 446,624.4 446.5,624.4 447,624.5 447.5,624.2 448,623.9 448.5,623.9 449,624 449.5,624.1 450,624.3 450.5,624 451,623.7 451.5,623.9 452,624 452.5,624.3 453,624 453.5,623.8 454,623.5 454.5,623.6 455,623.6 455.5,623.7 456,623.8 456.5,623.9 457,624 457.5,624.1 458,624.2 458.5,624.2 459,624.2 459.5,624.2 460,624.2 460.5,624.2 461,624.3 461.5,624.3 462,624.3 462.5,624.3 463,624.3 463.5,624.3 463.5,629.1 463,629.2 462.5,629.2 462,629.2 461.5,629.2 461,629.2 460.5,629.2 460,629.2 459.5,629.3 459,629.1 458.5,628.8 458,628.7 457.5,628.8 457,629 456.5,628.8 456,628.6 455.5,628.4 455,628.4 454.5,628.5 454,628.6 453.5,628.5 453,628.5 452.5,628.4 452,628.6 451.5,628.7 451,628.6 450.5,628.5 450,628.5 449.5,628.5 449,628.6 448.5,628.6 448,628.6 447.5,628.6 447,628.7 446.5,628.7 446,628.8 445.5,628.9 445,629 444.5,629.1 444,629.2 443.5,629.2 443,629.3 442.5,629.5 442,629.7 441.5,630 441,630.4 440.5,631 440,631.6 439.5,632.4 439,633.3 438.5,634.4 438,635.8 437.5,636.2 437,632.3 436.5,628.5 436,627.6 435.5,627.9 435,628.1 434.5,628.2 434,628 433.5,627.8 433,627.6 432.5,627.6 432,627.6 431.5,627.6 431,627.5 430.5,627.3 430,627.1 429.5,627 429,627 428.5,627.1 428,627.2 427.5,627.2 427,627.1 426.5,627 426,626.8 425.5,626.7 425,626.5 424.5,626.3 424,626.1 423.5,625.9 423,626 422.5,626.1 422,626 421.5,625.9 421,625.8 420.5,625.7 420,625.4 419.5,625 419,624.6 418.5,624.3 418,624 417.5,623.7 417,623.4 416.5,623.1 416,622.7 415.5,622.7 415,622.5 414.5,622.2 414,622 413.5,621.6 413,621 412.5,620.4 412,619.7 411.5,619.1 411,618.4 410.5,617.6 410,616.7 409.5,615.8 409,614.6 408.5,613.3 408,612 407.5,610.6 407,608.8 406.5,606.9 406,604.7 405.5,602.1" fill="#000000" stroke="#000000" stroke-width="2.0" stroke-linejoin="round"/>
<text transform="translate(47.7 577.8) scale(1 1)" font-size="13.8" text-anchor="middle">-7</text>
<polygon points="45.8,580.9 50.8,580.9 48.3,589.5" fill="#000"/>
<text transform="translate(100.1 577.8) scale(1 1)" font-size="13.8" text-anchor="middle">-7</text>
<polygon points="98.2,580.9 103.2,580.9 100.7,589.5" fill="#000"/>
<text transform="translate(129.2 577.8) scale(1 1)" font-size="13.8" text-anchor="middle">-6</text>
<polygon points="127.3,580.9 132.3,580.9 129.8,589.5" fill="#000"/>
<text transform="translate(156.5 577.8) scale(1 1)" font-size="13.8" text-anchor="middle">-5</text>
<polygon points="154.6,580.9 159.6,580.9 157.1,589.5" fill="#000"/>
<text transform="translate(184.1 577.8) scale(1 1)" font-size="13.8" text-anchor="middle">-4</text>
<polygon points="182.2,580.9 187.2,580.9 184.7,589.5" fill="#000"/>
<text transform="translate(253.9 577.8) scale(1 1)" font-size="13.8" text-anchor="middle">-3</text>
<polygon points="252,580.9 257,580.9 254.5,589.5" fill="#000"/>
<text transform="translate(434.2 577.8) scale(1 1)" font-size="13.8" text-anchor="middle">-7</text>
<polygon points="432.3,580.9 437.3,580.9 434.8,589.5" fill="#000"/>
<polygon points="74,581.4 79.3,590.3 76.7,590.3 76.7,595.1 71.3,595.1 71.3,590.3 68.7,590.3" fill="#dc2a1b"/>
<polygon points="404.7,594.3 410,585.4 407.3,585.4 407.3,580.6 402.1,580.6 402.1,585.4 399.4,585.4" fill="#000000"/>
<path d="M420.8 641.9V662.9H446.8" fill="none" stroke="#000" stroke-width="1.3"/>
<text transform="translate(415.7 659.8) scale(1 1.04)" font-size="13" text-anchor="end">50 nA</text>
<text transform="translate(417.4 678.6) scale(1 1.04)" font-size="13" text-anchor="start">2 min</text>
<polygon points="40.8,754.4 41.3,754.5 41.8,754.5 42.3,754.6 42.8,754.7 43.3,754.5 43.8,754.4 44.3,754.3 44.8,754.1 45.3,754.1 45.8,754 46.3,754.2 46.8,754.4 47.3,754.5 47.8,754.3 48.3,754.1 48.8,753.9 49.3,753.7 49.8,753.6 50.3,753.5 50.8,753.8 51.3,754.2 51.8,754.5 52.3,754.5 52.8,754.5 53.3,754.4 53.8,754.4 54.3,754.4 54.8,754.4 55.3,754.4 55.8,754.4 56.3,754.4 56.8,754.4 57.3,754.3 57.8,754.2 58.3,754.1 58.8,753.9 59.3,753.8 59.8,753.9 60.3,754 60.8,753.9 61.3,753.8 61.8,753.6 62.3,753.9 62.8,753.6 63.3,754.3 63.8,754.3 64.3,754.3 64.8,754.4 65.3,754.4 65.8,754 66.3,753.6 66.8,753.7 67.3,753.9 67.8,754.2 68.3,754.3 68.8,754.4 69.3,754.3 69.8,754.2 70.3,754.2 70.8,754.1 71.3,754.2 71.8,754.2 72.3,754.3 72.8,754.3 73.3,754.3 73.8,754.4 74.3,754.4 74.8,754.1 75.3,753.9 75.8,753.7 76.3,753.6 76.8,753.6 77.3,753.6 77.8,753.6 78.3,753.7 78.8,753.7 79.3,754 79.8,754.4 80.3,754.3 80.8,754.2 81.3,754.2 81.8,754.4 82.3,754.5 82.8,754.2 83.3,754 83.8,753.8 84.3,754 84.8,754.2 85.3,754.3 85.8,754.5 86.3,754.3 86.8,754.1 87.3,753.9 87.8,753.6 88.3,753.6 88.8,753.6 89.3,753.7 89.8,753.8 90.3,753.8 90.8,754 91.3,754.1 91.8,754 92.3,754 92.8,753.9 93.3,753.9 93.8,753.9 94.3,753.9 94.8,754.1 95.3,754.2 95.8,754.4 96.3,754.3 96.8,754.2 97.3,754 97.8,753.9 98.3,753.7 98.8,753.6 99.3,753.4 99.8,753.5 100.3,753.7 100.8,753.9 101.3,753.7 101.8,753.5 102.3,753.9 102.8,754.3 103.3,754.2 103.8,754.1 104.3,753.9 104.8,753.7 105.3,753.6 105.8,753.4 106.3,753.6 106.8,753.9 107.3,754.2 107.8,754.1 107.8,760 107.3,760 106.8,760 106.3,760.1 105.8,759.8 105.3,759.5 104.8,759.7 104.3,759.9 103.8,760.2 103.3,760.3 102.8,760.3 102.3,760.4 101.8,760.2 101.3,760 100.8,759.8 100.3,759.5 99.8,759.5 99.3,759.5 98.8,759.5 98.3,759.4 97.8,759.5 97.3,759.5 96.8,759.7 96.3,759.8 95.8,760 95.3,760.2 94.8,759.9 94.3,759.5 93.8,759.3 93.3,759.3 92.8,759.4 92.3,759.5 91.8,759.5 91.3,759.5 90.8,759.5 90.3,759.4 89.8,759.5 89.3,759.4 88.8,759.3 88.3,759.5 87.8,759.7 87.3,759.9 86.8,760.1 86.3,760 85.8,759.8 85.3,759.6 84.8,759.6 84.3,759.5 83.8,759.4 83.3,759.3 82.8,759.3 82.3,759.4 81.8,759.5 81.3,759.5 80.8,759.5 80.3,759.3 79.8,759.3 79.3,759.3 78.8,759.4 78.3,759.5 77.8,759.5 77.3,759.5 76.8,759.5 76.3,759.6 75.8,759.7 75.3,759.7 74.8,759.7 74.3,759.8 73.8,759.8 73.3,759.7 72.8,759.6 72.3,759.5 71.8,759.4 71.3,759.6 70.8,759.9 70.3,760.2 69.8,760 69.3,759.8 68.8,759.7 68.3,759.7 67.8,759.8 67.3,759.8 66.8,759.9 66.3,759.8 65.8,759.6 65.3,759.5 64.8,759.5 64.3,759.4 63.8,759.4 63.3,759.8 62.8,761 62.3,759.9 61.8,759.7 61.3,759.6 60.8,759.4 60.3,759.4 59.8,759.3 59.3,759.7 58.8,760.1 58.3,760.4 57.8,760.2 57.3,759.9 56.8,759.8 56.3,759.7 55.8,759.6 55.3,759.5 54.8,759.5 54.3,759.7 53.8,760 53.3,760.3 52.8,760.2 52.3,760.1 51.8,760 51.3,760 50.8,759.9 50.3,759.8 49.8,759.8 49.3,759.7 48.8,759.6 48.3,759.5 47.8,759.5 47.3,759.5 46.8,759.5 46.3,759.4 45.8,759.4 45.3,759.5 44.8,759.6 44.3,759.7 43.8,759.9 43.3,759.8 42.8,759.8 42.3,759.7 41.8,759.6 41.3,759.8 40.8,759.9" fill="#000000" stroke="#000000" stroke-width="1.6" stroke-linejoin="round"/>
<polygon points="107.8,754.1 108.3,754.1 108.8,754 109.3,754 109.8,754.2 110.3,754.3 110.8,754.4 111.3,754.4 111.8,754.3 112.3,754.3 112.8,754.3 113.3,754.6 113.8,754.9 114.3,755.2 114.8,755.5 115.3,755.3 115.8,755.1 116.3,754.9 116.8,755.2 117.3,755.4 117.8,755.7 118.3,755.7 118.8,755.6 119.3,755.7 119.8,755.7 120.3,755.7 120.8,755.6 121.3,755.5 121.8,755.4 122.3,755.3 122.8,755.6 123.3,755.9 123.8,755.9 124.3,755.9 124.8,755.8 125.3,755.7 125.8,755.6 126.3,755.5 126.8,755.3 127.3,755.4 127.8,755.5 128.3,755.5 128.8,755.5 129.3,755.4 129.8,755.2 130.3,755.2 130.8,755.2 131.3,755.1 131.8,755.2 132.3,755.2 132.8,755.3 133.3,755.4 133.8,755.5 134.3,755.6 134.8,755.6 135.3,755.5 135.8,755.3 136.3,755.1 136.8,754.8 137.3,755.1 137.8,755.4 138.3,755.8 138.8,755.7 139.3,755.7 139.8,755.6 140.3,755.6 140.8,755.5 141.3,755.3 141.8,755.1 142.3,755.1 142.8,755 143.3,754.9 143.8,755 144.3,755 144.8,755.1 145.3,755 145.8,755 146.3,755 146.8,755 147.3,754.8 147.8,754.6 148.3,754.4 148.8,754.8 149.3,755 149.8,755.4 150.3,755.4 150.8,755.4 151.3,755.4 151.8,755.4 152.3,755.4 152.8,755.4 153.3,755.4 153.8,755.4 154.3,755.4 154.8,755.4 155.3,755.4 155.8,755.1 156.3,754.7 156.8,753.7 157.3,755.1 157.8,755.1 158.3,755.1 158.8,755.2 159.3,754.8 159.8,754.5 160.3,754.6 160.8,754.6 161.3,754.8 161.8,754.9 162.3,755.1 162.8,754.6 163.3,754.1 163.8,754.2 164.3,754.2 164.8,754.2 165.3,754.2 165.8,754.4 166.3,754.6 166.8,754.7 167.3,754.7 167.8,754.7 168.3,754.6 168.8,754.7 169.3,754.8 169.8,754.8 170.3,754.7 170.8,754.7 171.3,754.7 171.8,754.5 172.3,754.2 172.8,753.9 173.3,754.1 173.8,754.3 174.3,754.3 174.8,754.4 175.3,754.3 175.8,754.1 176.3,753.9 176.8,753.6 177.3,753.3 177.8,753.5 178.3,753.6 178.8,753.7 179.3,753.6 179.8,753.5 180.3,753.3 180.8,753.2 181.3,753.4 181.8,753.7 182.3,753.9 182.8,753.9 183.3,753.9 183.8,753.9 184.3,753.7 184.8,753.5 185.3,753.3 185.8,753.5 186.3,753.6 186.8,753.5 187.3,753.4 187.8,753.3 188.3,753.4 188.8,753.6 189.3,753.5 189.8,753.3 190.3,753.2 190.8,753.1 191.3,752.8 191.8,752.4 192.3,752.7 192.8,752.9 193.3,753 193.8,753.3 194.3,753.2 194.8,753.1 195.3,753 195.8,752.8 196.3,752.6 196.8,752.4 197.3,752.7 197.8,753 198.3,753 198.8,752.9 199.3,752.9 199.8,752.9 200.3,751.4 200.8,752.6 201.3,752.3 201.8,752 202.3,751.7 202.8,752 203.3,752.3 203.8,752.6 204.3,752.3 204.8,752.1 205.3,751.7 205.8,752 206.3,752.2 206.8,752.2 207.3,752.1 207.8,752.2 208.3,750.8 208.8,752.4 209.3,752.5 209.8,752.5 210.3,752.5 210.8,752.5 211.3,752.5 211.8,752.4 212.3,752.3 212.8,752.2 213.3,752.1 213.8,752 214.3,752 214.8,752 215.3,752.1 215.8,752 216.3,751.6 216.8,751.2 217.3,751.2 217.8,751.2 218.3,751.3 218.8,751.2 219.3,751.5 219.8,751.7 220.3,752 220.8,751.9 221.3,751.9 221.8,751.9 222.3,751.9 222.8,752 223.3,751.9 223.8,751.8 224.3,751.8 224.8,751.4 225.3,751.1 225.8,750.8 226.3,751 226.8,751.2 227.3,751.4 227.8,751.6 228.3,751.3 228.8,751.1 229.3,751.1 229.8,751 230.3,751 230.8,751 231.3,751.1 231.8,751.1 232.3,751.2 232.8,751.3 233.3,751.4 233.8,751.4 234.3,751.2 234.8,750.9 235.3,750.7 235.8,750.4 236.3,750.6 236.8,750.9 237.3,751.2 237.8,751 238.3,750.9 238.8,750.8 239.3,750.6 239.8,750.6 240.3,750.7 240.8,750.7 241.3,750.8 241.8,750.8 242.3,751 242.8,751.1 243.3,751.3 243.8,751.2 244.3,751.1 244.8,750.9 245.3,750.9 245.8,750.8 246.3,750.8 246.8,750.8 247.3,749.9 247.8,750.9 248.3,751.1 248.8,751.1 249.3,751.1 249.8,751.1 250.3,751.2 250.8,751.1 251.3,751 251.8,751 252.3,750.9 252.8,750.9 253.3,750.9 253.8,750.8 254.3,750.8 254.8,750.9 255.3,751 255.8,751.1 256.3,751.2 256.8,750.9 257.3,750.6 257.8,750.3 258.3,750.6 258.8,750.9 259.3,751.1 259.8,751.2 260.3,751.1 260.8,751.1 261.3,751 261.8,750.9 262.3,750.7 262.8,750.7 263.3,750.7 263.8,750.7 264.3,750.8 264.8,750.9 265.3,751 265.8,750.9 266.3,750.9 266.8,750.9 267.3,750.8 267.8,750.7 268.3,750.5 268.8,750.3 269.3,750.2 269.8,750 270.3,749.9 270.8,750.1 271.3,750.4 271.8,750.7 272.3,750.9 272.8,750.8 273.3,750.7 273.8,750.7 274.3,750.8 274.8,750.8 275.3,750.8 275.8,750.8 276.3,750.8 276.8,750.9 277.3,750.9 277.8,750.7 278.3,750.6 278.8,750.4 279.3,750.3 279.8,750.5 280.3,750.6 280.8,750.8 281.3,750.9 281.8,750.9 282.3,750.9 282.8,750.8 283.3,750.6 283.8,750.4 284.3,750.3 284.8,750.1 285.3,750 285.8,749.8 286.3,749.9 286.8,750 287.3,750.1 287.8,750.4 288.3,750.7 288.8,750.6 289.3,750.5 289.8,750.4 290.3,750.1 290.8,749.8 291.3,750.1 291.8,750.3 292.3,750.6 292.8,748.9 293.3,750.2 293.8,750 294.3,749.8 294.8,750.1 295.3,750.5 295.8,750.5 296.3,750.7 296.8,750.8 297.3,750.4 297.8,750 298.3,750 298.8,750 299.3,750.4 299.8,750.7 300.3,750.6 300.8,750.6 301.3,750.5 301.8,750.3 302.3,750.2 302.8,750.1 303.3,749.9 303.8,750.1 304.3,750.2 304.8,750.3 305.3,750.4 305.8,750.5 306.3,750.6 306.8,750.4 307.3,750.2 307.8,750.2 308.3,750.2 308.8,750.1 309.3,750.1 309.8,750.2 310.3,750.3 310.8,750.4 311.3,750.1 311.8,749.9 312.3,749.8 312.8,749.7 313.3,749.7 313.8,749.6 314.3,749.8 314.8,749.2 315.3,750.4 315.8,750.3 316.3,750.2 316.8,750.1 317.3,750.1 317.8,750.2 318.3,750.3 318.8,750.3 319.3,750.1 319.8,749.8 320.3,749.5 320.8,749.7 321.3,750 321.8,750.2 322.3,750 322.8,749.7 323.3,749.9 323.8,750.2 324.3,750.5 324.8,750.1 325.3,749.8 325.8,750 326.3,750.1 326.8,750.3 327.3,750.5 327.8,750.5 328.3,750.5 328.8,750.5 329.3,750.5 329.8,750.5 330.3,750.6 330.8,750.2 331.3,750 331.8,750.2 332.3,750.3 332.8,750.5 333.3,750.3 333.8,750.2 334.3,750 334.8,749.8 335.3,749.8 335.8,749.8 336.3,749.8 336.8,749.9 337.3,750.1 337.8,749.3 338.3,750.4 338.8,750.3 339.3,750.2 339.8,750.1 340.3,750.1 340.8,750 341.3,750.1 341.8,750.1 342.3,750 342.8,749.8 343.3,749.7 343.8,749.5 344.3,749.8 344.8,750 345.3,750.2 345.8,750.1 346.3,750.1 346.8,750.2 347.3,750.3 347.8,750.3 348.3,750.4 348.8,750.1 349.3,749.7 349.8,749.4 350.3,749.7 350.8,750 351.3,750.3 351.8,750.1 352.3,749.9 352.8,749.7 353.3,749.5 353.8,749.8 354.3,750.2 354.8,749.9 355.3,749.7 355.8,749.4 356.3,749.3 356.8,749.7 357.3,750.2 357.8,750.2 358.3,750.2 358.8,750.2 359.3,750.3 359.8,750.3 360.3,750.1 360.8,750 361.3,749.8 361.8,749.7 362.3,749.7 362.8,749.6 363.3,749.6 363.8,749.8 364.3,749.9 364.8,750.1 365.3,749.9 365.8,749.7 366.3,749.5 366.8,749.6 367.3,749.8 367.8,749.9 368.3,750 368.8,750.1 369.3,750 369.8,750 370.3,749.8 370.8,749.5 371.3,749.2 371.8,748.9 372.3,749 372.8,749.1 373.3,749.1 373.8,749.3 374.3,749.4 374.8,749.7 375.3,749.5 375.8,749.2 376.3,749 376.8,748.8 377.3,748.7 377.8,748.7 378.3,748.6 378.8,748.6 379.3,748.7 379.8,748.9 379.8,753.2 379.3,753.1 378.8,753.4 378.3,753.6 377.8,753.9 377.3,753.9 376.8,754 376.3,753.9 375.8,753.9 375.3,753.9 374.8,753.9 374.3,753.8 373.8,753.8 373.3,753.9 372.8,753.9 372.3,754.1 371.8,754.3 371.3,754.2 370.8,754 370.3,753.8 369.8,754 369.3,754.2 368.8,754.4 368.3,754.2 367.8,753.9 367.3,753.7 366.8,753.8 366.3,754 365.8,753.8 365.3,753.5 364.8,753.8 364.3,754 363.8,754 363.3,754 362.8,753.9 362.3,753.9 361.8,753.8 361.3,753.7 360.8,753.8 360.3,753.9 359.8,754.1 359.3,754 358.8,753.9 358.3,753.8 357.8,753.7 357.3,754 356.8,754.3 356.3,754.5 355.8,754.3 355.3,754.1 354.8,753.9 354.3,753.9 353.8,753.9 353.3,753.8 352.8,753.8 352.3,753.8 351.8,753.8 351.3,753.8 350.8,753.9 350.3,753.9 349.8,753.9 349.3,753.9 348.8,754.3 348.3,754.6 347.8,754.5 347.3,754.5 346.8,754.5 346.3,754.6 345.8,754.5 345.3,754.5 344.8,754.5 344.3,754.5 343.8,754.4 343.3,754.6 342.8,754.7 342.3,754.6 341.8,754.4 341.3,754.3 340.8,754.3 340.3,754.4 339.8,754.5 339.3,754.8 338.8,755 338.3,754.6 337.8,755 337.3,754.4 336.8,754.6 336.3,755 335.8,755.1 335.3,755.1 334.8,755.3 334.3,755.2 333.8,755.1 333.3,755.1 332.8,755 332.3,754.9 331.8,754.8 331.3,754.7 330.8,754.6 330.3,754.6 329.8,754.6 329.3,754.6 328.8,754.4 328.3,754.3 327.8,754.3 327.3,754.4 326.8,754.7 326.3,754.6 325.8,754.5 325.3,754.4 324.8,754.6 324.3,754.8 323.8,755 323.3,755.2 322.8,754.9 322.3,754.7 321.8,754.3 321.3,754.6 320.8,754.8 320.3,755 319.8,754.8 319.3,754.6 318.8,754.5 318.3,754.5 317.8,754.5 317.3,754.9 316.8,755.3 316.3,755.1 315.8,754.9 315.3,754.7 314.8,755.8 314.3,754.9 313.8,755.4 313.3,755.7 312.8,755.4 312.3,755.1 311.8,754.8 311.3,754.9 310.8,755.1 310.3,755.3 309.8,755.4 309.3,755.6 308.8,755.3 308.3,754.9 307.8,754.6 307.3,754.7 306.8,754.9 306.3,755.1 305.8,755.3 305.3,755.3 304.8,755.4 304.3,755.6 303.8,755.3 303.3,755 302.8,754.7 302.3,754.9 301.8,755 301.3,755.2 300.8,755.4 300.3,755.2 299.8,755.1 299.3,754.9 298.8,755 298.3,755.1 297.8,755.1 297.3,755.2 296.8,755.2 296.3,755.3 295.8,755.2 295.3,755.2 294.8,755.1 294.3,755.1 293.8,755 293.3,754.8 292.8,756.4 292.3,755 291.8,755 291.3,755.1 290.8,755.2 290.3,755.2 289.8,755.3 289.3,755.5 288.8,755.7 288.3,756 287.8,756.2 287.3,756.2 286.8,756.3 286.3,756.2 285.8,756 285.3,755.8 284.8,755.9 284.3,756 283.8,756 283.3,755.7 282.8,755.5 282.3,755.2 281.8,755.3 281.3,755.3 280.8,755.5 280.3,755.5 279.8,755.6 279.3,755.6 278.8,755.5 278.3,755.4 277.8,755.2 277.3,755.2 276.8,755.3 276.3,755.5 275.8,755.6 275.3,755.7 274.8,756 274.3,756.2 273.8,756 273.3,755.8 272.8,755.6 272.3,755.6 271.8,755.5 271.3,755.5 270.8,755.5 270.3,755.6 269.8,755.7 269.3,755.8 268.8,755.6 268.3,755.4 267.8,755.5 267.3,755.7 266.8,755.8 266.3,755.9 265.8,755.8 265.3,755.8 264.8,755.8 264.3,755.7 263.8,756 263.3,756.3 262.8,756.5 262.3,756.8 261.8,756.4 261.3,756.1 260.8,755.8 260.3,756.1 259.8,756.4 259.3,756.7 258.8,756.4 258.3,755.9 257.8,756.4 257.3,756.7 256.8,756.6 256.3,756.4 255.8,756.2 255.3,756.2 254.8,756.2 254.3,756.3 253.8,756.2 253.3,756.1 252.8,756.1 252.3,755.9 251.8,756 251.3,756 250.8,755.9 250.3,756.5 249.8,757.1 249.3,756.5 248.8,756 248.3,756.1 247.8,756 247.3,756.5 246.8,755.9 246.3,755.9 245.8,755.9 245.3,756.1 244.8,756.2 244.3,756.4 243.8,756.3 243.3,756.2 242.8,756 242.3,756.2 241.8,756.5 241.3,756.9 240.8,756.5 240.3,756.3 239.8,756 239.3,756 238.8,756 238.3,756 237.8,756 237.3,756.2 236.8,756.2 236.3,756.4 235.8,756.5 235.3,756.4 234.8,756.4 234.3,756.3 233.8,756.5 233.3,756.8 232.8,757 232.3,757.2 231.8,756.9 231.3,756.6 230.8,756.3 230.3,756.6 229.8,757 229.3,757.3 228.8,756.8 228.3,756.4 227.8,756.4 227.3,756.4 226.8,756.5 226.3,756.6 225.8,756.7 225.3,756.8 224.8,756.9 224.3,757 223.8,757.2 223.3,757.2 222.8,757.2 222.3,757.3 221.8,757.5 221.3,757.6 220.8,757.6 220.3,757.5 219.8,757.4 219.3,757.3 218.8,757.4 218.3,757.4 217.8,757.4 217.3,757.2 216.8,757.1 216.3,756.9 215.8,757.2 215.3,757.5 214.8,757.7 214.3,757.9 213.8,757.9 213.3,757.9 212.8,757.7 212.3,757.5 211.8,757.5 211.3,757.5 210.8,757.5 210.3,757.3 209.8,757.1 209.3,757.1 208.8,757.1 208.3,757.7 207.8,757.1 207.3,757.1 206.8,757.3 206.3,757.5 205.8,757.3 205.3,757.2 204.8,757.5 204.3,757.7 203.8,757.9 203.3,758.1 202.8,758.1 202.3,758.2 201.8,758.1 201.3,758 200.8,757.9 200.3,758.5 199.8,758 199.3,757.9 198.8,757.9 198.3,757.8 197.8,757.7 197.3,757.7 196.8,757.7 196.3,757.7 195.8,757.7 195.3,758.1 194.8,758.4 194.3,758.7 193.8,758.8 193.3,758.8 192.8,758.8 192.3,758.8 191.8,758.4 191.3,758 190.8,758.2 190.3,758.4 189.8,758.3 189.3,758.3 188.8,758.2 188.3,758.3 187.8,758.3 187.3,758.4 186.8,758.4 186.3,758.4 185.8,758.5 185.3,758.8 184.8,759 184.3,759.2 183.8,759.4 183.3,759.4 182.8,759.3 182.3,759.2 181.8,759.1 181.3,758.9 180.8,758.8 180.3,758.9 179.8,759 179.3,759 178.8,759.2 178.3,759.3 177.8,759.5 177.3,759.6 176.8,759.1 176.3,758.7 175.8,758.8 175.3,758.8 174.8,758.9 174.3,758.9 173.8,759 173.3,759 172.8,759.1 172.3,759.3 171.8,759.6 171.3,759.8 170.8,759.5 170.3,759.2 169.8,759 169.3,759.1 168.8,759.2 168.3,759.4 167.8,759.7 167.3,759.8 166.8,760.1 166.3,759.9 165.8,759.8 165.3,759.7 164.8,759.8 164.3,760 163.8,760.1 163.3,759.8 162.8,759.6 162.3,759.3 161.8,759.4 161.3,759.5 160.8,759.7 160.3,759.7 159.8,759.8 159.3,759.7 158.8,759.5 158.3,759.4 157.8,759.8 157.3,760.2 156.8,761.1 156.3,760.2 155.8,760.2 155.3,760.2 154.8,760.1 154.3,760 153.8,759.9 153.3,760 152.8,760 152.3,760 151.8,759.9 151.3,759.8 150.8,759.7 150.3,759.7 149.8,759.7 149.3,759.7 148.8,759.7 148.3,759.6 147.8,759.6 147.3,759.7 146.8,759.7 146.3,759.7 145.8,759.8 145.3,760 144.8,760.2 144.3,760.4 143.8,760.6 143.3,760.7 142.8,760.9 142.3,760.9 141.8,760.8 141.3,760.9 140.8,760.9 140.3,760.3 139.8,759.8 139.3,760 138.8,760.2 138.3,760.5 137.8,760.7 137.3,760.5 136.8,760.3 136.3,760.1 135.8,760.4 135.3,760.7 134.8,760.6 134.3,760.5 133.8,760.3 133.3,760.1 132.8,759.8 132.3,760 131.8,760.2 131.3,760.4 130.8,760.3 130.3,760.1 129.8,760.3 129.3,760.7 128.8,761 128.3,761 127.8,761 127.3,760.9 126.8,760.9 126.3,760.8 125.8,760.6 125.3,760.4 124.8,760.4 124.3,760.4 123.8,760.3 123.3,760.3 122.8,760.3 122.3,760.4 121.8,760.5 121.3,760.5 120.8,760.5 120.3,760.7 119.8,760.7 119.3,760.6 118.8,760.4 118.3,760.3 117.8,760.1 117.3,759.9 116.8,759.8 116.3,759.7 115.8,760 115.3,760.3 114.8,760.1 114.3,760 113.8,759.9 113.3,759.8 112.8,759.6 112.3,759.4 111.8,759.3 111.3,759.3 110.8,759.2 110.3,759.2 109.8,759.4 109.3,759.4 108.8,759.6 108.3,759.8 107.8,760" fill="#dc2a1b" stroke="#dc2a1b" stroke-width="1.6" stroke-linejoin="round"/>
<polygon points="380.3,749 380.8,749.1 381.3,749.3 381.8,749.5 382.3,749.6 382.8,749.2 383.3,749 383.8,748.8 384.3,748.9 384.8,749 385.3,749.1 385.8,749.2 386.3,749.4 386.8,749.4 387.3,749.4 387.8,749.5 388.3,749.6 388.8,749.1 389.3,748.7 389.8,748.3 390.3,748.5 390.8,748.7 391.3,748.9 391.8,749.1 392.3,749.1 392.8,749.1 393.3,749.1 393.8,749.2 394.3,749.2 394.8,749.2 395.3,749.3 395.8,749.4 396.3,749.5 396.8,749.5 397.3,749.4 397.8,749.4 398.3,749.3 398.8,749.2 399.3,749 399.8,748.8 400.3,748.5 400.8,749 401.3,749.4 401.8,749.2 402.3,748.9 402.8,748.7 403.3,748.5 403.8,748.3 404.3,748.5 404.8,748.7 405.3,748.9 405.8,749 406.3,748.9 406.8,748.8 407.3,748.8 407.8,748.6 408.3,748.8 408.8,749 409.3,749.2 409.8,749.1 410.3,749 410.8,748.9 411.3,749.1 411.8,749.3 412.3,749.1 412.8,748.9 413.3,748.7 413.8,748.8 414.3,749 414.8,749.2 415.3,749 415.8,748.8 416.3,748.7 416.8,748.7 417.3,748.7 417.8,748.9 418.3,749.1 418.8,749.2 419.3,749.4 419.8,748.9 420.3,748.4 420.8,748.5 421.3,748.5 421.8,748.6 422.3,748.6 422.8,748.6 423.3,748.8 423.8,748.9 424.3,749.1 424.8,749.2 425.3,749.2 425.8,749.1 426.3,749.1 426.8,747.6 427.3,749.1 427.8,749.1 428.3,748.8 428.8,748.5 429.3,748.5 429.8,748.5 430.3,748.5 430.8,748.4 431.3,748.3 431.8,748.2 432.3,748.2 432.8,748.4 433.3,748.7 433.8,749 434.3,749.1 434.8,749.3 435.3,749 435.8,748.7 436.3,748.4 436.8,748.1 437.3,748.5 437.8,748.8 438.3,749.1 438.8,748.9 439.3,748.6 439.8,748.3 440.3,748.6 440.8,748.9 441.3,749.3 441.8,749 442.3,748.7 442.8,748.5 443.3,748.7 443.8,748.9 444.3,749 444.8,749.2 445.3,749.3 445.8,749.3 446.3,749.4 446.8,749.5 447.3,748.9 447.8,748.3 448.3,748.7 448.8,748.9 449.3,749.2 449.8,749 450.3,748.9 450.8,748.7 451.3,748.6 451.8,748.7 452.3,748.8 452.8,748.9 453.3,749 453.8,749.1 454.3,749.2 454.8,749.3 455.3,749.2 455.8,749.1 456.3,749 456.8,748.9 457.3,748.8 457.8,748.9 458.3,749.1 458.8,749.2 459.3,749.4 459.8,749.4 460.3,749.4 460.8,749.4 461.3,749.2 461.8,749 462.3,748.8 462.8,748.6 463.3,748.7 463.8,748.7 464.3,748.8 464.8,748.8 465.3,748.8 465.8,748.8 466.3,748.7 466.8,748.7 467.3,748.6 467.8,748.5 468.3,748.5 468.8,748.7 469.3,748.8 469.8,748.8 470.3,748.8 470.8,748.8 470.8,753 470.3,753.1 469.8,753.1 469.3,753.3 468.8,753.3 468.3,753.3 467.8,753.4 467.3,753.3 466.8,753.2 466.3,753.1 465.8,752.9 465.3,752.8 464.8,752.8 464.3,752.7 463.8,752.8 463.3,752.8 462.8,752.9 462.3,752.8 461.8,752.9 461.3,752.9 460.8,752.9 460.3,752.9 459.8,753 459.3,753 458.8,752.9 458.3,752.8 457.8,752.6 457.3,752.6 456.8,752.6 456.3,752.6 455.8,752.7 455.3,752.8 454.8,753 454.3,753.1 453.8,753.1 453.3,753.1 452.8,753.2 452.3,753.1 451.8,753.2 451.3,753.2 450.8,752.9 450.3,752.8 449.8,752.5 449.3,752.7 448.8,752.8 448.3,752.9 447.8,752.8 447.3,752.8 446.8,752.8 446.3,752.7 445.8,752.8 445.3,752.9 444.8,753 444.3,752.8 443.8,752.8 443.3,752.9 442.8,753.2 442.3,753.3 441.8,753.1 441.3,752.9 440.8,753.2 440.3,753.5 439.8,753.3 439.3,753.2 438.8,753.1 438.3,752.9 437.8,752.8 437.3,752.8 436.8,752.7 436.3,752.7 435.8,753 435.3,753.2 434.8,753.4 434.3,753.5 433.8,753.6 433.3,753.1 432.8,752.8 432.3,752.8 431.8,752.7 431.3,752.7 430.8,752.6 430.3,752.7 429.8,752.6 429.3,752.6 428.8,752.6 428.3,752.8 427.8,753 427.3,753.2 426.8,754 426.3,752.9 425.8,752.8 425.3,752.8 424.8,752.7 424.3,752.7 423.8,752.7 423.3,752.8 422.8,752.7 422.3,752.8 421.8,752.8 421.3,752.9 420.8,752.8 420.3,752.8 419.8,752.7 419.3,753.1 418.8,753.4 418.3,753.8 417.8,753.6 417.3,753.5 416.8,753.2 416.3,753 415.8,752.9 415.3,752.8 414.8,752.9 414.3,753 413.8,753 413.3,753.1 412.8,753.2 412.3,753.3 411.8,753.4 411.3,753.5 410.8,753.6 410.3,753.2 409.8,752.8 409.3,752.9 408.8,753 408.3,753.1 407.8,753.4 407.3,753.8 406.8,753.4 406.3,753 405.8,752.7 405.3,752.8 404.8,752.8 404.3,752.9 403.8,752.9 403.3,752.9 402.8,752.9 402.3,752.8 401.8,753.1 401.3,753.3 400.8,753.7 400.3,753.4 399.8,753.2 399.3,753 398.8,753 398.3,753.1 397.8,753.2 397.3,753.1 396.8,753 396.3,752.9 395.8,752.8 395.3,752.8 394.8,752.8 394.3,752.8 393.8,753.2 393.3,753.6 392.8,754 392.3,753.8 391.8,753.7 391.3,753.6 390.8,753.7 390.3,753.7 389.8,753.7 389.3,753.7 388.8,753.8 388.3,753.9 387.8,753.5 387.3,753 386.8,753.2 386.3,753.4 385.8,753.5 385.3,753.3 384.8,753.1 384.3,753 383.8,753.3 383.3,753.5 382.8,753.7 382.3,754.1 381.8,753.8 381.3,753.5 380.8,753.3 380.3,753.2" fill="#000000" stroke="#000000" stroke-width="1.6" stroke-linejoin="round"/>
<text transform="translate(62.4 731.2) scale(1 1)" font-size="13.8" text-anchor="middle">-7</text>
<polygon points="60.5,734.3 65.5,734.3 63,742.9" fill="#000"/>
<text transform="translate(156.5 731.2) scale(1 1)" font-size="13.8" text-anchor="middle">-7</text>
<polygon points="154.6,734.3 159.6,734.3 157.1,742.9" fill="#000"/>
<text transform="translate(203.6 731.2) scale(1 1)" font-size="13.8" text-anchor="middle">-6</text>
<polygon points="201.7,734.3 206.7,734.3 204.2,742.9" fill="#000"/>
<text transform="translate(247 731.2) scale(1 1)" font-size="13.8" text-anchor="middle">-5</text>
<polygon points="245.1,734.3 250.1,734.3 247.6,742.9" fill="#000"/>
<text transform="translate(292.4 731.2) scale(1 1)" font-size="13.8" text-anchor="middle">-4</text>
<polygon points="290.5,734.3 295.5,734.3 293,742.9" fill="#000"/>
<text transform="translate(337.3 731.2) scale(1 1)" font-size="13.8" text-anchor="middle">-3</text>
<polygon points="335.4,734.3 340.4,734.3 337.9,742.9" fill="#000"/>
<text transform="translate(426.4 731.2) scale(1 1)" font-size="13.8" text-anchor="middle">-7</text>
<polygon points="424.5,734.3 429.5,734.3 427,742.9" fill="#000"/>
<polygon points="108.5,731.4 113.8,740.3 111.2,740.3 111.2,745.1 105.8,745.1 105.8,740.3 103.2,740.3" fill="#fff" stroke="#dc2a1b" stroke-width="1.15" stroke-linejoin="miter"/>
<polygon points="380.6,747.3 385.9,738.4 383.2,738.4 383.2,733.6 378,733.6 378,738.4 375.3,738.4" fill="#fff" stroke="#000000" stroke-width="1.15" stroke-linejoin="miter"/>
<path d="M420.8 761.2V782H441.8" fill="none" stroke="#000" stroke-width="1.3"/>
<text transform="translate(415.7 777.6) scale(1 1.04)" font-size="13" text-anchor="end">50 nA</text>
<text transform="translate(418.2 796) scale(1 1.04)" font-size="13" text-anchor="start">1 min</text>
<path d="M521.5 722.2H634.6" stroke="#000" stroke-width="1.3" stroke-dasharray="1.4 2" fill="none"/>
<circle cx="549.7" cy="629.2" r="3.3" fill="#808080"/>
<circle cx="544.7" cy="646" r="3.3" fill="#808080"/>
<circle cx="554.9" cy="654.4" r="3.3" fill="#808080"/>
<circle cx="554.9" cy="671.5" r="3.3" fill="#808080"/>
<circle cx="544.7" cy="679.9" r="3.3" fill="#808080"/>
<circle cx="594.5" cy="721.7" r="3.3" fill="#808080"/>
<circle cx="601.2" cy="721.7" r="3.3" fill="#808080"/>
<circle cx="621.4" cy="721.7" r="3.3" fill="#808080"/>
<circle cx="607.8" cy="730.6" r="3.3" fill="#808080"/>
<circle cx="614.8" cy="730.6" r="3.3" fill="#808080"/>
<path d="M540.8 636.1H559.1M540.8 676.5H559.1M549.7 636.1V676.5" stroke="#333" stroke-width="1.1" fill="none"/>
<path d="M531.1 656.2H568.5" stroke="#000" stroke-width="1.9" fill="none"/>
<path d="M598.7 721.2H617.2M598.7 730.2H617.2M607.8 721.2V730.2" stroke="#333" stroke-width="1.1" fill="none"/>
<path d="M589.3 725.9H626.4" stroke="#000" stroke-width="1.9" fill="none"/>
<path d="M521.5 594.8V764.8H634.6M516.9 595.3H521.5M516.9 637.4H521.5M516.9 679.7H521.5M516.9 722.2H521.5M516.9 764.8H521.5M549.7 764.8V769.2M606.8 764.8V769.2" stroke="#151515" stroke-width="1.25" fill="none"/>
<text transform="translate(515.4 599.9) scale(1 1.04)" font-size="12.8" text-anchor="end">150</text>
<text transform="translate(515.4 642) scale(1 1.04)" font-size="12.8" text-anchor="end">100</text>
<text transform="translate(515.4 684.3) scale(1 1.04)" font-size="12.8" text-anchor="end">50</text>
<text transform="translate(515.4 726.8) scale(1 1.04)" font-size="12.8" text-anchor="end">0</text>
<text transform="translate(515.4 769.4) scale(1 1.04)" font-size="12.8" text-anchor="end">-50</text>
<text transform="translate(490.6 668.8) rotate(-90) scale(1 1.04)" font-size="12.3" text-anchor="middle" xml:space="preserve">Current Shift (nA)</text>
<text transform="translate(545.2 589.8) scale(1 1.04)" font-size="12.8"><tspan font-style="italic">P</tspan> = 0.0079</text>
<path d="M547.4 604V596.6H603.2V604" stroke="#111" stroke-width="1.15" fill="none"/>
<polygon points="549.7,775.2 555,784.1 552.4,784.1 552.4,788.9 547.1,788.9 547.1,784.1 544.4,784.1" fill="#dc2a1b"/>
<polygon points="606.8,775.2 612.1,784.1 609.4,784.1 609.4,788.9 604.1,788.9 604.1,784.1 601.5,784.1" fill="#fff" stroke="#dc2a1b" stroke-width="1.15" stroke-linejoin="miter"/>
<path d="M681.9 637.4H797" stroke="#000" stroke-width="1.3" stroke-dasharray="1.4 2" fill="none"/>
<circle cx="710.6" cy="666.8" r="3.3" fill="#808080"/>
<circle cx="715.6" cy="675.7" r="3.3" fill="#808080"/>
<circle cx="705.2" cy="679.7" r="3.3" fill="#808080"/>
<circle cx="710.6" cy="701" r="3.3" fill="#808080"/>
<circle cx="710.6" cy="739.3" r="3.3" fill="#808080"/>
<circle cx="753.2" cy="632.9" r="3.3" fill="#808080"/>
<circle cx="780.4" cy="632.9" r="3.3" fill="#808080"/>
<circle cx="760.1" cy="637.4" r="3.3" fill="#808080"/>
<circle cx="767.1" cy="637.4" r="3.3" fill="#808080"/>
<circle cx="774" cy="637.4" r="3.3" fill="#808080"/>
<path d="M701.2 663.8H720M701.2 721.5H720M710.6 663.8V721.5" stroke="#333" stroke-width="1.1" fill="none"/>
<path d="M691.8 692.5H729.2" stroke="#000" stroke-width="1.9" fill="none"/>
<path d="M758.2 633.6H776.2M758.2 637.6H776.2M767.1 633.6V637.6" stroke="#333" stroke-width="1.1" fill="none"/>
<path d="M748.3 635.9H785.4" stroke="#000" stroke-width="1.9" fill="none"/>
<path d="M681.9 594.8V764.3H795.8M677.3 595.3H681.9M677.3 637.4H681.9M677.3 679.7H681.9M677.3 722H681.9M677.3 764.3H681.9M710.6 764.3V768.7M767.1 764.3V768.7" stroke="#151515" stroke-width="1.25" fill="none"/>
<text transform="translate(675.8 599.9) scale(1 1.04)" font-size="12.8" text-anchor="end">100</text>
<text transform="translate(675.8 642) scale(1 1.04)" font-size="12.8" text-anchor="end">0</text>
<text transform="translate(675.8 684.3) scale(1 1.04)" font-size="12.8" text-anchor="end">-100</text>
<text transform="translate(675.8 726.6) scale(1 1.04)" font-size="12.8" text-anchor="end">-200</text>
<text transform="translate(675.8 768.9) scale(1 1.04)" font-size="12.8" text-anchor="end">-300</text>
<text transform="translate(654.2 682) rotate(-90) scale(1 1.04)" font-size="12.3" text-anchor="middle" xml:space="preserve">Current (nA)</text>
<text transform="translate(704.7 589.8) scale(1 1.04)" font-size="12.8"><tspan font-style="italic">P</tspan> = 0.0079</text>
<path d="M707.4 604V596.6H763.4V604" stroke="#111" stroke-width="1.15" fill="none"/>
<polygon points="710.6,788.9 715.9,780 713.2,780 713.2,775.2 708,775.2 708,780 705.3,780" fill="#000000"/>
<polygon points="767.1,788.9 772.4,780 769.8,780 769.8,775.2 764.5,775.2 764.5,780 761.8,780" fill="#fff" stroke="#000000" stroke-width="1.15" stroke-linejoin="miter"/>
<circle cx="35.5" cy="842.8" r="6.6" fill="#d0d1d1"/>
<text transform="translate(46.6 847.9) scale(1 1.04)" font-size="16.4" text-anchor="start">ND96</text>
<circle cx="116.6" cy="842.8" r="6.6" fill="#000"/>
<text transform="translate(126.8 847.9) scale(1 1.04)" font-size="16.4">(<tspan font-style="italic">R</tspan>)-1-octen-3-ol</text>
<circle cx="265.7" cy="842.8" r="6.6" fill="#dc2a1b"/>
<text transform="translate(277.4 847.9) scale(1 1.04)" font-size="16.4" text-anchor="start">Indole</text>
<rect x="18" y="874" width="779" height="22.8" rx="11.4" fill="#d0d1d1"/>
<circle cx="144.6" cy="885.4" r="11.4" fill="#000"/>
<circle cx="225.3" cy="885.4" r="11.4" fill="#dc2a1b"/>
<path d="M225.3 885.4V874A11.4 11.4 0 0 1 236.7 885.4Z" fill="#000"/>
<circle cx="322" cy="885.4" r="11.4" fill="#dc2a1b"/>
<path d="M322 874A11.4 11.4 0 0 1 322 896.8Z" fill="#000"/>
<circle cx="419.2" cy="885.4" r="11.4" fill="#dc2a1b"/>
<rect x="522.4" y="874" width="230.4" height="22.8" rx="11.4" fill="#dc2a1b"/>
<text transform="translate(11.4 935.8) rotate(-90) scale(1 1.04)" font-size="13">Hyperpol.</text>
<text transform="translate(11.4 992.4) rotate(-90) scale(1 1.04)" font-size="13">Depol.</text>
<path d="M1.2 944.4H18" stroke="#000" stroke-width="0.9" stroke-dasharray="3.2 1.6" fill="none"/>
<polyline points="23,944.4 141.2,944.4 141.8,1012 142.6,1012 143.4,995.6 143.9,983.2 144.5,973.8 145.1,966.7 145.6,961.3 146.2,957.2 146.8,954.1 147.3,951.7 147.9,949.9 148.5,948.6 149,947.6 149.6,946.8 150.2,946.2 150.7,945.8 151.3,945.4 151.9,945.2 152.4,945 153,944.4 219.6,944.4 220.2,904 221.4,912.9 222.4,919.9 223.3,925.3 224.3,929.5 225.3,932.8 226.3,935.4 227.2,937.4 228.2,938.9 229.2,940.1 230.2,941.1 231.2,941.8 232.1,942.4 233.1,942.8 234.1,943.2 235.1,943.4 236,943.7 237,943.8 238,944.4 315.6,944.4 316.4,983.6 317.2,983.6 318.1,974.9 319,968.2 319.8,962.9 320.7,958.8 321.6,955.6 322.5,953.1 323.3,951.2 324.2,949.7 325.1,948.5 326,947.6 326.9,946.9 327.7,946.4 328.6,945.9 329.5,945.6 330.4,945.3 331.2,945.1 332.1,945 333,944.4 407.2,944.4 408.6,958.4 410.1,953.7 410.8,950.5 411.6,948.3 412.3,946.7 413,945.7 413.8,945 414.5,944.5 415.2,943.4 416.2,931 417.5,934.8 418.3,937.5 419.2,939.5 420.1,940.9 420.9,941.9 421.8,942.6 422.7,943.1 423.5,943.5 424.4,943.7 425.3,943.9 426.1,944.1 427,944.4 524.6,944.4 525.4,943 527.6,907 528.4,905.6 738.6,905.6 739.4,907 741.6,943 742.4,944.4 794.6,944.4" fill="none" stroke="#000" stroke-width="2.2" stroke-linejoin="round" stroke-linecap="butt"/>
</svg>
</body>
</html>
